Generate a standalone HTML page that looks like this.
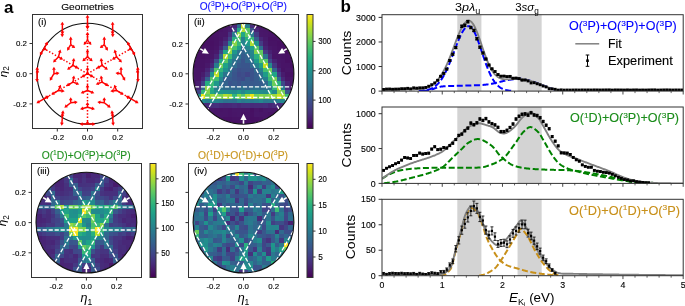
<!DOCTYPE html>
<html><head><meta charset="utf-8"><title>figure</title>
<style>html,body{margin:0;padding:0;background:#fff;width:685px;height:306px;overflow:hidden}svg{display:block;will-change:transform}text{font-family:"Liberation Sans",sans-serif}</style>
</head><body>
<svg width="685" height="306" viewBox="0 0 685 306" font-family='"Liberation Sans", sans-serif'>
<rect x="0" y="0" width="685" height="306" fill="#fff"/>
<text x="4.00" y="12.80" font-size="17.00" text-anchor="start" fill="#000" font-weight="bold">a</text>
<text x="340.50" y="12.40" font-size="17.00" text-anchor="start" fill="#000" font-weight="bold">b</text>
<text x="87.50" y="9.60" font-size="9.60" text-anchor="middle" fill="#000" textLength="52.60" lengthAdjust="spacingAndGlyphs" stroke="#000" stroke-width="0.12">Geometries</text>
<text x="243.30" y="9.80" font-size="10.00" text-anchor="middle" fill="#1010ff" textLength="87.20" lengthAdjust="spacingAndGlyphs" stroke="#1010ff" stroke-width="0.12">O(<tspan dy="-3.60" font-size="6.60">3</tspan><tspan dy="3.60">P)</tspan><tspan dy="0">+</tspan>O(<tspan dy="-3.60" font-size="6.60">3</tspan><tspan dy="3.60">P)</tspan><tspan dy="0">+</tspan>O(<tspan dy="-3.60" font-size="6.60">3</tspan><tspan dy="3.60">P)</tspan></text>
<text x="86.10" y="158.80" font-size="10.00" text-anchor="middle" fill="#1f901f" textLength="88.90" lengthAdjust="spacingAndGlyphs" stroke="#1f901f" stroke-width="0.12">O(<tspan dy="-3.60" font-size="6.60">1</tspan><tspan dy="3.60">D)</tspan><tspan dy="0">+</tspan>O(<tspan dy="-3.60" font-size="6.60">3</tspan><tspan dy="3.60">P)</tspan><tspan dy="0">+</tspan>O(<tspan dy="-3.60" font-size="6.60">3</tspan><tspan dy="3.60">P)</tspan></text>
<text x="243.00" y="158.80" font-size="10.00" text-anchor="middle" fill="#c8961e" textLength="90.00" lengthAdjust="spacingAndGlyphs" stroke="#c8961e" stroke-width="0.12">O(<tspan dy="-3.60" font-size="6.60">1</tspan><tspan dy="3.60">D)</tspan><tspan dy="0">+</tspan>O(<tspan dy="-3.60" font-size="6.60">1</tspan><tspan dy="3.60">D)</tspan><tspan dy="0">+</tspan>O(<tspan dy="-3.60" font-size="6.60">3</tspan><tspan dy="3.60">P)</tspan></text>
<g>
<line x1="87.50" y1="73.70" x2="131.15" y2="48.50" stroke="#ff0000" stroke-width="1.5" stroke-dasharray="1.4 1.9"/>
<line x1="87.50" y1="73.70" x2="87.50" y2="23.30" stroke="#ff0000" stroke-width="1.5" stroke-dasharray="1.4 1.9"/>
<line x1="87.50" y1="73.70" x2="43.85" y2="48.50" stroke="#ff0000" stroke-width="1.5" stroke-dasharray="1.4 1.9"/>
<line x1="87.50" y1="73.70" x2="43.85" y2="98.90" stroke="#ff0000" stroke-width="1.5" stroke-dasharray="1.4 1.9"/>
<line x1="87.50" y1="73.70" x2="87.50" y2="124.10" stroke="#ff0000" stroke-width="1.5" stroke-dasharray="1.4 1.9"/>
<line x1="87.50" y1="73.70" x2="131.15" y2="98.90" stroke="#ff0000" stroke-width="1.5" stroke-dasharray="1.4 1.9"/>
<circle cx="87.50" cy="73.70" r="50.40" fill="none" stroke="#111" stroke-width="1.1"/>
<line x1="87.50" y1="73.70" x2="87.50" y2="69.26" stroke="#ff0000" stroke-width="1.45"/>
<path d="M87.50 66.66L89.35 69.76L85.65 69.76Z" fill="#ff0000"/>
<line x1="87.50" y1="73.70" x2="83.65" y2="75.92" stroke="#ff0000" stroke-width="1.45"/>
<path d="M81.40 77.22L83.16 74.07L85.01 77.27Z" fill="#ff0000"/>
<line x1="87.50" y1="73.70" x2="91.35" y2="75.92" stroke="#ff0000" stroke-width="1.45"/>
<path d="M93.60 77.22L89.99 77.27L91.84 74.07Z" fill="#ff0000"/>
<line x1="102.03" y1="65.31" x2="101.38" y2="60.59" stroke="#ff0000" stroke-width="1.45"/>
<path d="M101.03 58.01L103.28 60.83L99.62 61.34Z" fill="#ff0000"/>
<line x1="102.03" y1="65.31" x2="98.83" y2="67.16" stroke="#ff0000" stroke-width="1.45"/>
<path d="M96.57 68.46L98.33 65.31L100.18 68.51Z" fill="#ff0000"/>
<line x1="102.03" y1="65.31" x2="105.80" y2="68.23" stroke="#ff0000" stroke-width="1.45"/>
<path d="M107.85 69.82L104.27 69.39L106.53 66.46Z" fill="#ff0000"/>
<line x1="87.50" y1="56.92" x2="87.50" y2="51.86" stroke="#ff0000" stroke-width="1.45"/>
<path d="M87.50 49.26L89.35 52.36L85.65 52.36Z" fill="#ff0000"/>
<line x1="87.50" y1="56.92" x2="84.33" y2="59.51" stroke="#ff0000" stroke-width="1.45"/>
<path d="M82.32 61.15L83.55 57.76L85.89 60.63Z" fill="#ff0000"/>
<line x1="87.50" y1="56.92" x2="90.67" y2="59.51" stroke="#ff0000" stroke-width="1.45"/>
<path d="M92.68 61.15L89.11 60.63L91.45 57.76Z" fill="#ff0000"/>
<line x1="72.97" y1="65.31" x2="73.62" y2="60.59" stroke="#ff0000" stroke-width="1.45"/>
<path d="M73.97 58.01L75.38 61.34L71.72 60.83Z" fill="#ff0000"/>
<line x1="72.97" y1="65.31" x2="69.20" y2="68.23" stroke="#ff0000" stroke-width="1.45"/>
<path d="M67.15 69.82L68.47 66.46L70.73 69.39Z" fill="#ff0000"/>
<line x1="72.97" y1="65.31" x2="76.17" y2="67.16" stroke="#ff0000" stroke-width="1.45"/>
<path d="M78.43 68.46L74.82 68.51L76.67 65.31Z" fill="#ff0000"/>
<line x1="72.97" y1="82.09" x2="73.63" y2="78.05" stroke="#ff0000" stroke-width="1.45"/>
<path d="M74.04 75.49L75.37 78.84L71.72 78.25Z" fill="#ff0000"/>
<line x1="72.97" y1="82.09" x2="68.58" y2="84.62" stroke="#ff0000" stroke-width="1.45"/>
<path d="M66.33 85.92L68.09 82.77L69.94 85.97Z" fill="#ff0000"/>
<line x1="72.97" y1="82.09" x2="76.79" y2="83.54" stroke="#ff0000" stroke-width="1.45"/>
<path d="M79.22 84.46L75.67 85.09L76.98 81.63Z" fill="#ff0000"/>
<line x1="87.50" y1="90.48" x2="87.50" y2="86.78" stroke="#ff0000" stroke-width="1.45"/>
<path d="M87.50 84.18L89.35 87.28L85.65 87.28Z" fill="#ff0000"/>
<line x1="87.50" y1="90.48" x2="83.09" y2="92.28" stroke="#ff0000" stroke-width="1.45"/>
<path d="M80.68 93.26L82.85 90.38L84.25 93.80Z" fill="#ff0000"/>
<line x1="87.50" y1="90.48" x2="91.91" y2="92.28" stroke="#ff0000" stroke-width="1.45"/>
<path d="M94.32 93.26L90.75 93.80L92.15 90.38Z" fill="#ff0000"/>
<line x1="102.03" y1="82.09" x2="101.37" y2="78.05" stroke="#ff0000" stroke-width="1.45"/>
<path d="M100.96 75.49L103.28 78.25L99.63 78.84Z" fill="#ff0000"/>
<line x1="102.03" y1="82.09" x2="98.21" y2="83.54" stroke="#ff0000" stroke-width="1.45"/>
<path d="M95.78 84.46L98.02 81.63L99.33 85.09Z" fill="#ff0000"/>
<line x1="102.03" y1="82.09" x2="106.42" y2="84.62" stroke="#ff0000" stroke-width="1.45"/>
<path d="M108.67 85.92L105.06 85.97L106.91 82.77Z" fill="#ff0000"/>
<line x1="121.06" y1="73.70" x2="121.06" y2="69.26" stroke="#ff0000" stroke-width="1.45"/>
<path d="M121.06 66.66L122.91 69.76L119.21 69.76Z" fill="#ff0000"/>
<line x1="121.06" y1="73.70" x2="118.05" y2="73.34" stroke="#ff0000" stroke-width="1.45"/>
<path d="M115.47 73.03L118.77 71.56L118.33 75.24Z" fill="#ff0000"/>
<line x1="121.06" y1="73.70" x2="123.87" y2="78.40" stroke="#ff0000" stroke-width="1.45"/>
<path d="M125.21 80.63L122.03 78.92L125.20 77.02Z" fill="#ff0000"/>
<line x1="116.56" y1="56.92" x2="115.20" y2="52.04" stroke="#ff0000" stroke-width="1.45"/>
<path d="M114.51 49.54L117.12 52.03L113.56 53.02Z" fill="#ff0000"/>
<line x1="116.56" y1="56.92" x2="114.19" y2="58.29" stroke="#ff0000" stroke-width="1.45"/>
<path d="M111.94 59.59L113.70 56.44L115.55 59.64Z" fill="#ff0000"/>
<line x1="116.56" y1="56.92" x2="120.11" y2="60.54" stroke="#ff0000" stroke-width="1.45"/>
<path d="M121.93 62.39L118.44 61.48L121.08 58.88Z" fill="#ff0000"/>
<line x1="104.28" y1="44.64" x2="104.28" y2="39.16" stroke="#ff0000" stroke-width="1.45"/>
<path d="M104.28 36.56L106.13 39.66L102.43 39.66Z" fill="#ff0000"/>
<line x1="104.28" y1="44.64" x2="101.88" y2="46.49" stroke="#ff0000" stroke-width="1.45"/>
<path d="M99.83 48.09L101.15 44.73L103.41 47.65Z" fill="#ff0000"/>
<line x1="104.28" y1="44.64" x2="106.56" y2="48.45" stroke="#ff0000" stroke-width="1.45"/>
<path d="M107.90 50.68L104.72 48.97L107.89 47.07Z" fill="#ff0000"/>
<line x1="87.50" y1="40.14" x2="87.50" y2="34.53" stroke="#ff0000" stroke-width="1.45"/>
<path d="M87.50 31.93L89.35 35.03L85.65 35.03Z" fill="#ff0000"/>
<line x1="87.50" y1="40.14" x2="85.23" y2="43.07" stroke="#ff0000" stroke-width="1.45"/>
<path d="M83.64 45.12L84.08 41.54L87.00 43.81Z" fill="#ff0000"/>
<line x1="87.50" y1="40.14" x2="89.77" y2="43.07" stroke="#ff0000" stroke-width="1.45"/>
<path d="M91.36 45.12L88.00 43.81L90.92 41.54Z" fill="#ff0000"/>
<line x1="70.72" y1="44.64" x2="70.72" y2="39.16" stroke="#ff0000" stroke-width="1.45"/>
<path d="M70.72 36.56L72.57 39.66L68.87 39.66Z" fill="#ff0000"/>
<line x1="70.72" y1="44.64" x2="68.44" y2="48.45" stroke="#ff0000" stroke-width="1.45"/>
<path d="M67.10 50.68L67.11 47.07L70.28 48.97Z" fill="#ff0000"/>
<line x1="70.72" y1="44.64" x2="73.12" y2="46.49" stroke="#ff0000" stroke-width="1.45"/>
<path d="M75.17 48.09L71.59 47.65L73.85 44.73Z" fill="#ff0000"/>
<line x1="58.44" y1="56.92" x2="59.80" y2="52.04" stroke="#ff0000" stroke-width="1.45"/>
<path d="M60.49 49.54L61.44 53.02L57.88 52.03Z" fill="#ff0000"/>
<line x1="58.44" y1="56.92" x2="54.89" y2="60.54" stroke="#ff0000" stroke-width="1.45"/>
<path d="M53.07 62.39L53.92 58.88L56.56 61.48Z" fill="#ff0000"/>
<line x1="58.44" y1="56.92" x2="60.81" y2="58.29" stroke="#ff0000" stroke-width="1.45"/>
<path d="M63.06 59.59L59.45 59.64L61.30 56.44Z" fill="#ff0000"/>
<line x1="53.94" y1="73.70" x2="53.94" y2="69.26" stroke="#ff0000" stroke-width="1.45"/>
<path d="M53.94 66.66L55.79 69.76L52.09 69.76Z" fill="#ff0000"/>
<line x1="53.94" y1="73.70" x2="51.13" y2="78.40" stroke="#ff0000" stroke-width="1.45"/>
<path d="M49.79 80.63L49.80 77.02L52.97 78.92Z" fill="#ff0000"/>
<line x1="53.94" y1="73.70" x2="56.95" y2="73.34" stroke="#ff0000" stroke-width="1.45"/>
<path d="M59.53 73.03L56.67 75.24L56.23 71.56Z" fill="#ff0000"/>
<line x1="58.44" y1="90.48" x2="59.84" y2="87.05" stroke="#ff0000" stroke-width="1.45"/>
<path d="M60.82 84.65L61.36 88.22L57.94 86.82Z" fill="#ff0000"/>
<line x1="58.44" y1="90.48" x2="53.58" y2="93.29" stroke="#ff0000" stroke-width="1.45"/>
<path d="M51.32 94.59L53.08 91.43L54.93 94.64Z" fill="#ff0000"/>
<line x1="58.44" y1="90.48" x2="62.11" y2="90.98" stroke="#ff0000" stroke-width="1.45"/>
<path d="M64.68 91.33L61.36 92.74L61.86 89.08Z" fill="#ff0000"/>
<line x1="70.72" y1="102.76" x2="70.72" y2="99.73" stroke="#ff0000" stroke-width="1.45"/>
<path d="M70.72 97.13L72.57 100.23L68.87 100.23Z" fill="#ff0000"/>
<line x1="70.72" y1="102.76" x2="66.39" y2="106.11" stroke="#ff0000" stroke-width="1.45"/>
<path d="M64.34 107.71L65.66 104.34L67.92 107.27Z" fill="#ff0000"/>
<line x1="70.72" y1="102.76" x2="75.13" y2="102.23" stroke="#ff0000" stroke-width="1.45"/>
<path d="M77.71 101.92L74.86 104.13L74.42 100.45Z" fill="#ff0000"/>
<line x1="87.50" y1="107.26" x2="87.50" y2="104.52" stroke="#ff0000" stroke-width="1.45"/>
<path d="M87.50 101.92L89.35 105.02L85.65 105.02Z" fill="#ff0000"/>
<line x1="87.50" y1="107.26" x2="82.59" y2="108.52" stroke="#ff0000" stroke-width="1.45"/>
<path d="M80.08 109.17L82.62 106.61L83.54 110.19Z" fill="#ff0000"/>
<line x1="87.50" y1="107.26" x2="92.41" y2="108.52" stroke="#ff0000" stroke-width="1.45"/>
<path d="M94.92 109.17L91.46 110.19L92.38 106.61Z" fill="#ff0000"/>
<line x1="104.28" y1="102.76" x2="104.28" y2="99.73" stroke="#ff0000" stroke-width="1.45"/>
<path d="M104.28 97.13L106.13 100.23L102.43 100.23Z" fill="#ff0000"/>
<line x1="104.28" y1="102.76" x2="99.87" y2="102.23" stroke="#ff0000" stroke-width="1.45"/>
<path d="M97.29 101.92L100.58 100.45L100.14 104.13Z" fill="#ff0000"/>
<line x1="104.28" y1="102.76" x2="108.61" y2="106.11" stroke="#ff0000" stroke-width="1.45"/>
<path d="M110.66 107.71L107.08 107.27L109.34 104.34Z" fill="#ff0000"/>
<line x1="116.56" y1="90.48" x2="115.16" y2="87.05" stroke="#ff0000" stroke-width="1.45"/>
<path d="M114.18 84.65L117.06 86.82L113.64 88.22Z" fill="#ff0000"/>
<line x1="116.56" y1="90.48" x2="112.89" y2="90.98" stroke="#ff0000" stroke-width="1.45"/>
<path d="M110.32 91.33L113.14 89.08L113.64 92.74Z" fill="#ff0000"/>
<line x1="116.56" y1="90.48" x2="121.42" y2="93.29" stroke="#ff0000" stroke-width="1.45"/>
<path d="M123.68 94.59L120.07 94.64L121.92 91.43Z" fill="#ff0000"/>
<line x1="137.78" y1="73.70" x2="137.78" y2="69.26" stroke="#ff0000" stroke-width="1.45"/>
<path d="M137.78 66.66L139.63 69.76L135.93 69.76Z" fill="#ff0000"/>
<line x1="137.78" y1="73.70" x2="137.58" y2="71.83" stroke="#ff0000" stroke-width="1.45"/>
<path d="M137.31 69.24L139.48 72.13L135.80 72.52Z" fill="#ff0000"/>
<line x1="137.78" y1="73.70" x2="137.95" y2="79.62" stroke="#ff0000" stroke-width="1.45"/>
<path d="M138.02 82.22L136.09 79.17L139.79 79.06Z" fill="#ff0000"/>
<line x1="131.05" y1="48.56" x2="128.43" y2="43.89" stroke="#ff0000" stroke-width="1.45"/>
<path d="M127.16 41.62L130.29 43.42L127.06 45.23Z" fill="#ff0000"/>
<line x1="131.05" y1="48.56" x2="130.27" y2="49.01" stroke="#ff0000" stroke-width="1.45"/>
<path d="M128.02 50.31L129.77 47.16L131.62 50.36Z" fill="#ff0000"/>
<line x1="131.05" y1="48.56" x2="133.78" y2="53.16" stroke="#ff0000" stroke-width="1.45"/>
<path d="M135.11 55.39L131.93 53.67L135.11 51.78Z" fill="#ff0000"/>
<line x1="112.64" y1="30.15" x2="112.64" y2="24.23" stroke="#ff0000" stroke-width="1.45"/>
<path d="M112.64 21.63L114.49 24.73L110.79 24.73Z" fill="#ff0000"/>
<line x1="112.64" y1="30.15" x2="112.50" y2="32.03" stroke="#ff0000" stroke-width="1.45"/>
<path d="M112.30 34.62L110.69 31.39L114.38 31.68Z" fill="#ff0000"/>
<line x1="112.64" y1="30.15" x2="112.77" y2="34.59" stroke="#ff0000" stroke-width="1.45"/>
<path d="M112.84 37.19L110.90 34.15L114.60 34.04Z" fill="#ff0000"/>
<line x1="87.50" y1="23.42" x2="87.50" y2="17.30" stroke="#ff0000" stroke-width="1.45"/>
<path d="M87.50 14.70L89.35 17.80L85.65 17.80Z" fill="#ff0000"/>
<line x1="87.50" y1="23.42" x2="87.37" y2="26.67" stroke="#ff0000" stroke-width="1.45"/>
<path d="M87.27 29.27L85.54 26.10L89.24 26.25Z" fill="#ff0000"/>
<line x1="87.50" y1="23.42" x2="87.63" y2="26.67" stroke="#ff0000" stroke-width="1.45"/>
<path d="M87.73 29.27L85.76 26.25L89.46 26.10Z" fill="#ff0000"/>
<line x1="62.36" y1="30.15" x2="62.36" y2="24.23" stroke="#ff0000" stroke-width="1.45"/>
<path d="M62.36 21.63L64.21 24.73L60.51 24.73Z" fill="#ff0000"/>
<line x1="62.36" y1="30.15" x2="62.23" y2="34.59" stroke="#ff0000" stroke-width="1.45"/>
<path d="M62.16 37.19L60.40 34.04L64.10 34.15Z" fill="#ff0000"/>
<line x1="62.36" y1="30.15" x2="62.50" y2="32.03" stroke="#ff0000" stroke-width="1.45"/>
<path d="M62.70 34.62L60.62 31.68L64.31 31.39Z" fill="#ff0000"/>
<line x1="43.95" y1="48.56" x2="46.57" y2="43.89" stroke="#ff0000" stroke-width="1.45"/>
<path d="M47.84 41.62L47.94 45.23L44.71 43.42Z" fill="#ff0000"/>
<line x1="43.95" y1="48.56" x2="41.22" y2="53.16" stroke="#ff0000" stroke-width="1.45"/>
<path d="M39.89 55.39L39.89 51.78L43.07 53.67Z" fill="#ff0000"/>
<line x1="43.95" y1="48.56" x2="44.73" y2="49.01" stroke="#ff0000" stroke-width="1.45"/>
<path d="M46.98 50.31L43.38 50.36L45.23 47.16Z" fill="#ff0000"/>
<line x1="37.22" y1="73.70" x2="37.22" y2="69.26" stroke="#ff0000" stroke-width="1.45"/>
<path d="M37.22 66.66L39.07 69.76L35.37 69.76Z" fill="#ff0000"/>
<line x1="37.22" y1="73.70" x2="37.05" y2="79.62" stroke="#ff0000" stroke-width="1.45"/>
<path d="M36.98 82.22L35.21 79.06L38.91 79.17Z" fill="#ff0000"/>
<line x1="37.22" y1="73.70" x2="37.42" y2="71.83" stroke="#ff0000" stroke-width="1.45"/>
<path d="M37.69 69.24L39.20 72.52L35.52 72.13Z" fill="#ff0000"/>
<line x1="43.95" y1="98.84" x2="46.71" y2="97.10" stroke="#ff0000" stroke-width="1.45"/>
<path d="M48.91 95.72L47.27 98.94L45.30 95.81Z" fill="#ff0000"/>
<line x1="43.95" y1="98.84" x2="38.66" y2="101.90" stroke="#ff0000" stroke-width="1.45"/>
<path d="M36.41 103.20L38.17 100.05L40.02 103.25Z" fill="#ff0000"/>
<line x1="43.95" y1="98.84" x2="46.84" y2="97.32" stroke="#ff0000" stroke-width="1.45"/>
<path d="M49.14 96.11L47.26 99.19L45.53 95.92Z" fill="#ff0000"/>
<line x1="62.36" y1="117.25" x2="62.36" y2="115.36" stroke="#ff0000" stroke-width="1.45"/>
<path d="M62.36 112.76L64.21 115.86L60.51 115.86Z" fill="#ff0000"/>
<line x1="62.36" y1="117.25" x2="61.90" y2="123.15" stroke="#ff0000" stroke-width="1.45"/>
<path d="M61.70 125.74L60.10 122.51L63.78 122.79Z" fill="#ff0000"/>
<line x1="62.36" y1="117.25" x2="62.83" y2="112.83" stroke="#ff0000" stroke-width="1.45"/>
<path d="M63.10 110.24L64.61 113.52L60.93 113.13Z" fill="#ff0000"/>
<line x1="87.50" y1="123.98" x2="87.50" y2="123.08" stroke="#ff0000" stroke-width="1.45"/>
<path d="M87.50 120.48L89.35 123.58L85.65 123.58Z" fill="#ff0000"/>
<line x1="87.50" y1="123.98" x2="82.15" y2="124.05" stroke="#ff0000" stroke-width="1.45"/>
<path d="M79.55 124.09L82.63 122.20L82.68 125.90Z" fill="#ff0000"/>
<line x1="87.50" y1="123.98" x2="92.85" y2="124.05" stroke="#ff0000" stroke-width="1.45"/>
<path d="M95.45 124.09L92.32 125.90L92.37 122.20Z" fill="#ff0000"/>
<line x1="112.64" y1="117.25" x2="112.64" y2="115.36" stroke="#ff0000" stroke-width="1.45"/>
<path d="M112.64 112.76L114.49 115.86L110.79 115.86Z" fill="#ff0000"/>
<line x1="112.64" y1="117.25" x2="112.17" y2="112.83" stroke="#ff0000" stroke-width="1.45"/>
<path d="M111.90 110.24L114.07 113.13L110.39 113.52Z" fill="#ff0000"/>
<line x1="112.64" y1="117.25" x2="113.10" y2="123.15" stroke="#ff0000" stroke-width="1.45"/>
<path d="M113.30 125.74L111.22 122.79L114.90 122.51Z" fill="#ff0000"/>
<line x1="131.05" y1="98.84" x2="128.29" y2="97.10" stroke="#ff0000" stroke-width="1.45"/>
<path d="M126.09 95.72L129.70 95.81L127.73 98.94Z" fill="#ff0000"/>
<line x1="131.05" y1="98.84" x2="128.16" y2="97.32" stroke="#ff0000" stroke-width="1.45"/>
<path d="M125.86 96.11L129.47 95.92L127.74 99.19Z" fill="#ff0000"/>
<line x1="131.05" y1="98.84" x2="136.34" y2="101.90" stroke="#ff0000" stroke-width="1.45"/>
<path d="M138.59 103.20L134.98 103.25L136.83 100.05Z" fill="#ff0000"/>
</g>
<defs><clipPath id="clip_ii"><circle cx="243.50" cy="73.80" r="50.40"/></clipPath></defs>
<g clip-path="url(#clip_ii)" shape-rendering="crispEdges">
<rect x="218.70" y="23.25" width="4.50" height="4.50" fill="#471063"/>
<rect x="223.15" y="23.25" width="4.50" height="4.50" fill="#471365"/>
<rect x="227.60" y="23.25" width="4.50" height="4.50" fill="#481769"/>
<rect x="232.05" y="23.25" width="4.50" height="4.50" fill="#482677"/>
<rect x="236.50" y="23.25" width="4.50" height="4.50" fill="#2f6c8e"/>
<rect x="240.95" y="23.25" width="4.50" height="4.50" fill="#c2df23"/>
<rect x="245.40" y="23.25" width="4.50" height="4.50" fill="#26828e"/>
<rect x="249.85" y="23.25" width="4.50" height="4.50" fill="#472e7c"/>
<rect x="254.30" y="23.25" width="4.50" height="4.50" fill="#481668"/>
<rect x="258.75" y="23.25" width="4.50" height="4.50" fill="#481467"/>
<rect x="263.20" y="23.25" width="4.50" height="4.50" fill="#471063"/>
<rect x="214.25" y="27.70" width="4.50" height="4.50" fill="#471063"/>
<rect x="218.70" y="27.70" width="4.50" height="4.50" fill="#481467"/>
<rect x="223.15" y="27.70" width="4.50" height="4.50" fill="#481769"/>
<rect x="227.60" y="27.70" width="4.50" height="4.50" fill="#481d6f"/>
<rect x="232.05" y="27.70" width="4.50" height="4.50" fill="#423f85"/>
<rect x="236.50" y="27.70" width="4.50" height="4.50" fill="#22a884"/>
<rect x="240.95" y="27.70" width="4.50" height="4.50" fill="#b0dd2f"/>
<rect x="245.40" y="27.70" width="4.50" height="4.50" fill="#54c568"/>
<rect x="249.85" y="27.70" width="4.50" height="4.50" fill="#3b528b"/>
<rect x="254.30" y="27.70" width="4.50" height="4.50" fill="#482475"/>
<rect x="258.75" y="27.70" width="4.50" height="4.50" fill="#481769"/>
<rect x="263.20" y="27.70" width="4.50" height="4.50" fill="#481668"/>
<rect x="267.65" y="27.70" width="4.50" height="4.50" fill="#471365"/>
<rect x="205.35" y="32.15" width="4.50" height="4.50" fill="#471063"/>
<rect x="209.80" y="32.15" width="4.50" height="4.50" fill="#471365"/>
<rect x="214.25" y="32.15" width="4.50" height="4.50" fill="#481467"/>
<rect x="218.70" y="32.15" width="4.50" height="4.50" fill="#481769"/>
<rect x="223.15" y="32.15" width="4.50" height="4.50" fill="#481769"/>
<rect x="227.60" y="32.15" width="4.50" height="4.50" fill="#46307e"/>
<rect x="232.05" y="32.15" width="4.50" height="4.50" fill="#297b8e"/>
<rect x="236.50" y="32.15" width="4.50" height="4.50" fill="#8bd646"/>
<rect x="240.95" y="32.15" width="4.50" height="4.50" fill="#22a785"/>
<rect x="245.40" y="32.15" width="4.50" height="4.50" fill="#60ca60"/>
<rect x="249.85" y="32.15" width="4.50" height="4.50" fill="#29798e"/>
<rect x="254.30" y="32.15" width="4.50" height="4.50" fill="#443a83"/>
<rect x="258.75" y="32.15" width="4.50" height="4.50" fill="#48186a"/>
<rect x="263.20" y="32.15" width="4.50" height="4.50" fill="#481769"/>
<rect x="267.65" y="32.15" width="4.50" height="4.50" fill="#481467"/>
<rect x="272.10" y="32.15" width="4.50" height="4.50" fill="#481467"/>
<rect x="276.55" y="32.15" width="4.50" height="4.50" fill="#471164"/>
<rect x="200.90" y="36.60" width="4.50" height="4.50" fill="#471063"/>
<rect x="205.35" y="36.60" width="4.50" height="4.50" fill="#471164"/>
<rect x="209.80" y="36.60" width="4.50" height="4.50" fill="#471164"/>
<rect x="214.25" y="36.60" width="4.50" height="4.50" fill="#471365"/>
<rect x="218.70" y="36.60" width="4.50" height="4.50" fill="#481668"/>
<rect x="223.15" y="36.60" width="4.50" height="4.50" fill="#482071"/>
<rect x="227.60" y="36.60" width="4.50" height="4.50" fill="#3f4788"/>
<rect x="232.05" y="36.60" width="4.50" height="4.50" fill="#27ad81"/>
<rect x="236.50" y="36.60" width="4.50" height="4.50" fill="#4ac16d"/>
<rect x="240.95" y="36.60" width="4.50" height="4.50" fill="#27808e"/>
<rect x="245.40" y="36.60" width="4.50" height="4.50" fill="#29af7f"/>
<rect x="249.85" y="36.60" width="4.50" height="4.50" fill="#38b977"/>
<rect x="254.30" y="36.60" width="4.50" height="4.50" fill="#375b8d"/>
<rect x="258.75" y="36.60" width="4.50" height="4.50" fill="#482576"/>
<rect x="263.20" y="36.60" width="4.50" height="4.50" fill="#481a6c"/>
<rect x="267.65" y="36.60" width="4.50" height="4.50" fill="#471164"/>
<rect x="272.10" y="36.60" width="4.50" height="4.50" fill="#471164"/>
<rect x="276.55" y="36.60" width="4.50" height="4.50" fill="#471365"/>
<rect x="281.00" y="36.60" width="4.50" height="4.50" fill="#471063"/>
<rect x="200.90" y="41.05" width="4.50" height="4.50" fill="#470e61"/>
<rect x="205.35" y="41.05" width="4.50" height="4.50" fill="#471164"/>
<rect x="209.80" y="41.05" width="4.50" height="4.50" fill="#471063"/>
<rect x="214.25" y="41.05" width="4.50" height="4.50" fill="#471365"/>
<rect x="218.70" y="41.05" width="4.50" height="4.50" fill="#481a6c"/>
<rect x="223.15" y="41.05" width="4.50" height="4.50" fill="#46327e"/>
<rect x="227.60" y="41.05" width="4.50" height="4.50" fill="#25838e"/>
<rect x="232.05" y="41.05" width="4.50" height="4.50" fill="#86d549"/>
<rect x="236.50" y="41.05" width="4.50" height="4.50" fill="#34b679"/>
<rect x="240.95" y="41.05" width="4.50" height="4.50" fill="#25838e"/>
<rect x="245.40" y="41.05" width="4.50" height="4.50" fill="#1f9a8a"/>
<rect x="249.85" y="41.05" width="4.50" height="4.50" fill="#aadc32"/>
<rect x="254.30" y="41.05" width="4.50" height="4.50" fill="#20928c"/>
<rect x="258.75" y="41.05" width="4.50" height="4.50" fill="#443b84"/>
<rect x="263.20" y="41.05" width="4.50" height="4.50" fill="#481d6f"/>
<rect x="267.65" y="41.05" width="4.50" height="4.50" fill="#471365"/>
<rect x="272.10" y="41.05" width="4.50" height="4.50" fill="#471365"/>
<rect x="276.55" y="41.05" width="4.50" height="4.50" fill="#471063"/>
<rect x="281.00" y="41.05" width="4.50" height="4.50" fill="#471164"/>
<rect x="196.45" y="45.50" width="4.50" height="4.50" fill="#471063"/>
<rect x="200.90" y="45.50" width="4.50" height="4.50" fill="#471164"/>
<rect x="205.35" y="45.50" width="4.50" height="4.50" fill="#471365"/>
<rect x="209.80" y="45.50" width="4.50" height="4.50" fill="#471164"/>
<rect x="214.25" y="45.50" width="4.50" height="4.50" fill="#481467"/>
<rect x="218.70" y="45.50" width="4.50" height="4.50" fill="#482576"/>
<rect x="223.15" y="45.50" width="4.50" height="4.50" fill="#365c8d"/>
<rect x="227.60" y="45.50" width="4.50" height="4.50" fill="#8ed645"/>
<rect x="232.05" y="45.50" width="4.50" height="4.50" fill="#44bf70"/>
<rect x="236.50" y="45.50" width="4.50" height="4.50" fill="#1e9d89"/>
<rect x="240.95" y="45.50" width="4.50" height="4.50" fill="#31668e"/>
<rect x="245.40" y="45.50" width="4.50" height="4.50" fill="#25858e"/>
<rect x="249.85" y="45.50" width="4.50" height="4.50" fill="#1fa188"/>
<rect x="254.30" y="45.50" width="4.50" height="4.50" fill="#56c667"/>
<rect x="258.75" y="45.50" width="4.50" height="4.50" fill="#2d708e"/>
<rect x="263.20" y="45.50" width="4.50" height="4.50" fill="#482475"/>
<rect x="267.65" y="45.50" width="4.50" height="4.50" fill="#481769"/>
<rect x="272.10" y="45.50" width="4.50" height="4.50" fill="#481467"/>
<rect x="276.55" y="45.50" width="4.50" height="4.50" fill="#471164"/>
<rect x="281.00" y="45.50" width="4.50" height="4.50" fill="#471164"/>
<rect x="285.45" y="45.50" width="4.50" height="4.50" fill="#470e61"/>
<rect x="196.45" y="49.95" width="4.50" height="4.50" fill="#471063"/>
<rect x="200.90" y="49.95" width="4.50" height="4.50" fill="#471164"/>
<rect x="205.35" y="49.95" width="4.50" height="4.50" fill="#481467"/>
<rect x="209.80" y="49.95" width="4.50" height="4.50" fill="#481668"/>
<rect x="214.25" y="49.95" width="4.50" height="4.50" fill="#481a6c"/>
<rect x="218.70" y="49.95" width="4.50" height="4.50" fill="#404588"/>
<rect x="223.15" y="49.95" width="4.50" height="4.50" fill="#21a585"/>
<rect x="227.60" y="49.95" width="4.50" height="4.50" fill="#95d840"/>
<rect x="232.05" y="49.95" width="4.50" height="4.50" fill="#1f978b"/>
<rect x="236.50" y="49.95" width="4.50" height="4.50" fill="#2b758e"/>
<rect x="240.95" y="49.95" width="4.50" height="4.50" fill="#33638d"/>
<rect x="245.40" y="49.95" width="4.50" height="4.50" fill="#2b748e"/>
<rect x="249.85" y="49.95" width="4.50" height="4.50" fill="#25858e"/>
<rect x="254.30" y="49.95" width="4.50" height="4.50" fill="#7fd34e"/>
<rect x="258.75" y="49.95" width="4.50" height="4.50" fill="#5ec962"/>
<rect x="263.20" y="49.95" width="4.50" height="4.50" fill="#443b84"/>
<rect x="267.65" y="49.95" width="4.50" height="4.50" fill="#482173"/>
<rect x="272.10" y="49.95" width="4.50" height="4.50" fill="#481668"/>
<rect x="276.55" y="49.95" width="4.50" height="4.50" fill="#481467"/>
<rect x="281.00" y="49.95" width="4.50" height="4.50" fill="#481467"/>
<rect x="285.45" y="49.95" width="4.50" height="4.50" fill="#470e61"/>
<rect x="289.90" y="49.95" width="4.50" height="4.50" fill="#471063"/>
<rect x="192.00" y="54.40" width="4.50" height="4.50" fill="#470e61"/>
<rect x="196.45" y="54.40" width="4.50" height="4.50" fill="#471164"/>
<rect x="200.90" y="54.40" width="4.50" height="4.50" fill="#471063"/>
<rect x="205.35" y="54.40" width="4.50" height="4.50" fill="#471365"/>
<rect x="209.80" y="54.40" width="4.50" height="4.50" fill="#481769"/>
<rect x="214.25" y="54.40" width="4.50" height="4.50" fill="#482576"/>
<rect x="218.70" y="54.40" width="4.50" height="4.50" fill="#2f6b8e"/>
<rect x="223.15" y="54.40" width="4.50" height="4.50" fill="#b0dd2f"/>
<rect x="227.60" y="54.40" width="4.50" height="4.50" fill="#3dbc74"/>
<rect x="232.05" y="54.40" width="4.50" height="4.50" fill="#25838e"/>
<rect x="236.50" y="54.40" width="4.50" height="4.50" fill="#2c738e"/>
<rect x="240.95" y="54.40" width="4.50" height="4.50" fill="#375b8d"/>
<rect x="245.40" y="54.40" width="4.50" height="4.50" fill="#33628d"/>
<rect x="249.85" y="54.40" width="4.50" height="4.50" fill="#25838e"/>
<rect x="254.30" y="54.40" width="4.50" height="4.50" fill="#2ab07f"/>
<rect x="258.75" y="54.40" width="4.50" height="4.50" fill="#67cc5c"/>
<rect x="263.20" y="54.40" width="4.50" height="4.50" fill="#2b758e"/>
<rect x="267.65" y="54.40" width="4.50" height="4.50" fill="#472e7c"/>
<rect x="272.10" y="54.40" width="4.50" height="4.50" fill="#481467"/>
<rect x="276.55" y="54.40" width="4.50" height="4.50" fill="#481467"/>
<rect x="281.00" y="54.40" width="4.50" height="4.50" fill="#471365"/>
<rect x="285.45" y="54.40" width="4.50" height="4.50" fill="#471164"/>
<rect x="289.90" y="54.40" width="4.50" height="4.50" fill="#470e61"/>
<rect x="192.00" y="58.85" width="4.50" height="4.50" fill="#471063"/>
<rect x="196.45" y="58.85" width="4.50" height="4.50" fill="#471365"/>
<rect x="200.90" y="58.85" width="4.50" height="4.50" fill="#471365"/>
<rect x="205.35" y="58.85" width="4.50" height="4.50" fill="#481467"/>
<rect x="209.80" y="58.85" width="4.50" height="4.50" fill="#481d6f"/>
<rect x="214.25" y="58.85" width="4.50" height="4.50" fill="#3d4e8a"/>
<rect x="218.70" y="58.85" width="4.50" height="4.50" fill="#24aa83"/>
<rect x="223.15" y="58.85" width="4.50" height="4.50" fill="#56c667"/>
<rect x="227.60" y="58.85" width="4.50" height="4.50" fill="#218f8d"/>
<rect x="232.05" y="58.85" width="4.50" height="4.50" fill="#2d718e"/>
<rect x="236.50" y="58.85" width="4.50" height="4.50" fill="#34618d"/>
<rect x="240.95" y="58.85" width="4.50" height="4.50" fill="#3a548c"/>
<rect x="245.40" y="58.85" width="4.50" height="4.50" fill="#31668e"/>
<rect x="249.85" y="58.85" width="4.50" height="4.50" fill="#2d708e"/>
<rect x="254.30" y="58.85" width="4.50" height="4.50" fill="#1e9b8a"/>
<rect x="258.75" y="58.85" width="4.50" height="4.50" fill="#5ac864"/>
<rect x="263.20" y="58.85" width="4.50" height="4.50" fill="#54c568"/>
<rect x="267.65" y="58.85" width="4.50" height="4.50" fill="#3f4889"/>
<rect x="272.10" y="58.85" width="4.50" height="4.50" fill="#482173"/>
<rect x="276.55" y="58.85" width="4.50" height="4.50" fill="#481668"/>
<rect x="281.00" y="58.85" width="4.50" height="4.50" fill="#481467"/>
<rect x="285.45" y="58.85" width="4.50" height="4.50" fill="#471063"/>
<rect x="289.90" y="58.85" width="4.50" height="4.50" fill="#471365"/>
<rect x="192.00" y="63.30" width="4.50" height="4.50" fill="#471063"/>
<rect x="196.45" y="63.30" width="4.50" height="4.50" fill="#471365"/>
<rect x="200.90" y="63.30" width="4.50" height="4.50" fill="#471365"/>
<rect x="205.35" y="63.30" width="4.50" height="4.50" fill="#48186a"/>
<rect x="209.80" y="63.30" width="4.50" height="4.50" fill="#482979"/>
<rect x="214.25" y="63.30" width="4.50" height="4.50" fill="#277e8e"/>
<rect x="218.70" y="63.30" width="4.50" height="4.50" fill="#75d054"/>
<rect x="223.15" y="63.30" width="4.50" height="4.50" fill="#20a386"/>
<rect x="227.60" y="63.30" width="4.50" height="4.50" fill="#27808e"/>
<rect x="232.05" y="63.30" width="4.50" height="4.50" fill="#306a8e"/>
<rect x="236.50" y="63.30" width="4.50" height="4.50" fill="#38588c"/>
<rect x="240.95" y="63.30" width="4.50" height="4.50" fill="#39558c"/>
<rect x="245.40" y="63.30" width="4.50" height="4.50" fill="#39558c"/>
<rect x="249.85" y="63.30" width="4.50" height="4.50" fill="#30698e"/>
<rect x="254.30" y="63.30" width="4.50" height="4.50" fill="#26828e"/>
<rect x="258.75" y="63.30" width="4.50" height="4.50" fill="#1fa188"/>
<rect x="263.20" y="63.30" width="4.50" height="4.50" fill="#c5e021"/>
<rect x="267.65" y="63.30" width="4.50" height="4.50" fill="#228b8d"/>
<rect x="272.10" y="63.30" width="4.50" height="4.50" fill="#453781"/>
<rect x="276.55" y="63.30" width="4.50" height="4.50" fill="#48186a"/>
<rect x="281.00" y="63.30" width="4.50" height="4.50" fill="#481467"/>
<rect x="285.45" y="63.30" width="4.50" height="4.50" fill="#481467"/>
<rect x="289.90" y="63.30" width="4.50" height="4.50" fill="#471063"/>
<rect x="192.00" y="67.75" width="4.50" height="4.50" fill="#481668"/>
<rect x="196.45" y="67.75" width="4.50" height="4.50" fill="#481467"/>
<rect x="200.90" y="67.75" width="4.50" height="4.50" fill="#481467"/>
<rect x="205.35" y="67.75" width="4.50" height="4.50" fill="#482475"/>
<rect x="209.80" y="67.75" width="4.50" height="4.50" fill="#375a8c"/>
<rect x="214.25" y="67.75" width="4.50" height="4.50" fill="#54c568"/>
<rect x="218.70" y="67.75" width="4.50" height="4.50" fill="#34b679"/>
<rect x="223.15" y="67.75" width="4.50" height="4.50" fill="#20928c"/>
<rect x="227.60" y="67.75" width="4.50" height="4.50" fill="#2a768e"/>
<rect x="232.05" y="67.75" width="4.50" height="4.50" fill="#38598c"/>
<rect x="236.50" y="67.75" width="4.50" height="4.50" fill="#3c4f8a"/>
<rect x="240.95" y="67.75" width="4.50" height="4.50" fill="#3b528b"/>
<rect x="245.40" y="67.75" width="4.50" height="4.50" fill="#3a538b"/>
<rect x="249.85" y="67.75" width="4.50" height="4.50" fill="#3b528b"/>
<rect x="254.30" y="67.75" width="4.50" height="4.50" fill="#31688e"/>
<rect x="258.75" y="67.75" width="4.50" height="4.50" fill="#26828e"/>
<rect x="263.20" y="67.75" width="4.50" height="4.50" fill="#44bf70"/>
<rect x="267.65" y="67.75" width="4.50" height="4.50" fill="#75d054"/>
<rect x="272.10" y="67.75" width="4.50" height="4.50" fill="#32648e"/>
<rect x="276.55" y="67.75" width="4.50" height="4.50" fill="#482677"/>
<rect x="281.00" y="67.75" width="4.50" height="4.50" fill="#471365"/>
<rect x="285.45" y="67.75" width="4.50" height="4.50" fill="#481668"/>
<rect x="289.90" y="67.75" width="4.50" height="4.50" fill="#481467"/>
<rect x="192.00" y="72.20" width="4.50" height="4.50" fill="#481467"/>
<rect x="196.45" y="72.20" width="4.50" height="4.50" fill="#481467"/>
<rect x="200.90" y="72.20" width="4.50" height="4.50" fill="#481c6e"/>
<rect x="205.35" y="72.20" width="4.50" height="4.50" fill="#46337f"/>
<rect x="209.80" y="72.20" width="4.50" height="4.50" fill="#1f948c"/>
<rect x="214.25" y="72.20" width="4.50" height="4.50" fill="#bade28"/>
<rect x="218.70" y="72.20" width="4.50" height="4.50" fill="#1e9c89"/>
<rect x="223.15" y="72.20" width="4.50" height="4.50" fill="#2b748e"/>
<rect x="227.60" y="72.20" width="4.50" height="4.50" fill="#33638d"/>
<rect x="232.05" y="72.20" width="4.50" height="4.50" fill="#39558c"/>
<rect x="236.50" y="72.20" width="4.50" height="4.50" fill="#3e4a89"/>
<rect x="240.95" y="72.20" width="4.50" height="4.50" fill="#3d4e8a"/>
<rect x="245.40" y="72.20" width="4.50" height="4.50" fill="#404588"/>
<rect x="249.85" y="72.20" width="4.50" height="4.50" fill="#3b528b"/>
<rect x="254.30" y="72.20" width="4.50" height="4.50" fill="#365d8d"/>
<rect x="258.75" y="72.20" width="4.50" height="4.50" fill="#2c738e"/>
<rect x="263.20" y="72.20" width="4.50" height="4.50" fill="#1e9c89"/>
<rect x="267.65" y="72.20" width="4.50" height="4.50" fill="#50c46a"/>
<rect x="272.10" y="72.20" width="4.50" height="4.50" fill="#20a486"/>
<rect x="276.55" y="72.20" width="4.50" height="4.50" fill="#433e85"/>
<rect x="281.00" y="72.20" width="4.50" height="4.50" fill="#481c6e"/>
<rect x="285.45" y="72.20" width="4.50" height="4.50" fill="#471365"/>
<rect x="289.90" y="72.20" width="4.50" height="4.50" fill="#471164"/>
<rect x="192.00" y="76.65" width="4.50" height="4.50" fill="#481769"/>
<rect x="196.45" y="76.65" width="4.50" height="4.50" fill="#481467"/>
<rect x="200.90" y="76.65" width="4.50" height="4.50" fill="#482677"/>
<rect x="205.35" y="76.65" width="4.50" height="4.50" fill="#34608d"/>
<rect x="209.80" y="76.65" width="4.50" height="4.50" fill="#54c568"/>
<rect x="214.25" y="76.65" width="4.50" height="4.50" fill="#3dbc74"/>
<rect x="218.70" y="76.65" width="4.50" height="4.50" fill="#24868e"/>
<rect x="223.15" y="76.65" width="4.50" height="4.50" fill="#375b8d"/>
<rect x="227.60" y="76.65" width="4.50" height="4.50" fill="#365c8d"/>
<rect x="232.05" y="76.65" width="4.50" height="4.50" fill="#3a548c"/>
<rect x="236.50" y="76.65" width="4.50" height="4.50" fill="#3c4f8a"/>
<rect x="240.95" y="76.65" width="4.50" height="4.50" fill="#3e4a89"/>
<rect x="245.40" y="76.65" width="4.50" height="4.50" fill="#38598c"/>
<rect x="249.85" y="76.65" width="4.50" height="4.50" fill="#3a538b"/>
<rect x="254.30" y="76.65" width="4.50" height="4.50" fill="#365c8d"/>
<rect x="258.75" y="76.65" width="4.50" height="4.50" fill="#2e6f8e"/>
<rect x="263.20" y="76.65" width="4.50" height="4.50" fill="#277e8e"/>
<rect x="267.65" y="76.65" width="4.50" height="4.50" fill="#3bbb75"/>
<rect x="272.10" y="76.65" width="4.50" height="4.50" fill="#77d153"/>
<rect x="276.55" y="76.65" width="4.50" height="4.50" fill="#2f6b8e"/>
<rect x="281.00" y="76.65" width="4.50" height="4.50" fill="#482878"/>
<rect x="285.45" y="76.65" width="4.50" height="4.50" fill="#481668"/>
<rect x="289.90" y="76.65" width="4.50" height="4.50" fill="#481769"/>
<rect x="192.00" y="81.10" width="4.50" height="4.50" fill="#481467"/>
<rect x="196.45" y="81.10" width="4.50" height="4.50" fill="#481c6e"/>
<rect x="200.90" y="81.10" width="4.50" height="4.50" fill="#424186"/>
<rect x="205.35" y="81.10" width="4.50" height="4.50" fill="#27ad81"/>
<rect x="209.80" y="81.10" width="4.50" height="4.50" fill="#3bbb75"/>
<rect x="214.25" y="81.10" width="4.50" height="4.50" fill="#1f978b"/>
<rect x="218.70" y="81.10" width="4.50" height="4.50" fill="#2c718e"/>
<rect x="223.15" y="81.10" width="4.50" height="4.50" fill="#33628d"/>
<rect x="227.60" y="81.10" width="4.50" height="4.50" fill="#3a548c"/>
<rect x="232.05" y="81.10" width="4.50" height="4.50" fill="#38598c"/>
<rect x="236.50" y="81.10" width="4.50" height="4.50" fill="#3a538b"/>
<rect x="240.95" y="81.10" width="4.50" height="4.50" fill="#365d8d"/>
<rect x="245.40" y="81.10" width="4.50" height="4.50" fill="#375a8c"/>
<rect x="249.85" y="81.10" width="4.50" height="4.50" fill="#38598c"/>
<rect x="254.30" y="81.10" width="4.50" height="4.50" fill="#375b8d"/>
<rect x="258.75" y="81.10" width="4.50" height="4.50" fill="#365c8d"/>
<rect x="263.20" y="81.10" width="4.50" height="4.50" fill="#31678e"/>
<rect x="267.65" y="81.10" width="4.50" height="4.50" fill="#1f988b"/>
<rect x="272.10" y="81.10" width="4.50" height="4.50" fill="#69cd5b"/>
<rect x="276.55" y="81.10" width="4.50" height="4.50" fill="#2ab07f"/>
<rect x="281.00" y="81.10" width="4.50" height="4.50" fill="#3e4a89"/>
<rect x="285.45" y="81.10" width="4.50" height="4.50" fill="#482374"/>
<rect x="289.90" y="81.10" width="4.50" height="4.50" fill="#481467"/>
<rect x="192.00" y="85.55" width="4.50" height="4.50" fill="#481467"/>
<rect x="196.45" y="85.55" width="4.50" height="4.50" fill="#482677"/>
<rect x="200.90" y="85.55" width="4.50" height="4.50" fill="#30698e"/>
<rect x="205.35" y="85.55" width="4.50" height="4.50" fill="#8ed645"/>
<rect x="209.80" y="85.55" width="4.50" height="4.50" fill="#2ab07f"/>
<rect x="214.25" y="85.55" width="4.50" height="4.50" fill="#297b8e"/>
<rect x="218.70" y="85.55" width="4.50" height="4.50" fill="#2b748e"/>
<rect x="223.15" y="85.55" width="4.50" height="4.50" fill="#2f6c8e"/>
<rect x="227.60" y="85.55" width="4.50" height="4.50" fill="#2f6c8e"/>
<rect x="232.05" y="85.55" width="4.50" height="4.50" fill="#31668e"/>
<rect x="236.50" y="85.55" width="4.50" height="4.50" fill="#306a8e"/>
<rect x="240.95" y="85.55" width="4.50" height="4.50" fill="#2c738e"/>
<rect x="245.40" y="85.55" width="4.50" height="4.50" fill="#32658e"/>
<rect x="249.85" y="85.55" width="4.50" height="4.50" fill="#2e6f8e"/>
<rect x="254.30" y="85.55" width="4.50" height="4.50" fill="#2c738e"/>
<rect x="258.75" y="85.55" width="4.50" height="4.50" fill="#2e6d8e"/>
<rect x="263.20" y="85.55" width="4.50" height="4.50" fill="#2d718e"/>
<rect x="267.65" y="85.55" width="4.50" height="4.50" fill="#2b748e"/>
<rect x="272.10" y="85.55" width="4.50" height="4.50" fill="#32b67a"/>
<rect x="276.55" y="85.55" width="4.50" height="4.50" fill="#b2dd2d"/>
<rect x="281.00" y="85.55" width="4.50" height="4.50" fill="#287c8e"/>
<rect x="285.45" y="85.55" width="4.50" height="4.50" fill="#472c7a"/>
<rect x="289.90" y="85.55" width="4.50" height="4.50" fill="#481668"/>
<rect x="192.00" y="90.00" width="4.50" height="4.50" fill="#482677"/>
<rect x="196.45" y="90.00" width="4.50" height="4.50" fill="#404688"/>
<rect x="200.90" y="90.00" width="4.50" height="4.50" fill="#31b57b"/>
<rect x="205.35" y="90.00" width="4.50" height="4.50" fill="#7fd34e"/>
<rect x="209.80" y="90.00" width="4.50" height="4.50" fill="#22a785"/>
<rect x="214.25" y="90.00" width="4.50" height="4.50" fill="#21918c"/>
<rect x="218.70" y="90.00" width="4.50" height="4.50" fill="#1f968b"/>
<rect x="223.15" y="90.00" width="4.50" height="4.50" fill="#20938c"/>
<rect x="227.60" y="90.00" width="4.50" height="4.50" fill="#21908d"/>
<rect x="232.05" y="90.00" width="4.50" height="4.50" fill="#228c8d"/>
<rect x="236.50" y="90.00" width="4.50" height="4.50" fill="#1f978b"/>
<rect x="240.95" y="90.00" width="4.50" height="4.50" fill="#24878e"/>
<rect x="245.40" y="90.00" width="4.50" height="4.50" fill="#1f978b"/>
<rect x="249.85" y="90.00" width="4.50" height="4.50" fill="#1f968b"/>
<rect x="254.30" y="90.00" width="4.50" height="4.50" fill="#21918c"/>
<rect x="258.75" y="90.00" width="4.50" height="4.50" fill="#228d8d"/>
<rect x="263.20" y="90.00" width="4.50" height="4.50" fill="#238a8d"/>
<rect x="267.65" y="90.00" width="4.50" height="4.50" fill="#22a785"/>
<rect x="272.10" y="90.00" width="4.50" height="4.50" fill="#228b8d"/>
<rect x="276.55" y="90.00" width="4.50" height="4.50" fill="#89d548"/>
<rect x="281.00" y="90.00" width="4.50" height="4.50" fill="#6ece58"/>
<rect x="285.45" y="90.00" width="4.50" height="4.50" fill="#38588c"/>
<rect x="289.90" y="90.00" width="4.50" height="4.50" fill="#482677"/>
<rect x="196.45" y="94.45" width="4.50" height="4.50" fill="#20928c"/>
<rect x="200.90" y="94.45" width="4.50" height="4.50" fill="#e2e418"/>
<rect x="205.35" y="94.45" width="4.50" height="4.50" fill="#67cc5c"/>
<rect x="209.80" y="94.45" width="4.50" height="4.50" fill="#a0da39"/>
<rect x="214.25" y="94.45" width="4.50" height="4.50" fill="#89d548"/>
<rect x="218.70" y="94.45" width="4.50" height="4.50" fill="#75d054"/>
<rect x="223.15" y="94.45" width="4.50" height="4.50" fill="#b0dd2f"/>
<rect x="227.60" y="94.45" width="4.50" height="4.50" fill="#9dd93b"/>
<rect x="232.05" y="94.45" width="4.50" height="4.50" fill="#2fb47c"/>
<rect x="236.50" y="94.45" width="4.50" height="4.50" fill="#86d549"/>
<rect x="240.95" y="94.45" width="4.50" height="4.50" fill="#52c569"/>
<rect x="245.40" y="94.45" width="4.50" height="4.50" fill="#addc30"/>
<rect x="249.85" y="94.45" width="4.50" height="4.50" fill="#e5e419"/>
<rect x="254.30" y="94.45" width="4.50" height="4.50" fill="#70cf57"/>
<rect x="258.75" y="94.45" width="4.50" height="4.50" fill="#86d549"/>
<rect x="263.20" y="94.45" width="4.50" height="4.50" fill="#7ad151"/>
<rect x="267.65" y="94.45" width="4.50" height="4.50" fill="#90d743"/>
<rect x="272.10" y="94.45" width="4.50" height="4.50" fill="#9bd93c"/>
<rect x="276.55" y="94.45" width="4.50" height="4.50" fill="#d0e11c"/>
<rect x="281.00" y="94.45" width="4.50" height="4.50" fill="#aadc32"/>
<rect x="285.45" y="94.45" width="4.50" height="4.50" fill="#3bbb75"/>
<rect x="196.45" y="98.90" width="4.50" height="4.50" fill="#1f9a8a"/>
<rect x="200.90" y="98.90" width="4.50" height="4.50" fill="#238a8d"/>
<rect x="205.35" y="98.90" width="4.50" height="4.50" fill="#277f8e"/>
<rect x="209.80" y="98.90" width="4.50" height="4.50" fill="#228b8d"/>
<rect x="214.25" y="98.90" width="4.50" height="4.50" fill="#26828e"/>
<rect x="218.70" y="98.90" width="4.50" height="4.50" fill="#297b8e"/>
<rect x="223.15" y="98.90" width="4.50" height="4.50" fill="#2c718e"/>
<rect x="227.60" y="98.90" width="4.50" height="4.50" fill="#2c738e"/>
<rect x="232.05" y="98.90" width="4.50" height="4.50" fill="#2c718e"/>
<rect x="236.50" y="98.90" width="4.50" height="4.50" fill="#26828e"/>
<rect x="240.95" y="98.90" width="4.50" height="4.50" fill="#2a788e"/>
<rect x="245.40" y="98.90" width="4.50" height="4.50" fill="#277e8e"/>
<rect x="249.85" y="98.90" width="4.50" height="4.50" fill="#29798e"/>
<rect x="254.30" y="98.90" width="4.50" height="4.50" fill="#277e8e"/>
<rect x="258.75" y="98.90" width="4.50" height="4.50" fill="#24878e"/>
<rect x="263.20" y="98.90" width="4.50" height="4.50" fill="#2a788e"/>
<rect x="267.65" y="98.90" width="4.50" height="4.50" fill="#297b8e"/>
<rect x="272.10" y="98.90" width="4.50" height="4.50" fill="#2a778e"/>
<rect x="276.55" y="98.90" width="4.50" height="4.50" fill="#25838e"/>
<rect x="281.00" y="98.90" width="4.50" height="4.50" fill="#24868e"/>
<rect x="285.45" y="98.90" width="4.50" height="4.50" fill="#20928c"/>
<rect x="200.90" y="103.35" width="4.50" height="4.50" fill="#46327e"/>
<rect x="205.35" y="103.35" width="4.50" height="4.50" fill="#482878"/>
<rect x="209.80" y="103.35" width="4.50" height="4.50" fill="#472d7b"/>
<rect x="214.25" y="103.35" width="4.50" height="4.50" fill="#472f7d"/>
<rect x="218.70" y="103.35" width="4.50" height="4.50" fill="#472a7a"/>
<rect x="223.15" y="103.35" width="4.50" height="4.50" fill="#482878"/>
<rect x="227.60" y="103.35" width="4.50" height="4.50" fill="#482979"/>
<rect x="232.05" y="103.35" width="4.50" height="4.50" fill="#472d7b"/>
<rect x="236.50" y="103.35" width="4.50" height="4.50" fill="#482878"/>
<rect x="240.95" y="103.35" width="4.50" height="4.50" fill="#472e7c"/>
<rect x="245.40" y="103.35" width="4.50" height="4.50" fill="#472e7c"/>
<rect x="249.85" y="103.35" width="4.50" height="4.50" fill="#472a7a"/>
<rect x="254.30" y="103.35" width="4.50" height="4.50" fill="#472c7a"/>
<rect x="258.75" y="103.35" width="4.50" height="4.50" fill="#472c7a"/>
<rect x="263.20" y="103.35" width="4.50" height="4.50" fill="#472e7c"/>
<rect x="267.65" y="103.35" width="4.50" height="4.50" fill="#482677"/>
<rect x="272.10" y="103.35" width="4.50" height="4.50" fill="#472d7b"/>
<rect x="276.55" y="103.35" width="4.50" height="4.50" fill="#482979"/>
<rect x="281.00" y="103.35" width="4.50" height="4.50" fill="#472f7d"/>
<rect x="205.35" y="107.80" width="4.50" height="4.50" fill="#481467"/>
<rect x="209.80" y="107.80" width="4.50" height="4.50" fill="#48186a"/>
<rect x="214.25" y="107.80" width="4.50" height="4.50" fill="#481668"/>
<rect x="218.70" y="107.80" width="4.50" height="4.50" fill="#481467"/>
<rect x="223.15" y="107.80" width="4.50" height="4.50" fill="#481668"/>
<rect x="227.60" y="107.80" width="4.50" height="4.50" fill="#481467"/>
<rect x="232.05" y="107.80" width="4.50" height="4.50" fill="#481769"/>
<rect x="236.50" y="107.80" width="4.50" height="4.50" fill="#481769"/>
<rect x="240.95" y="107.80" width="4.50" height="4.50" fill="#481668"/>
<rect x="245.40" y="107.80" width="4.50" height="4.50" fill="#481668"/>
<rect x="249.85" y="107.80" width="4.50" height="4.50" fill="#471063"/>
<rect x="254.30" y="107.80" width="4.50" height="4.50" fill="#481668"/>
<rect x="258.75" y="107.80" width="4.50" height="4.50" fill="#471365"/>
<rect x="263.20" y="107.80" width="4.50" height="4.50" fill="#481769"/>
<rect x="267.65" y="107.80" width="4.50" height="4.50" fill="#48186a"/>
<rect x="272.10" y="107.80" width="4.50" height="4.50" fill="#481769"/>
<rect x="276.55" y="107.80" width="4.50" height="4.50" fill="#481668"/>
<rect x="209.80" y="112.25" width="4.50" height="4.50" fill="#481467"/>
<rect x="214.25" y="112.25" width="4.50" height="4.50" fill="#481668"/>
<rect x="218.70" y="112.25" width="4.50" height="4.50" fill="#481668"/>
<rect x="223.15" y="112.25" width="4.50" height="4.50" fill="#481668"/>
<rect x="227.60" y="112.25" width="4.50" height="4.50" fill="#481467"/>
<rect x="232.05" y="112.25" width="4.50" height="4.50" fill="#481668"/>
<rect x="236.50" y="112.25" width="4.50" height="4.50" fill="#481769"/>
<rect x="240.95" y="112.25" width="4.50" height="4.50" fill="#471365"/>
<rect x="245.40" y="112.25" width="4.50" height="4.50" fill="#481467"/>
<rect x="249.85" y="112.25" width="4.50" height="4.50" fill="#471164"/>
<rect x="254.30" y="112.25" width="4.50" height="4.50" fill="#481769"/>
<rect x="258.75" y="112.25" width="4.50" height="4.50" fill="#481668"/>
<rect x="263.20" y="112.25" width="4.50" height="4.50" fill="#481668"/>
<rect x="267.65" y="112.25" width="4.50" height="4.50" fill="#471365"/>
<rect x="272.10" y="112.25" width="4.50" height="4.50" fill="#481467"/>
<rect x="214.25" y="116.70" width="4.50" height="4.50" fill="#471164"/>
<rect x="218.70" y="116.70" width="4.50" height="4.50" fill="#481467"/>
<rect x="223.15" y="116.70" width="4.50" height="4.50" fill="#471164"/>
<rect x="227.60" y="116.70" width="4.50" height="4.50" fill="#471164"/>
<rect x="232.05" y="116.70" width="4.50" height="4.50" fill="#471365"/>
<rect x="236.50" y="116.70" width="4.50" height="4.50" fill="#471365"/>
<rect x="240.95" y="116.70" width="4.50" height="4.50" fill="#471164"/>
<rect x="245.40" y="116.70" width="4.50" height="4.50" fill="#471365"/>
<rect x="249.85" y="116.70" width="4.50" height="4.50" fill="#471063"/>
<rect x="254.30" y="116.70" width="4.50" height="4.50" fill="#471164"/>
<rect x="258.75" y="116.70" width="4.50" height="4.50" fill="#471365"/>
<rect x="263.20" y="116.70" width="4.50" height="4.50" fill="#481668"/>
<rect x="267.65" y="116.70" width="4.50" height="4.50" fill="#471365"/>
<rect x="223.15" y="121.15" width="4.50" height="4.50" fill="#471164"/>
<rect x="227.60" y="121.15" width="4.50" height="4.50" fill="#471164"/>
<rect x="232.05" y="121.15" width="4.50" height="4.50" fill="#471063"/>
<rect x="236.50" y="121.15" width="4.50" height="4.50" fill="#471164"/>
<rect x="240.95" y="121.15" width="4.50" height="4.50" fill="#471164"/>
<rect x="245.40" y="121.15" width="4.50" height="4.50" fill="#471164"/>
<rect x="249.85" y="121.15" width="4.50" height="4.50" fill="#471164"/>
<rect x="254.30" y="121.15" width="4.50" height="4.50" fill="#471164"/>
<rect x="258.75" y="121.15" width="4.50" height="4.50" fill="#471164"/>
</g>
<line x1="194.91" y1="86.94" x2="292.09" y2="86.94" stroke="#ffffff" stroke-width="1.30" stroke-dasharray="4.2 1.8"/>
<line x1="279.17" y1="109.31" x2="230.58" y2="25.15" stroke="#ffffff" stroke-width="1.30" stroke-dasharray="4.2 1.8"/>
<line x1="256.42" y1="25.15" x2="207.83" y2="109.31" stroke="#ffffff" stroke-width="1.30" stroke-dasharray="4.2 1.8"/>
<line x1="199.10" y1="97.51" x2="287.90" y2="97.51" stroke="#ffffff" stroke-width="1.30" stroke-dasharray="4.2 1.8"/>
<line x1="286.23" y1="100.40" x2="241.83" y2="23.49" stroke="#ffffff" stroke-width="1.30" stroke-dasharray="4.2 1.8"/>
<line x1="245.17" y1="23.49" x2="200.77" y2="100.40" stroke="#ffffff" stroke-width="1.30" stroke-dasharray="4.2 1.8"/>
<line x1="198.99" y1="48.10" x2="203.40" y2="50.65" stroke="#fff" stroke-width="1.6"/>
<path d="M208.86 53.80L204.95 47.97L201.85 53.33Z" fill="#fff"/>
<line x1="288.01" y1="48.10" x2="283.60" y2="50.65" stroke="#fff" stroke-width="1.6"/>
<path d="M278.14 53.80L285.15 53.33L282.05 47.97Z" fill="#fff"/>
<line x1="243.50" y1="125.20" x2="243.50" y2="120.10" stroke="#fff" stroke-width="1.6"/>
<path d="M243.50 113.80L240.40 120.10L246.60 120.10Z" fill="#fff"/>
<circle cx="243.50" cy="73.80" r="50.40" fill="none" stroke="#111" stroke-width="1.1"/>
<defs><clipPath id="clip_iii"><circle cx="86.40" cy="222.60" r="50.40"/></clipPath></defs>
<g clip-path="url(#clip_iii)" shape-rendering="crispEdges">
<rect x="73.05" y="169.20" width="4.50" height="4.50" fill="#482475"/>
<rect x="77.50" y="169.20" width="4.50" height="4.50" fill="#482576"/>
<rect x="81.95" y="169.20" width="4.50" height="4.50" fill="#482374"/>
<rect x="86.40" y="169.20" width="4.50" height="4.50" fill="#481f70"/>
<rect x="90.85" y="169.20" width="4.50" height="4.50" fill="#482576"/>
<rect x="95.30" y="169.20" width="4.50" height="4.50" fill="#481b6d"/>
<rect x="59.70" y="173.65" width="4.50" height="4.50" fill="#482374"/>
<rect x="64.15" y="173.65" width="4.50" height="4.50" fill="#38588c"/>
<rect x="68.60" y="173.65" width="4.50" height="4.50" fill="#404588"/>
<rect x="73.05" y="173.65" width="4.50" height="4.50" fill="#482677"/>
<rect x="77.50" y="173.65" width="4.50" height="4.50" fill="#482677"/>
<rect x="81.95" y="173.65" width="4.50" height="4.50" fill="#472f7d"/>
<rect x="86.40" y="173.65" width="4.50" height="4.50" fill="#481f70"/>
<rect x="90.85" y="173.65" width="4.50" height="4.50" fill="#482979"/>
<rect x="95.30" y="173.65" width="4.50" height="4.50" fill="#482878"/>
<rect x="99.75" y="173.65" width="4.50" height="4.50" fill="#404588"/>
<rect x="104.20" y="173.65" width="4.50" height="4.50" fill="#375a8c"/>
<rect x="108.65" y="173.65" width="4.50" height="4.50" fill="#482576"/>
<rect x="55.25" y="178.10" width="4.50" height="4.50" fill="#482071"/>
<rect x="59.70" y="178.10" width="4.50" height="4.50" fill="#482677"/>
<rect x="64.15" y="178.10" width="4.50" height="4.50" fill="#453882"/>
<rect x="68.60" y="178.10" width="4.50" height="4.50" fill="#2e6f8e"/>
<rect x="73.05" y="178.10" width="4.50" height="4.50" fill="#453581"/>
<rect x="77.50" y="178.10" width="4.50" height="4.50" fill="#482878"/>
<rect x="81.95" y="178.10" width="4.50" height="4.50" fill="#46337f"/>
<rect x="86.40" y="178.10" width="4.50" height="4.50" fill="#482979"/>
<rect x="90.85" y="178.10" width="4.50" height="4.50" fill="#482979"/>
<rect x="95.30" y="178.10" width="4.50" height="4.50" fill="#46307e"/>
<rect x="99.75" y="178.10" width="4.50" height="4.50" fill="#34618d"/>
<rect x="104.20" y="178.10" width="4.50" height="4.50" fill="#433e85"/>
<rect x="108.65" y="178.10" width="4.50" height="4.50" fill="#482677"/>
<rect x="113.10" y="178.10" width="4.50" height="4.50" fill="#482374"/>
<rect x="46.35" y="182.55" width="4.50" height="4.50" fill="#3b518b"/>
<rect x="50.80" y="182.55" width="4.50" height="4.50" fill="#46327e"/>
<rect x="55.25" y="182.55" width="4.50" height="4.50" fill="#482576"/>
<rect x="59.70" y="182.55" width="4.50" height="4.50" fill="#482576"/>
<rect x="64.15" y="182.55" width="4.50" height="4.50" fill="#46327e"/>
<rect x="68.60" y="182.55" width="4.50" height="4.50" fill="#355f8d"/>
<rect x="73.05" y="182.55" width="4.50" height="4.50" fill="#365c8d"/>
<rect x="77.50" y="182.55" width="4.50" height="4.50" fill="#46307e"/>
<rect x="81.95" y="182.55" width="4.50" height="4.50" fill="#46327e"/>
<rect x="86.40" y="182.55" width="4.50" height="4.50" fill="#46337f"/>
<rect x="90.85" y="182.55" width="4.50" height="4.50" fill="#453581"/>
<rect x="95.30" y="182.55" width="4.50" height="4.50" fill="#375a8c"/>
<rect x="99.75" y="182.55" width="4.50" height="4.50" fill="#365d8d"/>
<rect x="104.20" y="182.55" width="4.50" height="4.50" fill="#46307e"/>
<rect x="108.65" y="182.55" width="4.50" height="4.50" fill="#472a7a"/>
<rect x="113.10" y="182.55" width="4.50" height="4.50" fill="#481a6c"/>
<rect x="117.55" y="182.55" width="4.50" height="4.50" fill="#482475"/>
<rect x="122.00" y="182.55" width="4.50" height="4.50" fill="#3c4f8a"/>
<rect x="46.35" y="187.00" width="4.50" height="4.50" fill="#33638d"/>
<rect x="50.80" y="187.00" width="4.50" height="4.50" fill="#443983"/>
<rect x="55.25" y="187.00" width="4.50" height="4.50" fill="#472a7a"/>
<rect x="59.70" y="187.00" width="4.50" height="4.50" fill="#482677"/>
<rect x="64.15" y="187.00" width="4.50" height="4.50" fill="#472f7d"/>
<rect x="68.60" y="187.00" width="4.50" height="4.50" fill="#472f7d"/>
<rect x="73.05" y="187.00" width="4.50" height="4.50" fill="#2e6d8e"/>
<rect x="77.50" y="187.00" width="4.50" height="4.50" fill="#404588"/>
<rect x="81.95" y="187.00" width="4.50" height="4.50" fill="#443983"/>
<rect x="86.40" y="187.00" width="4.50" height="4.50" fill="#443a83"/>
<rect x="90.85" y="187.00" width="4.50" height="4.50" fill="#414287"/>
<rect x="95.30" y="187.00" width="4.50" height="4.50" fill="#26818e"/>
<rect x="99.75" y="187.00" width="4.50" height="4.50" fill="#443983"/>
<rect x="104.20" y="187.00" width="4.50" height="4.50" fill="#482576"/>
<rect x="108.65" y="187.00" width="4.50" height="4.50" fill="#482173"/>
<rect x="113.10" y="187.00" width="4.50" height="4.50" fill="#472f7d"/>
<rect x="117.55" y="187.00" width="4.50" height="4.50" fill="#433d84"/>
<rect x="122.00" y="187.00" width="4.50" height="4.50" fill="#355e8d"/>
<rect x="41.90" y="191.45" width="4.50" height="4.50" fill="#482878"/>
<rect x="46.35" y="191.45" width="4.50" height="4.50" fill="#3e4a89"/>
<rect x="50.80" y="191.45" width="4.50" height="4.50" fill="#31678e"/>
<rect x="55.25" y="191.45" width="4.50" height="4.50" fill="#46307e"/>
<rect x="59.70" y="191.45" width="4.50" height="4.50" fill="#472d7b"/>
<rect x="64.15" y="191.45" width="4.50" height="4.50" fill="#46327e"/>
<rect x="68.60" y="191.45" width="4.50" height="4.50" fill="#453882"/>
<rect x="73.05" y="191.45" width="4.50" height="4.50" fill="#34608d"/>
<rect x="77.50" y="191.45" width="4.50" height="4.50" fill="#2b748e"/>
<rect x="81.95" y="191.45" width="4.50" height="4.50" fill="#424086"/>
<rect x="86.40" y="191.45" width="4.50" height="4.50" fill="#414287"/>
<rect x="90.85" y="191.45" width="4.50" height="4.50" fill="#2c738e"/>
<rect x="95.30" y="191.45" width="4.50" height="4.50" fill="#3d4d8a"/>
<rect x="99.75" y="191.45" width="4.50" height="4.50" fill="#463480"/>
<rect x="104.20" y="191.45" width="4.50" height="4.50" fill="#472f7d"/>
<rect x="108.65" y="191.45" width="4.50" height="4.50" fill="#472f7d"/>
<rect x="113.10" y="191.45" width="4.50" height="4.50" fill="#46307e"/>
<rect x="117.55" y="191.45" width="4.50" height="4.50" fill="#34618d"/>
<rect x="122.00" y="191.45" width="4.50" height="4.50" fill="#424186"/>
<rect x="126.45" y="191.45" width="4.50" height="4.50" fill="#482677"/>
<rect x="37.45" y="195.90" width="4.50" height="4.50" fill="#482677"/>
<rect x="41.90" y="195.90" width="4.50" height="4.50" fill="#482475"/>
<rect x="46.35" y="195.90" width="4.50" height="4.50" fill="#472f7d"/>
<rect x="50.80" y="195.90" width="4.50" height="4.50" fill="#30698e"/>
<rect x="55.25" y="195.90" width="4.50" height="4.50" fill="#414287"/>
<rect x="59.70" y="195.90" width="4.50" height="4.50" fill="#443a83"/>
<rect x="64.15" y="195.90" width="4.50" height="4.50" fill="#433d84"/>
<rect x="68.60" y="195.90" width="4.50" height="4.50" fill="#424186"/>
<rect x="73.05" y="195.90" width="4.50" height="4.50" fill="#424186"/>
<rect x="77.50" y="195.90" width="4.50" height="4.50" fill="#2c728e"/>
<rect x="81.95" y="195.90" width="4.50" height="4.50" fill="#365c8d"/>
<rect x="86.40" y="195.90" width="4.50" height="4.50" fill="#33638d"/>
<rect x="90.85" y="195.90" width="4.50" height="4.50" fill="#297b8e"/>
<rect x="95.30" y="195.90" width="4.50" height="4.50" fill="#3e4989"/>
<rect x="99.75" y="195.90" width="4.50" height="4.50" fill="#3e4989"/>
<rect x="104.20" y="195.90" width="4.50" height="4.50" fill="#424186"/>
<rect x="108.65" y="195.90" width="4.50" height="4.50" fill="#46337f"/>
<rect x="113.10" y="195.90" width="4.50" height="4.50" fill="#3e4c8a"/>
<rect x="117.55" y="195.90" width="4.50" height="4.50" fill="#2b758e"/>
<rect x="122.00" y="195.90" width="4.50" height="4.50" fill="#472e7c"/>
<rect x="126.45" y="195.90" width="4.50" height="4.50" fill="#472c7a"/>
<rect x="130.90" y="195.90" width="4.50" height="4.50" fill="#482878"/>
<rect x="37.45" y="200.35" width="4.50" height="4.50" fill="#472c7a"/>
<rect x="41.90" y="200.35" width="4.50" height="4.50" fill="#46307e"/>
<rect x="46.35" y="200.35" width="4.50" height="4.50" fill="#472c7a"/>
<rect x="50.80" y="200.35" width="4.50" height="4.50" fill="#31678e"/>
<rect x="55.25" y="200.35" width="4.50" height="4.50" fill="#2a778e"/>
<rect x="59.70" y="200.35" width="4.50" height="4.50" fill="#404688"/>
<rect x="64.15" y="200.35" width="4.50" height="4.50" fill="#3d4d8a"/>
<rect x="68.60" y="200.35" width="4.50" height="4.50" fill="#3b518b"/>
<rect x="73.05" y="200.35" width="4.50" height="4.50" fill="#34618d"/>
<rect x="77.50" y="200.35" width="4.50" height="4.50" fill="#2f6b8e"/>
<rect x="81.95" y="200.35" width="4.50" height="4.50" fill="#1fa287"/>
<rect x="86.40" y="200.35" width="4.50" height="4.50" fill="#21918c"/>
<rect x="90.85" y="200.35" width="4.50" height="4.50" fill="#228b8d"/>
<rect x="95.30" y="200.35" width="4.50" height="4.50" fill="#34618d"/>
<rect x="99.75" y="200.35" width="4.50" height="4.50" fill="#31688e"/>
<rect x="104.20" y="200.35" width="4.50" height="4.50" fill="#3e4c8a"/>
<rect x="108.65" y="200.35" width="4.50" height="4.50" fill="#355f8d"/>
<rect x="113.10" y="200.35" width="4.50" height="4.50" fill="#297a8e"/>
<rect x="117.55" y="200.35" width="4.50" height="4.50" fill="#34618d"/>
<rect x="122.00" y="200.35" width="4.50" height="4.50" fill="#443b84"/>
<rect x="126.45" y="200.35" width="4.50" height="4.50" fill="#482979"/>
<rect x="130.90" y="200.35" width="4.50" height="4.50" fill="#482878"/>
<rect x="37.45" y="204.80" width="4.50" height="4.50" fill="#306a8e"/>
<rect x="41.90" y="204.80" width="4.50" height="4.50" fill="#32648e"/>
<rect x="46.35" y="204.80" width="4.50" height="4.50" fill="#34618d"/>
<rect x="50.80" y="204.80" width="4.50" height="4.50" fill="#2e6e8e"/>
<rect x="55.25" y="204.80" width="4.50" height="4.50" fill="#60ca60"/>
<rect x="59.70" y="204.80" width="4.50" height="4.50" fill="#aadc32"/>
<rect x="64.15" y="204.80" width="4.50" height="4.50" fill="#1e9b8a"/>
<rect x="68.60" y="204.80" width="4.50" height="4.50" fill="#6ece58"/>
<rect x="73.05" y="204.80" width="4.50" height="4.50" fill="#6ece58"/>
<rect x="77.50" y="204.80" width="4.50" height="4.50" fill="#38b977"/>
<rect x="81.95" y="204.80" width="4.50" height="4.50" fill="#8ed645"/>
<rect x="86.40" y="204.80" width="4.50" height="4.50" fill="#a8db34"/>
<rect x="90.85" y="204.80" width="4.50" height="4.50" fill="#6ece58"/>
<rect x="95.30" y="204.80" width="4.50" height="4.50" fill="#2db27d"/>
<rect x="99.75" y="204.80" width="4.50" height="4.50" fill="#1fa187"/>
<rect x="104.20" y="204.80" width="4.50" height="4.50" fill="#35b779"/>
<rect x="108.65" y="204.80" width="4.50" height="4.50" fill="#23a983"/>
<rect x="113.10" y="204.80" width="4.50" height="4.50" fill="#54c568"/>
<rect x="117.55" y="204.80" width="4.50" height="4.50" fill="#24878e"/>
<rect x="122.00" y="204.80" width="4.50" height="4.50" fill="#2d708e"/>
<rect x="126.45" y="204.80" width="4.50" height="4.50" fill="#2d708e"/>
<rect x="130.90" y="204.80" width="4.50" height="4.50" fill="#2f6b8e"/>
<rect x="33.00" y="209.25" width="4.50" height="4.50" fill="#482979"/>
<rect x="37.45" y="209.25" width="4.50" height="4.50" fill="#46307e"/>
<rect x="41.90" y="209.25" width="4.50" height="4.50" fill="#443a83"/>
<rect x="46.35" y="209.25" width="4.50" height="4.50" fill="#472e7c"/>
<rect x="50.80" y="209.25" width="4.50" height="4.50" fill="#424186"/>
<rect x="55.25" y="209.25" width="4.50" height="4.50" fill="#34618d"/>
<rect x="59.70" y="209.25" width="4.50" height="4.50" fill="#1f968b"/>
<rect x="64.15" y="209.25" width="4.50" height="4.50" fill="#20a486"/>
<rect x="68.60" y="209.25" width="4.50" height="4.50" fill="#20928c"/>
<rect x="73.05" y="209.25" width="4.50" height="4.50" fill="#218e8d"/>
<rect x="77.50" y="209.25" width="4.50" height="4.50" fill="#1e9b8a"/>
<rect x="81.95" y="209.25" width="4.50" height="4.50" fill="#fde725"/>
<rect x="86.40" y="209.25" width="4.50" height="4.50" fill="#75d054"/>
<rect x="90.85" y="209.25" width="4.50" height="4.50" fill="#238a8d"/>
<rect x="95.30" y="209.25" width="4.50" height="4.50" fill="#23888e"/>
<rect x="99.75" y="209.25" width="4.50" height="4.50" fill="#228c8d"/>
<rect x="104.20" y="209.25" width="4.50" height="4.50" fill="#1f958b"/>
<rect x="108.65" y="209.25" width="4.50" height="4.50" fill="#31b57b"/>
<rect x="113.10" y="209.25" width="4.50" height="4.50" fill="#38588c"/>
<rect x="117.55" y="209.25" width="4.50" height="4.50" fill="#414487"/>
<rect x="122.00" y="209.25" width="4.50" height="4.50" fill="#453581"/>
<rect x="126.45" y="209.25" width="4.50" height="4.50" fill="#472d7b"/>
<rect x="130.90" y="209.25" width="4.50" height="4.50" fill="#472c7a"/>
<rect x="135.35" y="209.25" width="4.50" height="4.50" fill="#472c7a"/>
<rect x="33.00" y="213.70" width="4.50" height="4.50" fill="#482878"/>
<rect x="37.45" y="213.70" width="4.50" height="4.50" fill="#482374"/>
<rect x="41.90" y="213.70" width="4.50" height="4.50" fill="#46307e"/>
<rect x="46.35" y="213.70" width="4.50" height="4.50" fill="#472c7a"/>
<rect x="50.80" y="213.70" width="4.50" height="4.50" fill="#453581"/>
<rect x="55.25" y="213.70" width="4.50" height="4.50" fill="#3c4f8a"/>
<rect x="59.70" y="213.70" width="4.50" height="4.50" fill="#2a768e"/>
<rect x="64.15" y="213.70" width="4.50" height="4.50" fill="#44bf70"/>
<rect x="68.60" y="213.70" width="4.50" height="4.50" fill="#20928c"/>
<rect x="73.05" y="213.70" width="4.50" height="4.50" fill="#20928c"/>
<rect x="77.50" y="213.70" width="4.50" height="4.50" fill="#2fb47c"/>
<rect x="81.95" y="213.70" width="4.50" height="4.50" fill="#58c765"/>
<rect x="86.40" y="213.70" width="4.50" height="4.50" fill="#37b878"/>
<rect x="90.85" y="213.70" width="4.50" height="4.50" fill="#7cd250"/>
<rect x="95.30" y="213.70" width="4.50" height="4.50" fill="#20a486"/>
<rect x="99.75" y="213.70" width="4.50" height="4.50" fill="#287d8e"/>
<rect x="104.20" y="213.70" width="4.50" height="4.50" fill="#23a983"/>
<rect x="108.65" y="213.70" width="4.50" height="4.50" fill="#27808e"/>
<rect x="113.10" y="213.70" width="4.50" height="4.50" fill="#443b84"/>
<rect x="117.55" y="213.70" width="4.50" height="4.50" fill="#472f7d"/>
<rect x="122.00" y="213.70" width="4.50" height="4.50" fill="#472f7d"/>
<rect x="126.45" y="213.70" width="4.50" height="4.50" fill="#482979"/>
<rect x="130.90" y="213.70" width="4.50" height="4.50" fill="#482071"/>
<rect x="135.35" y="213.70" width="4.50" height="4.50" fill="#482173"/>
<rect x="33.00" y="218.15" width="4.50" height="4.50" fill="#482576"/>
<rect x="37.45" y="218.15" width="4.50" height="4.50" fill="#482475"/>
<rect x="41.90" y="218.15" width="4.50" height="4.50" fill="#482677"/>
<rect x="46.35" y="218.15" width="4.50" height="4.50" fill="#472c7a"/>
<rect x="50.80" y="218.15" width="4.50" height="4.50" fill="#433d84"/>
<rect x="55.25" y="218.15" width="4.50" height="4.50" fill="#414487"/>
<rect x="59.70" y="218.15" width="4.50" height="4.50" fill="#3a538b"/>
<rect x="64.15" y="218.15" width="4.50" height="4.50" fill="#1e9d89"/>
<rect x="68.60" y="218.15" width="4.50" height="4.50" fill="#1fa287"/>
<rect x="73.05" y="218.15" width="4.50" height="4.50" fill="#1fa188"/>
<rect x="77.50" y="218.15" width="4.50" height="4.50" fill="#d5e21a"/>
<rect x="81.95" y="218.15" width="4.50" height="4.50" fill="#228b8d"/>
<rect x="86.40" y="218.15" width="4.50" height="4.50" fill="#25858e"/>
<rect x="90.85" y="218.15" width="4.50" height="4.50" fill="#69cd5b"/>
<rect x="95.30" y="218.15" width="4.50" height="4.50" fill="#22a884"/>
<rect x="99.75" y="218.15" width="4.50" height="4.50" fill="#20a486"/>
<rect x="104.20" y="218.15" width="4.50" height="4.50" fill="#3bbb75"/>
<rect x="108.65" y="218.15" width="4.50" height="4.50" fill="#30698e"/>
<rect x="113.10" y="218.15" width="4.50" height="4.50" fill="#433d84"/>
<rect x="117.55" y="218.15" width="4.50" height="4.50" fill="#46337f"/>
<rect x="122.00" y="218.15" width="4.50" height="4.50" fill="#482677"/>
<rect x="126.45" y="218.15" width="4.50" height="4.50" fill="#472c7a"/>
<rect x="130.90" y="218.15" width="4.50" height="4.50" fill="#482979"/>
<rect x="135.35" y="218.15" width="4.50" height="4.50" fill="#482374"/>
<rect x="33.00" y="222.60" width="4.50" height="4.50" fill="#482979"/>
<rect x="37.45" y="222.60" width="4.50" height="4.50" fill="#482979"/>
<rect x="41.90" y="222.60" width="4.50" height="4.50" fill="#472e7c"/>
<rect x="46.35" y="222.60" width="4.50" height="4.50" fill="#453882"/>
<rect x="50.80" y="222.60" width="4.50" height="4.50" fill="#453781"/>
<rect x="55.25" y="222.60" width="4.50" height="4.50" fill="#3e4989"/>
<rect x="59.70" y="222.60" width="4.50" height="4.50" fill="#3e4989"/>
<rect x="64.15" y="222.60" width="4.50" height="4.50" fill="#2a768e"/>
<rect x="68.60" y="222.60" width="4.50" height="4.50" fill="#93d741"/>
<rect x="73.05" y="222.60" width="4.50" height="4.50" fill="#6ece58"/>
<rect x="77.50" y="222.60" width="4.50" height="4.50" fill="#4ac16d"/>
<rect x="81.95" y="222.60" width="4.50" height="4.50" fill="#1f978b"/>
<rect x="86.40" y="222.60" width="4.50" height="4.50" fill="#287c8e"/>
<rect x="90.85" y="222.60" width="4.50" height="4.50" fill="#4ac16d"/>
<rect x="95.30" y="222.60" width="4.50" height="4.50" fill="#38b977"/>
<rect x="99.75" y="222.60" width="4.50" height="4.50" fill="#86d549"/>
<rect x="104.20" y="222.60" width="4.50" height="4.50" fill="#2e6f8e"/>
<rect x="108.65" y="222.60" width="4.50" height="4.50" fill="#423f85"/>
<rect x="113.10" y="222.60" width="4.50" height="4.50" fill="#414487"/>
<rect x="117.55" y="222.60" width="4.50" height="4.50" fill="#433d84"/>
<rect x="122.00" y="222.60" width="4.50" height="4.50" fill="#453581"/>
<rect x="126.45" y="222.60" width="4.50" height="4.50" fill="#482979"/>
<rect x="130.90" y="222.60" width="4.50" height="4.50" fill="#472f7d"/>
<rect x="135.35" y="222.60" width="4.50" height="4.50" fill="#482374"/>
<rect x="33.00" y="227.05" width="4.50" height="4.50" fill="#2b748e"/>
<rect x="37.45" y="227.05" width="4.50" height="4.50" fill="#32648e"/>
<rect x="41.90" y="227.05" width="4.50" height="4.50" fill="#355e8d"/>
<rect x="46.35" y="227.05" width="4.50" height="4.50" fill="#2b748e"/>
<rect x="50.80" y="227.05" width="4.50" height="4.50" fill="#2a788e"/>
<rect x="55.25" y="227.05" width="4.50" height="4.50" fill="#26828e"/>
<rect x="59.70" y="227.05" width="4.50" height="4.50" fill="#21908d"/>
<rect x="64.15" y="227.05" width="4.50" height="4.50" fill="#26828e"/>
<rect x="68.60" y="227.05" width="4.50" height="4.50" fill="#dde318"/>
<rect x="73.05" y="227.05" width="4.50" height="4.50" fill="#fde725"/>
<rect x="77.50" y="227.05" width="4.50" height="4.50" fill="#7cd250"/>
<rect x="81.95" y="227.05" width="4.50" height="4.50" fill="#7fd34e"/>
<rect x="86.40" y="227.05" width="4.50" height="4.50" fill="#1f968b"/>
<rect x="90.85" y="227.05" width="4.50" height="4.50" fill="#5ec962"/>
<rect x="95.30" y="227.05" width="4.50" height="4.50" fill="#fde725"/>
<rect x="99.75" y="227.05" width="4.50" height="4.50" fill="#3bbb75"/>
<rect x="104.20" y="227.05" width="4.50" height="4.50" fill="#23888e"/>
<rect x="108.65" y="227.05" width="4.50" height="4.50" fill="#27808e"/>
<rect x="113.10" y="227.05" width="4.50" height="4.50" fill="#297b8e"/>
<rect x="117.55" y="227.05" width="4.50" height="4.50" fill="#27808e"/>
<rect x="122.00" y="227.05" width="4.50" height="4.50" fill="#375a8c"/>
<rect x="126.45" y="227.05" width="4.50" height="4.50" fill="#31688e"/>
<rect x="130.90" y="227.05" width="4.50" height="4.50" fill="#2f6c8e"/>
<rect x="135.35" y="227.05" width="4.50" height="4.50" fill="#39558c"/>
<rect x="33.00" y="231.50" width="4.50" height="4.50" fill="#453781"/>
<rect x="37.45" y="231.50" width="4.50" height="4.50" fill="#463480"/>
<rect x="41.90" y="231.50" width="4.50" height="4.50" fill="#433e85"/>
<rect x="46.35" y="231.50" width="4.50" height="4.50" fill="#404588"/>
<rect x="50.80" y="231.50" width="4.50" height="4.50" fill="#414487"/>
<rect x="55.25" y="231.50" width="4.50" height="4.50" fill="#3c508b"/>
<rect x="59.70" y="231.50" width="4.50" height="4.50" fill="#414287"/>
<rect x="64.15" y="231.50" width="4.50" height="4.50" fill="#365c8d"/>
<rect x="68.60" y="231.50" width="4.50" height="4.50" fill="#69cd5b"/>
<rect x="73.05" y="231.50" width="4.50" height="4.50" fill="#efe51c"/>
<rect x="77.50" y="231.50" width="4.50" height="4.50" fill="#28ae80"/>
<rect x="81.95" y="231.50" width="4.50" height="4.50" fill="#1fa187"/>
<rect x="86.40" y="231.50" width="4.50" height="4.50" fill="#21908d"/>
<rect x="90.85" y="231.50" width="4.50" height="4.50" fill="#2ab07f"/>
<rect x="95.30" y="231.50" width="4.50" height="4.50" fill="#b2dd2d"/>
<rect x="99.75" y="231.50" width="4.50" height="4.50" fill="#1f9e89"/>
<rect x="104.20" y="231.50" width="4.50" height="4.50" fill="#31688e"/>
<rect x="108.65" y="231.50" width="4.50" height="4.50" fill="#3a548c"/>
<rect x="113.10" y="231.50" width="4.50" height="4.50" fill="#3d4e8a"/>
<rect x="117.55" y="231.50" width="4.50" height="4.50" fill="#433d84"/>
<rect x="122.00" y="231.50" width="4.50" height="4.50" fill="#414287"/>
<rect x="126.45" y="231.50" width="4.50" height="4.50" fill="#46327e"/>
<rect x="130.90" y="231.50" width="4.50" height="4.50" fill="#423f85"/>
<rect x="135.35" y="231.50" width="4.50" height="4.50" fill="#453581"/>
<rect x="37.45" y="235.95" width="4.50" height="4.50" fill="#482071"/>
<rect x="41.90" y="235.95" width="4.50" height="4.50" fill="#482677"/>
<rect x="46.35" y="235.95" width="4.50" height="4.50" fill="#472c7a"/>
<rect x="50.80" y="235.95" width="4.50" height="4.50" fill="#472e7c"/>
<rect x="55.25" y="235.95" width="4.50" height="4.50" fill="#472f7d"/>
<rect x="59.70" y="235.95" width="4.50" height="4.50" fill="#433d84"/>
<rect x="64.15" y="235.95" width="4.50" height="4.50" fill="#2d708e"/>
<rect x="68.60" y="235.95" width="4.50" height="4.50" fill="#2a788e"/>
<rect x="73.05" y="235.95" width="4.50" height="4.50" fill="#1f9a8a"/>
<rect x="77.50" y="235.95" width="4.50" height="4.50" fill="#218f8d"/>
<rect x="81.95" y="235.95" width="4.50" height="4.50" fill="#228c8d"/>
<rect x="86.40" y="235.95" width="4.50" height="4.50" fill="#228d8d"/>
<rect x="90.85" y="235.95" width="4.50" height="4.50" fill="#1e9d89"/>
<rect x="95.30" y="235.95" width="4.50" height="4.50" fill="#26818e"/>
<rect x="99.75" y="235.95" width="4.50" height="4.50" fill="#26828e"/>
<rect x="104.20" y="235.95" width="4.50" height="4.50" fill="#33638d"/>
<rect x="108.65" y="235.95" width="4.50" height="4.50" fill="#424186"/>
<rect x="113.10" y="235.95" width="4.50" height="4.50" fill="#463480"/>
<rect x="117.55" y="235.95" width="4.50" height="4.50" fill="#463480"/>
<rect x="122.00" y="235.95" width="4.50" height="4.50" fill="#472a7a"/>
<rect x="126.45" y="235.95" width="4.50" height="4.50" fill="#482173"/>
<rect x="130.90" y="235.95" width="4.50" height="4.50" fill="#482475"/>
<rect x="37.45" y="240.40" width="4.50" height="4.50" fill="#482475"/>
<rect x="41.90" y="240.40" width="4.50" height="4.50" fill="#482475"/>
<rect x="46.35" y="240.40" width="4.50" height="4.50" fill="#482878"/>
<rect x="50.80" y="240.40" width="4.50" height="4.50" fill="#482677"/>
<rect x="55.25" y="240.40" width="4.50" height="4.50" fill="#463480"/>
<rect x="59.70" y="240.40" width="4.50" height="4.50" fill="#3a538b"/>
<rect x="64.15" y="240.40" width="4.50" height="4.50" fill="#287c8e"/>
<rect x="68.60" y="240.40" width="4.50" height="4.50" fill="#39558c"/>
<rect x="73.05" y="240.40" width="4.50" height="4.50" fill="#38598c"/>
<rect x="77.50" y="240.40" width="4.50" height="4.50" fill="#5ec962"/>
<rect x="81.95" y="240.40" width="4.50" height="4.50" fill="#228d8d"/>
<rect x="86.40" y="240.40" width="4.50" height="4.50" fill="#1fa287"/>
<rect x="90.85" y="240.40" width="4.50" height="4.50" fill="#32b67a"/>
<rect x="95.30" y="240.40" width="4.50" height="4.50" fill="#38598c"/>
<rect x="99.75" y="240.40" width="4.50" height="4.50" fill="#375b8d"/>
<rect x="104.20" y="240.40" width="4.50" height="4.50" fill="#297a8e"/>
<rect x="108.65" y="240.40" width="4.50" height="4.50" fill="#3e4a89"/>
<rect x="113.10" y="240.40" width="4.50" height="4.50" fill="#453581"/>
<rect x="117.55" y="240.40" width="4.50" height="4.50" fill="#472e7c"/>
<rect x="122.00" y="240.40" width="4.50" height="4.50" fill="#482878"/>
<rect x="126.45" y="240.40" width="4.50" height="4.50" fill="#482878"/>
<rect x="130.90" y="240.40" width="4.50" height="4.50" fill="#482173"/>
<rect x="37.45" y="244.85" width="4.50" height="4.50" fill="#481c6e"/>
<rect x="41.90" y="244.85" width="4.50" height="4.50" fill="#482677"/>
<rect x="46.35" y="244.85" width="4.50" height="4.50" fill="#472c7a"/>
<rect x="50.80" y="244.85" width="4.50" height="4.50" fill="#472f7d"/>
<rect x="55.25" y="244.85" width="4.50" height="4.50" fill="#443b84"/>
<rect x="59.70" y="244.85" width="4.50" height="4.50" fill="#306a8e"/>
<rect x="64.15" y="244.85" width="4.50" height="4.50" fill="#32658e"/>
<rect x="68.60" y="244.85" width="4.50" height="4.50" fill="#3f4889"/>
<rect x="73.05" y="244.85" width="4.50" height="4.50" fill="#404588"/>
<rect x="77.50" y="244.85" width="4.50" height="4.50" fill="#20938c"/>
<rect x="81.95" y="244.85" width="4.50" height="4.50" fill="#67cc5c"/>
<rect x="86.40" y="244.85" width="4.50" height="4.50" fill="#44bf70"/>
<rect x="90.85" y="244.85" width="4.50" height="4.50" fill="#1f948c"/>
<rect x="95.30" y="244.85" width="4.50" height="4.50" fill="#3d4d8a"/>
<rect x="99.75" y="244.85" width="4.50" height="4.50" fill="#443983"/>
<rect x="104.20" y="244.85" width="4.50" height="4.50" fill="#31688e"/>
<rect x="108.65" y="244.85" width="4.50" height="4.50" fill="#30698e"/>
<rect x="113.10" y="244.85" width="4.50" height="4.50" fill="#453581"/>
<rect x="117.55" y="244.85" width="4.50" height="4.50" fill="#472c7a"/>
<rect x="122.00" y="244.85" width="4.50" height="4.50" fill="#472d7b"/>
<rect x="126.45" y="244.85" width="4.50" height="4.50" fill="#482677"/>
<rect x="130.90" y="244.85" width="4.50" height="4.50" fill="#482071"/>
<rect x="41.90" y="249.30" width="4.50" height="4.50" fill="#472c7a"/>
<rect x="46.35" y="249.30" width="4.50" height="4.50" fill="#482878"/>
<rect x="50.80" y="249.30" width="4.50" height="4.50" fill="#482677"/>
<rect x="55.25" y="249.30" width="4.50" height="4.50" fill="#3f4889"/>
<rect x="59.70" y="249.30" width="4.50" height="4.50" fill="#31688e"/>
<rect x="64.15" y="249.30" width="4.50" height="4.50" fill="#463480"/>
<rect x="68.60" y="249.30" width="4.50" height="4.50" fill="#472f7d"/>
<rect x="73.05" y="249.30" width="4.50" height="4.50" fill="#3f4889"/>
<rect x="77.50" y="249.30" width="4.50" height="4.50" fill="#3e4c8a"/>
<rect x="81.95" y="249.30" width="4.50" height="4.50" fill="#38b977"/>
<rect x="86.40" y="249.30" width="4.50" height="4.50" fill="#27ad81"/>
<rect x="90.85" y="249.30" width="4.50" height="4.50" fill="#3b518b"/>
<rect x="95.30" y="249.30" width="4.50" height="4.50" fill="#443a83"/>
<rect x="99.75" y="249.30" width="4.50" height="4.50" fill="#463480"/>
<rect x="104.20" y="249.30" width="4.50" height="4.50" fill="#453581"/>
<rect x="108.65" y="249.30" width="4.50" height="4.50" fill="#355f8d"/>
<rect x="113.10" y="249.30" width="4.50" height="4.50" fill="#424086"/>
<rect x="117.55" y="249.30" width="4.50" height="4.50" fill="#472a7a"/>
<rect x="122.00" y="249.30" width="4.50" height="4.50" fill="#472d7b"/>
<rect x="126.45" y="249.30" width="4.50" height="4.50" fill="#482677"/>
<rect x="46.35" y="253.75" width="4.50" height="4.50" fill="#482878"/>
<rect x="50.80" y="253.75" width="4.50" height="4.50" fill="#472f7d"/>
<rect x="55.25" y="253.75" width="4.50" height="4.50" fill="#31678e"/>
<rect x="59.70" y="253.75" width="4.50" height="4.50" fill="#3f4889"/>
<rect x="64.15" y="253.75" width="4.50" height="4.50" fill="#46307e"/>
<rect x="68.60" y="253.75" width="4.50" height="4.50" fill="#453781"/>
<rect x="73.05" y="253.75" width="4.50" height="4.50" fill="#482979"/>
<rect x="77.50" y="253.75" width="4.50" height="4.50" fill="#424186"/>
<rect x="81.95" y="253.75" width="4.50" height="4.50" fill="#1f988b"/>
<rect x="86.40" y="253.75" width="4.50" height="4.50" fill="#1f9a8a"/>
<rect x="90.85" y="253.75" width="4.50" height="4.50" fill="#453581"/>
<rect x="95.30" y="253.75" width="4.50" height="4.50" fill="#453882"/>
<rect x="99.75" y="253.75" width="4.50" height="4.50" fill="#472d7b"/>
<rect x="104.20" y="253.75" width="4.50" height="4.50" fill="#472e7c"/>
<rect x="108.65" y="253.75" width="4.50" height="4.50" fill="#404688"/>
<rect x="113.10" y="253.75" width="4.50" height="4.50" fill="#3a548c"/>
<rect x="117.55" y="253.75" width="4.50" height="4.50" fill="#472c7a"/>
<rect x="122.00" y="253.75" width="4.50" height="4.50" fill="#481d6f"/>
<rect x="46.35" y="258.20" width="4.50" height="4.50" fill="#482475"/>
<rect x="50.80" y="258.20" width="4.50" height="4.50" fill="#3f4788"/>
<rect x="55.25" y="258.20" width="4.50" height="4.50" fill="#34608d"/>
<rect x="59.70" y="258.20" width="4.50" height="4.50" fill="#482576"/>
<rect x="64.15" y="258.20" width="4.50" height="4.50" fill="#472e7c"/>
<rect x="68.60" y="258.20" width="4.50" height="4.50" fill="#46307e"/>
<rect x="73.05" y="258.20" width="4.50" height="4.50" fill="#472e7c"/>
<rect x="77.50" y="258.20" width="4.50" height="4.50" fill="#39558c"/>
<rect x="81.95" y="258.20" width="4.50" height="4.50" fill="#2b748e"/>
<rect x="86.40" y="258.20" width="4.50" height="4.50" fill="#26818e"/>
<rect x="90.85" y="258.20" width="4.50" height="4.50" fill="#375a8c"/>
<rect x="95.30" y="258.20" width="4.50" height="4.50" fill="#472f7d"/>
<rect x="99.75" y="258.20" width="4.50" height="4.50" fill="#472a7a"/>
<rect x="104.20" y="258.20" width="4.50" height="4.50" fill="#482475"/>
<rect x="108.65" y="258.20" width="4.50" height="4.50" fill="#472a7a"/>
<rect x="113.10" y="258.20" width="4.50" height="4.50" fill="#355f8d"/>
<rect x="117.55" y="258.20" width="4.50" height="4.50" fill="#404688"/>
<rect x="122.00" y="258.20" width="4.50" height="4.50" fill="#482475"/>
<rect x="55.25" y="262.65" width="4.50" height="4.50" fill="#453781"/>
<rect x="59.70" y="262.65" width="4.50" height="4.50" fill="#482374"/>
<rect x="64.15" y="262.65" width="4.50" height="4.50" fill="#482576"/>
<rect x="68.60" y="262.65" width="4.50" height="4.50" fill="#482677"/>
<rect x="73.05" y="262.65" width="4.50" height="4.50" fill="#443983"/>
<rect x="77.50" y="262.65" width="4.50" height="4.50" fill="#30698e"/>
<rect x="81.95" y="262.65" width="4.50" height="4.50" fill="#433d84"/>
<rect x="86.40" y="262.65" width="4.50" height="4.50" fill="#433e85"/>
<rect x="90.85" y="262.65" width="4.50" height="4.50" fill="#2d718e"/>
<rect x="95.30" y="262.65" width="4.50" height="4.50" fill="#433d84"/>
<rect x="99.75" y="262.65" width="4.50" height="4.50" fill="#472c7a"/>
<rect x="104.20" y="262.65" width="4.50" height="4.50" fill="#482979"/>
<rect x="108.65" y="262.65" width="4.50" height="4.50" fill="#48186a"/>
<rect x="113.10" y="262.65" width="4.50" height="4.50" fill="#46337f"/>
<rect x="59.70" y="267.10" width="4.50" height="4.50" fill="#482677"/>
<rect x="64.15" y="267.10" width="4.50" height="4.50" fill="#482576"/>
<rect x="68.60" y="267.10" width="4.50" height="4.50" fill="#482878"/>
<rect x="73.05" y="267.10" width="4.50" height="4.50" fill="#3b528b"/>
<rect x="77.50" y="267.10" width="4.50" height="4.50" fill="#38588c"/>
<rect x="81.95" y="267.10" width="4.50" height="4.50" fill="#482475"/>
<rect x="86.40" y="267.10" width="4.50" height="4.50" fill="#482475"/>
<rect x="90.85" y="267.10" width="4.50" height="4.50" fill="#375a8c"/>
<rect x="95.30" y="267.10" width="4.50" height="4.50" fill="#3e4989"/>
<rect x="99.75" y="267.10" width="4.50" height="4.50" fill="#472d7b"/>
<rect x="104.20" y="267.10" width="4.50" height="4.50" fill="#482374"/>
<rect x="108.65" y="267.10" width="4.50" height="4.50" fill="#482374"/>
<rect x="73.05" y="271.55" width="4.50" height="4.50" fill="#34608d"/>
<rect x="77.50" y="271.55" width="4.50" height="4.50" fill="#472a7a"/>
<rect x="81.95" y="271.55" width="4.50" height="4.50" fill="#482576"/>
<rect x="86.40" y="271.55" width="4.50" height="4.50" fill="#482979"/>
<rect x="90.85" y="271.55" width="4.50" height="4.50" fill="#472e7c"/>
<rect x="95.30" y="271.55" width="4.50" height="4.50" fill="#2e6d8e"/>
</g>
<line x1="36.61" y1="230.00" x2="136.19" y2="230.00" stroke="#ffffff" stroke-width="1.30" stroke-dasharray="4.2 1.8"/>
<line x1="117.70" y1="262.02" x2="67.91" y2="175.78" stroke="#ffffff" stroke-width="1.30" stroke-dasharray="4.2 1.8"/>
<line x1="104.89" y1="175.78" x2="55.10" y2="262.02" stroke="#ffffff" stroke-width="1.30" stroke-dasharray="4.2 1.8"/>
<line x1="38.53" y1="207.05" x2="134.27" y2="207.05" stroke="#ffffff" stroke-width="1.30" stroke-dasharray="4.2 1.8"/>
<line x1="96.87" y1="271.83" x2="49.00" y2="188.92" stroke="#ffffff" stroke-width="1.30" stroke-dasharray="4.2 1.8"/>
<line x1="123.80" y1="188.92" x2="75.93" y2="271.83" stroke="#ffffff" stroke-width="1.30" stroke-dasharray="4.2 1.8"/>
<line x1="41.89" y1="196.90" x2="46.30" y2="199.45" stroke="#fff" stroke-width="1.6"/>
<path d="M51.76 202.60L47.85 196.77L44.75 202.13Z" fill="#fff"/>
<line x1="130.91" y1="196.90" x2="126.50" y2="199.45" stroke="#fff" stroke-width="1.6"/>
<path d="M121.04 202.60L128.05 202.13L124.95 196.77Z" fill="#fff"/>
<line x1="86.40" y1="274.00" x2="86.40" y2="268.90" stroke="#fff" stroke-width="1.6"/>
<path d="M86.40 262.60L83.30 268.90L89.50 268.90Z" fill="#fff"/>
<circle cx="86.40" cy="222.60" r="50.40" fill="none" stroke="#111" stroke-width="1.1"/>
<defs><clipPath id="clip_iv"><circle cx="243.50" cy="222.60" r="50.40"/></clipPath></defs>
<g clip-path="url(#clip_iv)" shape-rendering="crispEdges">
<rect x="221.55" y="171.65" width="4.50" height="4.50" fill="#2b758e"/>
<rect x="226.00" y="171.65" width="4.50" height="4.50" fill="#31678e"/>
<rect x="230.45" y="171.65" width="4.50" height="4.50" fill="#2a768e"/>
<rect x="234.90" y="171.65" width="4.50" height="4.50" fill="#fde725"/>
<rect x="239.35" y="171.65" width="4.50" height="4.50" fill="#3bbb75"/>
<rect x="243.80" y="171.65" width="4.50" height="4.50" fill="#29798e"/>
<rect x="248.25" y="171.65" width="4.50" height="4.50" fill="#22a785"/>
<rect x="252.70" y="171.65" width="4.50" height="4.50" fill="#3c4f8a"/>
<rect x="257.15" y="171.65" width="4.50" height="4.50" fill="#21908d"/>
<rect x="261.60" y="171.65" width="4.50" height="4.50" fill="#24aa83"/>
<rect x="212.65" y="176.10" width="4.50" height="4.50" fill="#38588c"/>
<rect x="217.10" y="176.10" width="4.50" height="4.50" fill="#443a83"/>
<rect x="221.55" y="176.10" width="4.50" height="4.50" fill="#3c4f8a"/>
<rect x="226.00" y="176.10" width="4.50" height="4.50" fill="#1f968b"/>
<rect x="230.45" y="176.10" width="4.50" height="4.50" fill="#453781"/>
<rect x="234.90" y="176.10" width="4.50" height="4.50" fill="#404588"/>
<rect x="239.35" y="176.10" width="4.50" height="4.50" fill="#218e8d"/>
<rect x="243.80" y="176.10" width="4.50" height="4.50" fill="#30698e"/>
<rect x="248.25" y="176.10" width="4.50" height="4.50" fill="#1f968b"/>
<rect x="252.70" y="176.10" width="4.50" height="4.50" fill="#1f958b"/>
<rect x="257.15" y="176.10" width="4.50" height="4.50" fill="#26828e"/>
<rect x="261.60" y="176.10" width="4.50" height="4.50" fill="#21918c"/>
<rect x="266.05" y="176.10" width="4.50" height="4.50" fill="#31668e"/>
<rect x="270.50" y="176.10" width="4.50" height="4.50" fill="#443b84"/>
<rect x="208.20" y="180.55" width="4.50" height="4.50" fill="#375b8d"/>
<rect x="212.65" y="180.55" width="4.50" height="4.50" fill="#39558c"/>
<rect x="217.10" y="180.55" width="4.50" height="4.50" fill="#32648e"/>
<rect x="221.55" y="180.55" width="4.50" height="4.50" fill="#355f8d"/>
<rect x="226.00" y="180.55" width="4.50" height="4.50" fill="#2e6d8e"/>
<rect x="230.45" y="180.55" width="4.50" height="4.50" fill="#33628d"/>
<rect x="234.90" y="180.55" width="4.50" height="4.50" fill="#375a8c"/>
<rect x="239.35" y="180.55" width="4.50" height="4.50" fill="#3f4889"/>
<rect x="243.80" y="180.55" width="4.50" height="4.50" fill="#297b8e"/>
<rect x="248.25" y="180.55" width="4.50" height="4.50" fill="#414487"/>
<rect x="252.70" y="180.55" width="4.50" height="4.50" fill="#39558c"/>
<rect x="257.15" y="180.55" width="4.50" height="4.50" fill="#39558c"/>
<rect x="261.60" y="180.55" width="4.50" height="4.50" fill="#33628d"/>
<rect x="266.05" y="180.55" width="4.50" height="4.50" fill="#355f8d"/>
<rect x="270.50" y="180.55" width="4.50" height="4.50" fill="#2d718e"/>
<rect x="274.95" y="180.55" width="4.50" height="4.50" fill="#443b84"/>
<rect x="203.75" y="185.00" width="4.50" height="4.50" fill="#228b8d"/>
<rect x="208.20" y="185.00" width="4.50" height="4.50" fill="#33628d"/>
<rect x="212.65" y="185.00" width="4.50" height="4.50" fill="#34618d"/>
<rect x="217.10" y="185.00" width="4.50" height="4.50" fill="#2c728e"/>
<rect x="221.55" y="185.00" width="4.50" height="4.50" fill="#3a538b"/>
<rect x="226.00" y="185.00" width="4.50" height="4.50" fill="#34608d"/>
<rect x="230.45" y="185.00" width="4.50" height="4.50" fill="#3e4a89"/>
<rect x="234.90" y="185.00" width="4.50" height="4.50" fill="#2a778e"/>
<rect x="239.35" y="185.00" width="4.50" height="4.50" fill="#31668e"/>
<rect x="243.80" y="185.00" width="4.50" height="4.50" fill="#2e6d8e"/>
<rect x="248.25" y="185.00" width="4.50" height="4.50" fill="#472c7a"/>
<rect x="252.70" y="185.00" width="4.50" height="4.50" fill="#33638d"/>
<rect x="257.15" y="185.00" width="4.50" height="4.50" fill="#277f8e"/>
<rect x="261.60" y="185.00" width="4.50" height="4.50" fill="#433e85"/>
<rect x="266.05" y="185.00" width="4.50" height="4.50" fill="#2a768e"/>
<rect x="270.50" y="185.00" width="4.50" height="4.50" fill="#228c8d"/>
<rect x="274.95" y="185.00" width="4.50" height="4.50" fill="#3f4889"/>
<rect x="279.40" y="185.00" width="4.50" height="4.50" fill="#31678e"/>
<rect x="199.30" y="189.45" width="4.50" height="4.50" fill="#433e85"/>
<rect x="203.75" y="189.45" width="4.50" height="4.50" fill="#297a8e"/>
<rect x="208.20" y="189.45" width="4.50" height="4.50" fill="#2d718e"/>
<rect x="212.65" y="189.45" width="4.50" height="4.50" fill="#32658e"/>
<rect x="217.10" y="189.45" width="4.50" height="4.50" fill="#443b84"/>
<rect x="221.55" y="189.45" width="4.50" height="4.50" fill="#3a538b"/>
<rect x="226.00" y="189.45" width="4.50" height="4.50" fill="#424086"/>
<rect x="230.45" y="189.45" width="4.50" height="4.50" fill="#33638d"/>
<rect x="234.90" y="189.45" width="4.50" height="4.50" fill="#453781"/>
<rect x="239.35" y="189.45" width="4.50" height="4.50" fill="#355e8d"/>
<rect x="243.80" y="189.45" width="4.50" height="4.50" fill="#2d708e"/>
<rect x="248.25" y="189.45" width="4.50" height="4.50" fill="#414287"/>
<rect x="252.70" y="189.45" width="4.50" height="4.50" fill="#1f958b"/>
<rect x="257.15" y="189.45" width="4.50" height="4.50" fill="#433d84"/>
<rect x="261.60" y="189.45" width="4.50" height="4.50" fill="#26828e"/>
<rect x="266.05" y="189.45" width="4.50" height="4.50" fill="#26828e"/>
<rect x="270.50" y="189.45" width="4.50" height="4.50" fill="#2b748e"/>
<rect x="274.95" y="189.45" width="4.50" height="4.50" fill="#297b8e"/>
<rect x="279.40" y="189.45" width="4.50" height="4.50" fill="#1f9f88"/>
<rect x="283.85" y="189.45" width="4.50" height="4.50" fill="#29798e"/>
<rect x="199.30" y="193.90" width="4.50" height="4.50" fill="#31688e"/>
<rect x="203.75" y="193.90" width="4.50" height="4.50" fill="#26828e"/>
<rect x="208.20" y="193.90" width="4.50" height="4.50" fill="#2e6f8e"/>
<rect x="212.65" y="193.90" width="4.50" height="4.50" fill="#218e8d"/>
<rect x="217.10" y="193.90" width="4.50" height="4.50" fill="#31688e"/>
<rect x="221.55" y="193.90" width="4.50" height="4.50" fill="#33638d"/>
<rect x="226.00" y="193.90" width="4.50" height="4.50" fill="#287d8e"/>
<rect x="230.45" y="193.90" width="4.50" height="4.50" fill="#3a538b"/>
<rect x="234.90" y="193.90" width="4.50" height="4.50" fill="#3c4f8a"/>
<rect x="239.35" y="193.90" width="4.50" height="4.50" fill="#3a548c"/>
<rect x="243.80" y="193.90" width="4.50" height="4.50" fill="#39558c"/>
<rect x="248.25" y="193.90" width="4.50" height="4.50" fill="#2a788e"/>
<rect x="252.70" y="193.90" width="4.50" height="4.50" fill="#2f6b8e"/>
<rect x="257.15" y="193.90" width="4.50" height="4.50" fill="#2c718e"/>
<rect x="261.60" y="193.90" width="4.50" height="4.50" fill="#2b748e"/>
<rect x="266.05" y="193.90" width="4.50" height="4.50" fill="#443b84"/>
<rect x="270.50" y="193.90" width="4.50" height="4.50" fill="#26818e"/>
<rect x="274.95" y="193.90" width="4.50" height="4.50" fill="#31678e"/>
<rect x="279.40" y="193.90" width="4.50" height="4.50" fill="#3a538b"/>
<rect x="283.85" y="193.90" width="4.50" height="4.50" fill="#2b748e"/>
<rect x="194.85" y="198.35" width="4.50" height="4.50" fill="#277e8e"/>
<rect x="199.30" y="198.35" width="4.50" height="4.50" fill="#26828e"/>
<rect x="203.75" y="198.35" width="4.50" height="4.50" fill="#3b518b"/>
<rect x="208.20" y="198.35" width="4.50" height="4.50" fill="#26818e"/>
<rect x="212.65" y="198.35" width="4.50" height="4.50" fill="#21918c"/>
<rect x="217.10" y="198.35" width="4.50" height="4.50" fill="#355e8d"/>
<rect x="221.55" y="198.35" width="4.50" height="4.50" fill="#33638d"/>
<rect x="226.00" y="198.35" width="4.50" height="4.50" fill="#2c728e"/>
<rect x="230.45" y="198.35" width="4.50" height="4.50" fill="#29798e"/>
<rect x="234.90" y="198.35" width="4.50" height="4.50" fill="#453882"/>
<rect x="239.35" y="198.35" width="4.50" height="4.50" fill="#31678e"/>
<rect x="243.80" y="198.35" width="4.50" height="4.50" fill="#3e4a89"/>
<rect x="248.25" y="198.35" width="4.50" height="4.50" fill="#31678e"/>
<rect x="252.70" y="198.35" width="4.50" height="4.50" fill="#2c718e"/>
<rect x="257.15" y="198.35" width="4.50" height="4.50" fill="#2e6e8e"/>
<rect x="261.60" y="198.35" width="4.50" height="4.50" fill="#32648e"/>
<rect x="266.05" y="198.35" width="4.50" height="4.50" fill="#1f9f88"/>
<rect x="270.50" y="198.35" width="4.50" height="4.50" fill="#34618d"/>
<rect x="274.95" y="198.35" width="4.50" height="4.50" fill="#287c8e"/>
<rect x="279.40" y="198.35" width="4.50" height="4.50" fill="#31678e"/>
<rect x="283.85" y="198.35" width="4.50" height="4.50" fill="#3d4d8a"/>
<rect x="288.30" y="198.35" width="4.50" height="4.50" fill="#32658e"/>
<rect x="194.85" y="202.80" width="4.50" height="4.50" fill="#20928c"/>
<rect x="199.30" y="202.80" width="4.50" height="4.50" fill="#375a8c"/>
<rect x="203.75" y="202.80" width="4.50" height="4.50" fill="#2d718e"/>
<rect x="208.20" y="202.80" width="4.50" height="4.50" fill="#1fa187"/>
<rect x="212.65" y="202.80" width="4.50" height="4.50" fill="#20928c"/>
<rect x="217.10" y="202.80" width="4.50" height="4.50" fill="#443a83"/>
<rect x="221.55" y="202.80" width="4.50" height="4.50" fill="#306a8e"/>
<rect x="226.00" y="202.80" width="4.50" height="4.50" fill="#39568c"/>
<rect x="230.45" y="202.80" width="4.50" height="4.50" fill="#32648e"/>
<rect x="234.90" y="202.80" width="4.50" height="4.50" fill="#355f8d"/>
<rect x="239.35" y="202.80" width="4.50" height="4.50" fill="#30698e"/>
<rect x="243.80" y="202.80" width="4.50" height="4.50" fill="#424186"/>
<rect x="248.25" y="202.80" width="4.50" height="4.50" fill="#26818e"/>
<rect x="252.70" y="202.80" width="4.50" height="4.50" fill="#355f8d"/>
<rect x="257.15" y="202.80" width="4.50" height="4.50" fill="#306a8e"/>
<rect x="261.60" y="202.80" width="4.50" height="4.50" fill="#3c508b"/>
<rect x="266.05" y="202.80" width="4.50" height="4.50" fill="#3b518b"/>
<rect x="270.50" y="202.80" width="4.50" height="4.50" fill="#28ae80"/>
<rect x="274.95" y="202.80" width="4.50" height="4.50" fill="#2f6c8e"/>
<rect x="279.40" y="202.80" width="4.50" height="4.50" fill="#3c4f8a"/>
<rect x="283.85" y="202.80" width="4.50" height="4.50" fill="#3f4788"/>
<rect x="288.30" y="202.80" width="4.50" height="4.50" fill="#33638d"/>
<rect x="190.40" y="207.25" width="4.50" height="4.50" fill="#2c718e"/>
<rect x="194.85" y="207.25" width="4.50" height="4.50" fill="#375a8c"/>
<rect x="199.30" y="207.25" width="4.50" height="4.50" fill="#32658e"/>
<rect x="203.75" y="207.25" width="4.50" height="4.50" fill="#3d4e8a"/>
<rect x="208.20" y="207.25" width="4.50" height="4.50" fill="#297b8e"/>
<rect x="212.65" y="207.25" width="4.50" height="4.50" fill="#414287"/>
<rect x="217.10" y="207.25" width="4.50" height="4.50" fill="#1fa287"/>
<rect x="221.55" y="207.25" width="4.50" height="4.50" fill="#50c46a"/>
<rect x="226.00" y="207.25" width="4.50" height="4.50" fill="#26818e"/>
<rect x="230.45" y="207.25" width="4.50" height="4.50" fill="#39558c"/>
<rect x="234.90" y="207.25" width="4.50" height="4.50" fill="#3c508b"/>
<rect x="239.35" y="207.25" width="4.50" height="4.50" fill="#1e9c89"/>
<rect x="243.80" y="207.25" width="4.50" height="4.50" fill="#38598c"/>
<rect x="248.25" y="207.25" width="4.50" height="4.50" fill="#355e8d"/>
<rect x="252.70" y="207.25" width="4.50" height="4.50" fill="#277e8e"/>
<rect x="257.15" y="207.25" width="4.50" height="4.50" fill="#2c718e"/>
<rect x="261.60" y="207.25" width="4.50" height="4.50" fill="#404588"/>
<rect x="266.05" y="207.25" width="4.50" height="4.50" fill="#3f4788"/>
<rect x="270.50" y="207.25" width="4.50" height="4.50" fill="#2f6b8e"/>
<rect x="274.95" y="207.25" width="4.50" height="4.50" fill="#3bbb75"/>
<rect x="279.40" y="207.25" width="4.50" height="4.50" fill="#2d708e"/>
<rect x="283.85" y="207.25" width="4.50" height="4.50" fill="#423f85"/>
<rect x="288.30" y="207.25" width="4.50" height="4.50" fill="#3d4e8a"/>
<rect x="190.40" y="211.70" width="4.50" height="4.50" fill="#25858e"/>
<rect x="194.85" y="211.70" width="4.50" height="4.50" fill="#2f6b8e"/>
<rect x="199.30" y="211.70" width="4.50" height="4.50" fill="#277e8e"/>
<rect x="203.75" y="211.70" width="4.50" height="4.50" fill="#404588"/>
<rect x="208.20" y="211.70" width="4.50" height="4.50" fill="#1f9e89"/>
<rect x="212.65" y="211.70" width="4.50" height="4.50" fill="#38588c"/>
<rect x="217.10" y="211.70" width="4.50" height="4.50" fill="#297b8e"/>
<rect x="221.55" y="211.70" width="4.50" height="4.50" fill="#1e9d89"/>
<rect x="226.00" y="211.70" width="4.50" height="4.50" fill="#3f4788"/>
<rect x="230.45" y="211.70" width="4.50" height="4.50" fill="#39558c"/>
<rect x="234.90" y="211.70" width="4.50" height="4.50" fill="#433d84"/>
<rect x="239.35" y="211.70" width="4.50" height="4.50" fill="#34608d"/>
<rect x="243.80" y="211.70" width="4.50" height="4.50" fill="#453581"/>
<rect x="248.25" y="211.70" width="4.50" height="4.50" fill="#3b518b"/>
<rect x="252.70" y="211.70" width="4.50" height="4.50" fill="#31688e"/>
<rect x="257.15" y="211.70" width="4.50" height="4.50" fill="#2a778e"/>
<rect x="261.60" y="211.70" width="4.50" height="4.50" fill="#375a8c"/>
<rect x="266.05" y="211.70" width="4.50" height="4.50" fill="#2a788e"/>
<rect x="270.50" y="211.70" width="4.50" height="4.50" fill="#443a83"/>
<rect x="274.95" y="211.70" width="4.50" height="4.50" fill="#2c718e"/>
<rect x="279.40" y="211.70" width="4.50" height="4.50" fill="#277f8e"/>
<rect x="283.85" y="211.70" width="4.50" height="4.50" fill="#3e4989"/>
<rect x="288.30" y="211.70" width="4.50" height="4.50" fill="#2f6b8e"/>
<rect x="292.75" y="211.70" width="4.50" height="4.50" fill="#33628d"/>
<rect x="190.40" y="216.15" width="4.50" height="4.50" fill="#365d8d"/>
<rect x="194.85" y="216.15" width="4.50" height="4.50" fill="#2d718e"/>
<rect x="199.30" y="216.15" width="4.50" height="4.50" fill="#2c738e"/>
<rect x="203.75" y="216.15" width="4.50" height="4.50" fill="#3d4d8a"/>
<rect x="208.20" y="216.15" width="4.50" height="4.50" fill="#29798e"/>
<rect x="212.65" y="216.15" width="4.50" height="4.50" fill="#3f4889"/>
<rect x="217.10" y="216.15" width="4.50" height="4.50" fill="#2a768e"/>
<rect x="221.55" y="216.15" width="4.50" height="4.50" fill="#2e6e8e"/>
<rect x="226.00" y="216.15" width="4.50" height="4.50" fill="#24868e"/>
<rect x="230.45" y="216.15" width="4.50" height="4.50" fill="#482878"/>
<rect x="234.90" y="216.15" width="4.50" height="4.50" fill="#365d8d"/>
<rect x="239.35" y="216.15" width="4.50" height="4.50" fill="#46327e"/>
<rect x="243.80" y="216.15" width="4.50" height="4.50" fill="#2c718e"/>
<rect x="248.25" y="216.15" width="4.50" height="4.50" fill="#2a788e"/>
<rect x="252.70" y="216.15" width="4.50" height="4.50" fill="#2b758e"/>
<rect x="257.15" y="216.15" width="4.50" height="4.50" fill="#472c7a"/>
<rect x="261.60" y="216.15" width="4.50" height="4.50" fill="#365d8d"/>
<rect x="266.05" y="216.15" width="4.50" height="4.50" fill="#2c738e"/>
<rect x="270.50" y="216.15" width="4.50" height="4.50" fill="#3a548c"/>
<rect x="274.95" y="216.15" width="4.50" height="4.50" fill="#277f8e"/>
<rect x="279.40" y="216.15" width="4.50" height="4.50" fill="#297a8e"/>
<rect x="283.85" y="216.15" width="4.50" height="4.50" fill="#404688"/>
<rect x="288.30" y="216.15" width="4.50" height="4.50" fill="#2e6f8e"/>
<rect x="292.75" y="216.15" width="4.50" height="4.50" fill="#3f4889"/>
<rect x="190.40" y="220.60" width="4.50" height="4.50" fill="#2a788e"/>
<rect x="194.85" y="220.60" width="4.50" height="4.50" fill="#404588"/>
<rect x="199.30" y="220.60" width="4.50" height="4.50" fill="#31668e"/>
<rect x="203.75" y="220.60" width="4.50" height="4.50" fill="#20928c"/>
<rect x="208.20" y="220.60" width="4.50" height="4.50" fill="#30698e"/>
<rect x="212.65" y="220.60" width="4.50" height="4.50" fill="#29798e"/>
<rect x="217.10" y="220.60" width="4.50" height="4.50" fill="#287c8e"/>
<rect x="221.55" y="220.60" width="4.50" height="4.50" fill="#25838e"/>
<rect x="226.00" y="220.60" width="4.50" height="4.50" fill="#46307e"/>
<rect x="230.45" y="220.60" width="4.50" height="4.50" fill="#3a538b"/>
<rect x="234.90" y="220.60" width="4.50" height="4.50" fill="#433d84"/>
<rect x="239.35" y="220.60" width="4.50" height="4.50" fill="#3a538b"/>
<rect x="243.80" y="220.60" width="4.50" height="4.50" fill="#2c738e"/>
<rect x="248.25" y="220.60" width="4.50" height="4.50" fill="#297b8e"/>
<rect x="252.70" y="220.60" width="4.50" height="4.50" fill="#306a8e"/>
<rect x="257.15" y="220.60" width="4.50" height="4.50" fill="#375a8c"/>
<rect x="261.60" y="220.60" width="4.50" height="4.50" fill="#38598c"/>
<rect x="266.05" y="220.60" width="4.50" height="4.50" fill="#228c8d"/>
<rect x="270.50" y="220.60" width="4.50" height="4.50" fill="#423f85"/>
<rect x="274.95" y="220.60" width="4.50" height="4.50" fill="#3c4f8a"/>
<rect x="279.40" y="220.60" width="4.50" height="4.50" fill="#3d4e8a"/>
<rect x="283.85" y="220.60" width="4.50" height="4.50" fill="#443a83"/>
<rect x="288.30" y="220.60" width="4.50" height="4.50" fill="#481f70"/>
<rect x="292.75" y="220.60" width="4.50" height="4.50" fill="#238a8d"/>
<rect x="190.40" y="225.05" width="4.50" height="4.50" fill="#3d4e8a"/>
<rect x="194.85" y="225.05" width="4.50" height="4.50" fill="#25848e"/>
<rect x="199.30" y="225.05" width="4.50" height="4.50" fill="#375b8d"/>
<rect x="203.75" y="225.05" width="4.50" height="4.50" fill="#3b528b"/>
<rect x="208.20" y="225.05" width="4.50" height="4.50" fill="#24878e"/>
<rect x="212.65" y="225.05" width="4.50" height="4.50" fill="#2c738e"/>
<rect x="217.10" y="225.05" width="4.50" height="4.50" fill="#33638d"/>
<rect x="221.55" y="225.05" width="4.50" height="4.50" fill="#3f4889"/>
<rect x="226.00" y="225.05" width="4.50" height="4.50" fill="#24868e"/>
<rect x="230.45" y="225.05" width="4.50" height="4.50" fill="#365d8d"/>
<rect x="234.90" y="225.05" width="4.50" height="4.50" fill="#26818e"/>
<rect x="239.35" y="225.05" width="4.50" height="4.50" fill="#3d4e8a"/>
<rect x="243.80" y="225.05" width="4.50" height="4.50" fill="#3e4989"/>
<rect x="248.25" y="225.05" width="4.50" height="4.50" fill="#2b748e"/>
<rect x="252.70" y="225.05" width="4.50" height="4.50" fill="#31668e"/>
<rect x="257.15" y="225.05" width="4.50" height="4.50" fill="#2d718e"/>
<rect x="261.60" y="225.05" width="4.50" height="4.50" fill="#3e4c8a"/>
<rect x="266.05" y="225.05" width="4.50" height="4.50" fill="#25838e"/>
<rect x="270.50" y="225.05" width="4.50" height="4.50" fill="#26828e"/>
<rect x="274.95" y="225.05" width="4.50" height="4.50" fill="#25838e"/>
<rect x="279.40" y="225.05" width="4.50" height="4.50" fill="#453581"/>
<rect x="283.85" y="225.05" width="4.50" height="4.50" fill="#3f4788"/>
<rect x="288.30" y="225.05" width="4.50" height="4.50" fill="#30698e"/>
<rect x="292.75" y="225.05" width="4.50" height="4.50" fill="#297b8e"/>
<rect x="190.40" y="229.50" width="4.50" height="4.50" fill="#2c718e"/>
<rect x="194.85" y="229.50" width="4.50" height="4.50" fill="#69cd5b"/>
<rect x="199.30" y="229.50" width="4.50" height="4.50" fill="#33628d"/>
<rect x="203.75" y="229.50" width="4.50" height="4.50" fill="#24878e"/>
<rect x="208.20" y="229.50" width="4.50" height="4.50" fill="#2c728e"/>
<rect x="212.65" y="229.50" width="4.50" height="4.50" fill="#277f8e"/>
<rect x="217.10" y="229.50" width="4.50" height="4.50" fill="#26828e"/>
<rect x="221.55" y="229.50" width="4.50" height="4.50" fill="#228b8d"/>
<rect x="226.00" y="229.50" width="4.50" height="4.50" fill="#2c738e"/>
<rect x="230.45" y="229.50" width="4.50" height="4.50" fill="#2a778e"/>
<rect x="234.90" y="229.50" width="4.50" height="4.50" fill="#375a8c"/>
<rect x="239.35" y="229.50" width="4.50" height="4.50" fill="#3a548c"/>
<rect x="243.80" y="229.50" width="4.50" height="4.50" fill="#39558c"/>
<rect x="248.25" y="229.50" width="4.50" height="4.50" fill="#2a778e"/>
<rect x="252.70" y="229.50" width="4.50" height="4.50" fill="#2e6f8e"/>
<rect x="257.15" y="229.50" width="4.50" height="4.50" fill="#433d84"/>
<rect x="261.60" y="229.50" width="4.50" height="4.50" fill="#38588c"/>
<rect x="266.05" y="229.50" width="4.50" height="4.50" fill="#2c718e"/>
<rect x="270.50" y="229.50" width="4.50" height="4.50" fill="#2b748e"/>
<rect x="274.95" y="229.50" width="4.50" height="4.50" fill="#472d7b"/>
<rect x="279.40" y="229.50" width="4.50" height="4.50" fill="#30698e"/>
<rect x="283.85" y="229.50" width="4.50" height="4.50" fill="#3c4f8a"/>
<rect x="288.30" y="229.50" width="4.50" height="4.50" fill="#3d4e8a"/>
<rect x="292.75" y="229.50" width="4.50" height="4.50" fill="#443983"/>
<rect x="190.40" y="233.95" width="4.50" height="4.50" fill="#375a8c"/>
<rect x="194.85" y="233.95" width="4.50" height="4.50" fill="#2ab07f"/>
<rect x="199.30" y="233.95" width="4.50" height="4.50" fill="#34618d"/>
<rect x="203.75" y="233.95" width="4.50" height="4.50" fill="#355f8d"/>
<rect x="208.20" y="233.95" width="4.50" height="4.50" fill="#2e6d8e"/>
<rect x="212.65" y="233.95" width="4.50" height="4.50" fill="#2b758e"/>
<rect x="217.10" y="233.95" width="4.50" height="4.50" fill="#32648e"/>
<rect x="221.55" y="233.95" width="4.50" height="4.50" fill="#26828e"/>
<rect x="226.00" y="233.95" width="4.50" height="4.50" fill="#3f4788"/>
<rect x="230.45" y="233.95" width="4.50" height="4.50" fill="#306a8e"/>
<rect x="234.90" y="233.95" width="4.50" height="4.50" fill="#23898e"/>
<rect x="239.35" y="233.95" width="4.50" height="4.50" fill="#38588c"/>
<rect x="243.80" y="233.95" width="4.50" height="4.50" fill="#32648e"/>
<rect x="248.25" y="233.95" width="4.50" height="4.50" fill="#238a8d"/>
<rect x="252.70" y="233.95" width="4.50" height="4.50" fill="#2b758e"/>
<rect x="257.15" y="233.95" width="4.50" height="4.50" fill="#375a8c"/>
<rect x="261.60" y="233.95" width="4.50" height="4.50" fill="#39568c"/>
<rect x="266.05" y="233.95" width="4.50" height="4.50" fill="#3d4e8a"/>
<rect x="270.50" y="233.95" width="4.50" height="4.50" fill="#375a8c"/>
<rect x="274.95" y="233.95" width="4.50" height="4.50" fill="#26828e"/>
<rect x="279.40" y="233.95" width="4.50" height="4.50" fill="#38588c"/>
<rect x="283.85" y="233.95" width="4.50" height="4.50" fill="#31668e"/>
<rect x="288.30" y="233.95" width="4.50" height="4.50" fill="#38598c"/>
<rect x="194.85" y="238.40" width="4.50" height="4.50" fill="#33638d"/>
<rect x="199.30" y="238.40" width="4.50" height="4.50" fill="#26828e"/>
<rect x="203.75" y="238.40" width="4.50" height="4.50" fill="#218f8d"/>
<rect x="208.20" y="238.40" width="4.50" height="4.50" fill="#287d8e"/>
<rect x="212.65" y="238.40" width="4.50" height="4.50" fill="#39568c"/>
<rect x="217.10" y="238.40" width="4.50" height="4.50" fill="#365c8d"/>
<rect x="221.55" y="238.40" width="4.50" height="4.50" fill="#25858e"/>
<rect x="226.00" y="238.40" width="4.50" height="4.50" fill="#31688e"/>
<rect x="230.45" y="238.40" width="4.50" height="4.50" fill="#34608d"/>
<rect x="234.90" y="238.40" width="4.50" height="4.50" fill="#2c728e"/>
<rect x="239.35" y="238.40" width="4.50" height="4.50" fill="#218f8d"/>
<rect x="243.80" y="238.40" width="4.50" height="4.50" fill="#3e4a89"/>
<rect x="248.25" y="238.40" width="4.50" height="4.50" fill="#355f8d"/>
<rect x="252.70" y="238.40" width="4.50" height="4.50" fill="#277e8e"/>
<rect x="257.15" y="238.40" width="4.50" height="4.50" fill="#218f8d"/>
<rect x="261.60" y="238.40" width="4.50" height="4.50" fill="#414487"/>
<rect x="266.05" y="238.40" width="4.50" height="4.50" fill="#46337f"/>
<rect x="270.50" y="238.40" width="4.50" height="4.50" fill="#38598c"/>
<rect x="274.95" y="238.40" width="4.50" height="4.50" fill="#2c738e"/>
<rect x="279.40" y="238.40" width="4.50" height="4.50" fill="#443983"/>
<rect x="283.85" y="238.40" width="4.50" height="4.50" fill="#25838e"/>
<rect x="288.30" y="238.40" width="4.50" height="4.50" fill="#20928c"/>
<rect x="194.85" y="242.85" width="4.50" height="4.50" fill="#31668e"/>
<rect x="199.30" y="242.85" width="4.50" height="4.50" fill="#1f948c"/>
<rect x="203.75" y="242.85" width="4.50" height="4.50" fill="#228d8d"/>
<rect x="208.20" y="242.85" width="4.50" height="4.50" fill="#2e6e8e"/>
<rect x="212.65" y="242.85" width="4.50" height="4.50" fill="#26828e"/>
<rect x="217.10" y="242.85" width="4.50" height="4.50" fill="#287c8e"/>
<rect x="221.55" y="242.85" width="4.50" height="4.50" fill="#3a548c"/>
<rect x="226.00" y="242.85" width="4.50" height="4.50" fill="#3f4889"/>
<rect x="230.45" y="242.85" width="4.50" height="4.50" fill="#3c508b"/>
<rect x="234.90" y="242.85" width="4.50" height="4.50" fill="#20928c"/>
<rect x="239.35" y="242.85" width="4.50" height="4.50" fill="#3e4989"/>
<rect x="243.80" y="242.85" width="4.50" height="4.50" fill="#2ab07f"/>
<rect x="248.25" y="242.85" width="4.50" height="4.50" fill="#365d8d"/>
<rect x="252.70" y="242.85" width="4.50" height="4.50" fill="#365d8d"/>
<rect x="257.15" y="242.85" width="4.50" height="4.50" fill="#2d718e"/>
<rect x="261.60" y="242.85" width="4.50" height="4.50" fill="#404588"/>
<rect x="266.05" y="242.85" width="4.50" height="4.50" fill="#38598c"/>
<rect x="270.50" y="242.85" width="4.50" height="4.50" fill="#1f968b"/>
<rect x="274.95" y="242.85" width="4.50" height="4.50" fill="#365d8d"/>
<rect x="279.40" y="242.85" width="4.50" height="4.50" fill="#2a788e"/>
<rect x="283.85" y="242.85" width="4.50" height="4.50" fill="#fde725"/>
<rect x="288.30" y="242.85" width="4.50" height="4.50" fill="#3a548c"/>
<rect x="199.30" y="247.30" width="4.50" height="4.50" fill="#39558c"/>
<rect x="203.75" y="247.30" width="4.50" height="4.50" fill="#1f9a8a"/>
<rect x="208.20" y="247.30" width="4.50" height="4.50" fill="#29798e"/>
<rect x="212.65" y="247.30" width="4.50" height="4.50" fill="#31668e"/>
<rect x="217.10" y="247.30" width="4.50" height="4.50" fill="#433d84"/>
<rect x="221.55" y="247.30" width="4.50" height="4.50" fill="#2e6d8e"/>
<rect x="226.00" y="247.30" width="4.50" height="4.50" fill="#472e7c"/>
<rect x="230.45" y="247.30" width="4.50" height="4.50" fill="#2e6d8e"/>
<rect x="234.90" y="247.30" width="4.50" height="4.50" fill="#3e4a89"/>
<rect x="239.35" y="247.30" width="4.50" height="4.50" fill="#2b748e"/>
<rect x="243.80" y="247.30" width="4.50" height="4.50" fill="#1fa188"/>
<rect x="248.25" y="247.30" width="4.50" height="4.50" fill="#39568c"/>
<rect x="252.70" y="247.30" width="4.50" height="4.50" fill="#443983"/>
<rect x="257.15" y="247.30" width="4.50" height="4.50" fill="#26828e"/>
<rect x="261.60" y="247.30" width="4.50" height="4.50" fill="#3f4889"/>
<rect x="266.05" y="247.30" width="4.50" height="4.50" fill="#443a83"/>
<rect x="270.50" y="247.30" width="4.50" height="4.50" fill="#21918c"/>
<rect x="274.95" y="247.30" width="4.50" height="4.50" fill="#297b8e"/>
<rect x="279.40" y="247.30" width="4.50" height="4.50" fill="#1fa088"/>
<rect x="283.85" y="247.30" width="4.50" height="4.50" fill="#69cd5b"/>
<rect x="199.30" y="251.75" width="4.50" height="4.50" fill="#355f8d"/>
<rect x="203.75" y="251.75" width="4.50" height="4.50" fill="#297a8e"/>
<rect x="208.20" y="251.75" width="4.50" height="4.50" fill="#34618d"/>
<rect x="212.65" y="251.75" width="4.50" height="4.50" fill="#365d8d"/>
<rect x="217.10" y="251.75" width="4.50" height="4.50" fill="#3a538b"/>
<rect x="221.55" y="251.75" width="4.50" height="4.50" fill="#2f6c8e"/>
<rect x="226.00" y="251.75" width="4.50" height="4.50" fill="#3f4889"/>
<rect x="230.45" y="251.75" width="4.50" height="4.50" fill="#404588"/>
<rect x="234.90" y="251.75" width="4.50" height="4.50" fill="#375a8c"/>
<rect x="239.35" y="251.75" width="4.50" height="4.50" fill="#2a768e"/>
<rect x="243.80" y="251.75" width="4.50" height="4.50" fill="#21918c"/>
<rect x="248.25" y="251.75" width="4.50" height="4.50" fill="#46327e"/>
<rect x="252.70" y="251.75" width="4.50" height="4.50" fill="#228b8d"/>
<rect x="257.15" y="251.75" width="4.50" height="4.50" fill="#34608d"/>
<rect x="261.60" y="251.75" width="4.50" height="4.50" fill="#218e8d"/>
<rect x="266.05" y="251.75" width="4.50" height="4.50" fill="#453781"/>
<rect x="270.50" y="251.75" width="4.50" height="4.50" fill="#2a788e"/>
<rect x="274.95" y="251.75" width="4.50" height="4.50" fill="#30698e"/>
<rect x="279.40" y="251.75" width="4.50" height="4.50" fill="#287d8e"/>
<rect x="283.85" y="251.75" width="4.50" height="4.50" fill="#3e4a89"/>
<rect x="203.75" y="256.20" width="4.50" height="4.50" fill="#2a778e"/>
<rect x="208.20" y="256.20" width="4.50" height="4.50" fill="#23898e"/>
<rect x="212.65" y="256.20" width="4.50" height="4.50" fill="#424186"/>
<rect x="217.10" y="256.20" width="4.50" height="4.50" fill="#453882"/>
<rect x="221.55" y="256.20" width="4.50" height="4.50" fill="#365c8d"/>
<rect x="226.00" y="256.20" width="4.50" height="4.50" fill="#375a8c"/>
<rect x="230.45" y="256.20" width="4.50" height="4.50" fill="#424186"/>
<rect x="234.90" y="256.20" width="4.50" height="4.50" fill="#29798e"/>
<rect x="239.35" y="256.20" width="4.50" height="4.50" fill="#21a585"/>
<rect x="243.80" y="256.20" width="4.50" height="4.50" fill="#21908d"/>
<rect x="248.25" y="256.20" width="4.50" height="4.50" fill="#34608d"/>
<rect x="252.70" y="256.20" width="4.50" height="4.50" fill="#2f6b8e"/>
<rect x="257.15" y="256.20" width="4.50" height="4.50" fill="#24868e"/>
<rect x="261.60" y="256.20" width="4.50" height="4.50" fill="#355f8d"/>
<rect x="266.05" y="256.20" width="4.50" height="4.50" fill="#1e9b8a"/>
<rect x="270.50" y="256.20" width="4.50" height="4.50" fill="#297a8e"/>
<rect x="274.95" y="256.20" width="4.50" height="4.50" fill="#2b758e"/>
<rect x="279.40" y="256.20" width="4.50" height="4.50" fill="#32648e"/>
<rect x="208.20" y="260.65" width="4.50" height="4.50" fill="#2b758e"/>
<rect x="212.65" y="260.65" width="4.50" height="4.50" fill="#2c738e"/>
<rect x="217.10" y="260.65" width="4.50" height="4.50" fill="#3c4f8a"/>
<rect x="221.55" y="260.65" width="4.50" height="4.50" fill="#1f948c"/>
<rect x="226.00" y="260.65" width="4.50" height="4.50" fill="#228b8d"/>
<rect x="230.45" y="260.65" width="4.50" height="4.50" fill="#34618d"/>
<rect x="234.90" y="260.65" width="4.50" height="4.50" fill="#375a8c"/>
<rect x="239.35" y="260.65" width="4.50" height="4.50" fill="#375b8d"/>
<rect x="243.80" y="260.65" width="4.50" height="4.50" fill="#25858e"/>
<rect x="248.25" y="260.65" width="4.50" height="4.50" fill="#25848e"/>
<rect x="252.70" y="260.65" width="4.50" height="4.50" fill="#31668e"/>
<rect x="257.15" y="260.65" width="4.50" height="4.50" fill="#2a778e"/>
<rect x="261.60" y="260.65" width="4.50" height="4.50" fill="#33628d"/>
<rect x="266.05" y="260.65" width="4.50" height="4.50" fill="#31668e"/>
<rect x="270.50" y="260.65" width="4.50" height="4.50" fill="#28ae80"/>
<rect x="274.95" y="260.65" width="4.50" height="4.50" fill="#306a8e"/>
<rect x="212.65" y="265.10" width="4.50" height="4.50" fill="#3e4989"/>
<rect x="217.10" y="265.10" width="4.50" height="4.50" fill="#414287"/>
<rect x="221.55" y="265.10" width="4.50" height="4.50" fill="#39568c"/>
<rect x="226.00" y="265.10" width="4.50" height="4.50" fill="#2b758e"/>
<rect x="230.45" y="265.10" width="4.50" height="4.50" fill="#287d8e"/>
<rect x="234.90" y="265.10" width="4.50" height="4.50" fill="#2d718e"/>
<rect x="239.35" y="265.10" width="4.50" height="4.50" fill="#297a8e"/>
<rect x="243.80" y="265.10" width="4.50" height="4.50" fill="#21918c"/>
<rect x="248.25" y="265.10" width="4.50" height="4.50" fill="#1f958b"/>
<rect x="252.70" y="265.10" width="4.50" height="4.50" fill="#3c508b"/>
<rect x="257.15" y="265.10" width="4.50" height="4.50" fill="#3a538b"/>
<rect x="261.60" y="265.10" width="4.50" height="4.50" fill="#297b8e"/>
<rect x="266.05" y="265.10" width="4.50" height="4.50" fill="#2d708e"/>
<rect x="270.50" y="265.10" width="4.50" height="4.50" fill="#30698e"/>
<rect x="221.55" y="269.55" width="4.50" height="4.50" fill="#38588c"/>
<rect x="226.00" y="269.55" width="4.50" height="4.50" fill="#3b528b"/>
<rect x="230.45" y="269.55" width="4.50" height="4.50" fill="#1f998a"/>
<rect x="234.90" y="269.55" width="4.50" height="4.50" fill="#2e6f8e"/>
<rect x="239.35" y="269.55" width="4.50" height="4.50" fill="#472c7a"/>
<rect x="243.80" y="269.55" width="4.50" height="4.50" fill="#404688"/>
<rect x="248.25" y="269.55" width="4.50" height="4.50" fill="#30698e"/>
<rect x="252.70" y="269.55" width="4.50" height="4.50" fill="#287c8e"/>
<rect x="257.15" y="269.55" width="4.50" height="4.50" fill="#30698e"/>
<rect x="261.60" y="269.55" width="4.50" height="4.50" fill="#355f8d"/>
</g>
<line x1="195.73" y1="206.75" x2="291.27" y2="206.75" stroke="#ffffff" stroke-width="1.30" stroke-dasharray="4.2 1.8"/>
<line x1="253.65" y1="271.90" x2="205.88" y2="189.16" stroke="#ffffff" stroke-width="1.30" stroke-dasharray="4.2 1.8"/>
<line x1="281.12" y1="189.16" x2="233.35" y2="271.90" stroke="#ffffff" stroke-width="1.30" stroke-dasharray="4.2 1.8"/>
<line x1="226.19" y1="175.34" x2="260.81" y2="175.34" stroke="#ffffff" stroke-width="1.30" stroke-dasharray="4.2 1.8"/>
<line x1="211.22" y1="261.22" x2="193.91" y2="231.24" stroke="#ffffff" stroke-width="1.30" stroke-dasharray="4.2 1.8"/>
<line x1="293.09" y1="231.24" x2="275.78" y2="261.22" stroke="#ffffff" stroke-width="1.30" stroke-dasharray="4.2 1.8"/>
<line x1="198.99" y1="196.90" x2="203.40" y2="199.45" stroke="#fff" stroke-width="1.6"/>
<path d="M208.86 202.60L204.95 196.77L201.85 202.13Z" fill="#fff"/>
<line x1="288.01" y1="196.90" x2="283.60" y2="199.45" stroke="#fff" stroke-width="1.6"/>
<path d="M278.14 202.60L285.15 202.13L282.05 196.77Z" fill="#fff"/>
<line x1="243.50" y1="274.00" x2="243.50" y2="268.90" stroke="#fff" stroke-width="1.6"/>
<path d="M243.50 262.60L240.40 268.90L246.60 268.90Z" fill="#fff"/>
<circle cx="243.50" cy="222.60" r="50.40" fill="none" stroke="#111" stroke-width="1.1"/>
<rect x="32.50" y="14.50" width="110.00" height="114.00" fill="none" stroke="#333333" stroke-width="1.00"/>
<line x1="57.30" y1="128.50" x2="57.30" y2="131.50" stroke="#333333" stroke-width="1.00"/>
<text x="57.30" y="140.10" font-size="7.90" text-anchor="middle" fill="#000" stroke="#000" stroke-width="0.12">-0.2</text>
<line x1="29.50" y1="103.90" x2="32.50" y2="103.90" stroke="#333333" stroke-width="1.00"/>
<text x="26.90" y="106.80" font-size="7.90" text-anchor="end" fill="#000" stroke="#000" stroke-width="0.12">-0.2</text>
<line x1="87.50" y1="128.50" x2="87.50" y2="131.50" stroke="#333333" stroke-width="1.00"/>
<text x="87.50" y="140.10" font-size="7.90" text-anchor="middle" fill="#000" stroke="#000" stroke-width="0.12">0.0</text>
<line x1="29.50" y1="73.70" x2="32.50" y2="73.70" stroke="#333333" stroke-width="1.00"/>
<text x="26.90" y="76.60" font-size="7.90" text-anchor="end" fill="#000" stroke="#000" stroke-width="0.12">0.0</text>
<line x1="117.70" y1="128.50" x2="117.70" y2="131.50" stroke="#333333" stroke-width="1.00"/>
<text x="117.70" y="140.10" font-size="7.90" text-anchor="middle" fill="#000" stroke="#000" stroke-width="0.12">0.2</text>
<line x1="29.50" y1="43.50" x2="32.50" y2="43.50" stroke="#333333" stroke-width="1.00"/>
<text x="26.90" y="46.40" font-size="7.90" text-anchor="end" fill="#000" stroke="#000" stroke-width="0.12">0.2</text>
<text x="38.00" y="24.80" font-size="9.60" text-anchor="start" fill="#000" stroke="#000" stroke-width="0.12">(i)</text>
<rect x="188.50" y="14.50" width="110.00" height="114.00" fill="none" stroke="#333333" stroke-width="1.00"/>
<line x1="213.30" y1="128.50" x2="213.30" y2="131.50" stroke="#333333" stroke-width="1.00"/>
<text x="213.30" y="140.10" font-size="7.90" text-anchor="middle" fill="#000" stroke="#000" stroke-width="0.12">-0.2</text>
<line x1="185.50" y1="104.00" x2="188.50" y2="104.00" stroke="#333333" stroke-width="1.00"/>
<text x="182.90" y="106.90" font-size="7.90" text-anchor="end" fill="#000" stroke="#000" stroke-width="0.12">-0.2</text>
<line x1="243.50" y1="128.50" x2="243.50" y2="131.50" stroke="#333333" stroke-width="1.00"/>
<text x="243.50" y="140.10" font-size="7.90" text-anchor="middle" fill="#000" stroke="#000" stroke-width="0.12">0.0</text>
<line x1="185.50" y1="73.80" x2="188.50" y2="73.80" stroke="#333333" stroke-width="1.00"/>
<text x="182.90" y="76.70" font-size="7.90" text-anchor="end" fill="#000" stroke="#000" stroke-width="0.12">0.0</text>
<line x1="273.70" y1="128.50" x2="273.70" y2="131.50" stroke="#333333" stroke-width="1.00"/>
<text x="273.70" y="140.10" font-size="7.90" text-anchor="middle" fill="#000" stroke="#000" stroke-width="0.12">0.2</text>
<line x1="185.50" y1="43.60" x2="188.50" y2="43.60" stroke="#333333" stroke-width="1.00"/>
<text x="182.90" y="46.50" font-size="7.90" text-anchor="end" fill="#000" stroke="#000" stroke-width="0.12">0.2</text>
<text x="194.00" y="24.80" font-size="9.60" text-anchor="start" fill="#000" stroke="#000" stroke-width="0.12">(ii)</text>
<rect x="31.50" y="163.50" width="110.00" height="114.00" fill="none" stroke="#333333" stroke-width="1.00"/>
<line x1="56.20" y1="277.50" x2="56.20" y2="280.50" stroke="#333333" stroke-width="1.00"/>
<text x="56.20" y="289.10" font-size="7.90" text-anchor="middle" fill="#000" stroke="#000" stroke-width="0.12">-0.2</text>
<line x1="28.50" y1="252.80" x2="31.50" y2="252.80" stroke="#333333" stroke-width="1.00"/>
<text x="25.90" y="255.70" font-size="7.90" text-anchor="end" fill="#000" stroke="#000" stroke-width="0.12">-0.2</text>
<line x1="86.40" y1="277.50" x2="86.40" y2="280.50" stroke="#333333" stroke-width="1.00"/>
<text x="86.40" y="289.10" font-size="7.90" text-anchor="middle" fill="#000" stroke="#000" stroke-width="0.12">0.0</text>
<line x1="28.50" y1="222.60" x2="31.50" y2="222.60" stroke="#333333" stroke-width="1.00"/>
<text x="25.90" y="225.50" font-size="7.90" text-anchor="end" fill="#000" stroke="#000" stroke-width="0.12">0.0</text>
<line x1="116.60" y1="277.50" x2="116.60" y2="280.50" stroke="#333333" stroke-width="1.00"/>
<text x="116.60" y="289.10" font-size="7.90" text-anchor="middle" fill="#000" stroke="#000" stroke-width="0.12">0.2</text>
<line x1="28.50" y1="192.40" x2="31.50" y2="192.40" stroke="#333333" stroke-width="1.00"/>
<text x="25.90" y="195.30" font-size="7.90" text-anchor="end" fill="#000" stroke="#000" stroke-width="0.12">0.2</text>
<text x="37.00" y="173.80" font-size="9.60" text-anchor="start" fill="#000" stroke="#000" stroke-width="0.12">(iii)</text>
<rect x="188.50" y="163.50" width="110.00" height="114.00" fill="none" stroke="#333333" stroke-width="1.00"/>
<line x1="213.30" y1="277.50" x2="213.30" y2="280.50" stroke="#333333" stroke-width="1.00"/>
<text x="213.30" y="289.10" font-size="7.90" text-anchor="middle" fill="#000" stroke="#000" stroke-width="0.12">-0.2</text>
<line x1="185.50" y1="252.80" x2="188.50" y2="252.80" stroke="#333333" stroke-width="1.00"/>
<line x1="243.50" y1="277.50" x2="243.50" y2="280.50" stroke="#333333" stroke-width="1.00"/>
<text x="243.50" y="289.10" font-size="7.90" text-anchor="middle" fill="#000" stroke="#000" stroke-width="0.12">0.0</text>
<line x1="185.50" y1="222.60" x2="188.50" y2="222.60" stroke="#333333" stroke-width="1.00"/>
<line x1="273.70" y1="277.50" x2="273.70" y2="280.50" stroke="#333333" stroke-width="1.00"/>
<text x="273.70" y="289.10" font-size="7.90" text-anchor="middle" fill="#000" stroke="#000" stroke-width="0.12">0.2</text>
<line x1="185.50" y1="192.40" x2="188.50" y2="192.40" stroke="#333333" stroke-width="1.00"/>
<text x="194.00" y="173.80" font-size="9.60" text-anchor="start" fill="#000" stroke="#000" stroke-width="0.12">(iv)</text>
<text transform="translate(7.00,71.80) rotate(-90)" font-size="11.8" text-anchor="middle" fill="#000"><tspan font-style="italic">η</tspan><tspan font-size="8.2" dy="2.4">2</tspan></text>
<text transform="translate(6.30,220.80) rotate(-90)" font-size="11.8" text-anchor="middle" fill="#000"><tspan font-style="italic">η</tspan><tspan font-size="8.2" dy="2.4">2</tspan></text>
<text x="86.40" y="302.00" font-size="12.5" text-anchor="middle" fill="#000"><tspan font-style="italic">η</tspan><tspan font-size="8.5" dy="2.5">1</tspan></text>
<text x="243.50" y="302.00" font-size="12.5" text-anchor="middle" fill="#000"><tspan font-style="italic">η</tspan><tspan font-size="8.5" dy="2.5">1</tspan></text>
<defs><linearGradient id="cb2" x1="0" y1="1" x2="0" y2="0">
<stop offset="0.0000" stop-color="#440154"/>
<stop offset="0.0625" stop-color="#48186a"/>
<stop offset="0.1250" stop-color="#472d7b"/>
<stop offset="0.1875" stop-color="#424086"/>
<stop offset="0.2500" stop-color="#3b528b"/>
<stop offset="0.3125" stop-color="#33638d"/>
<stop offset="0.3750" stop-color="#2c728e"/>
<stop offset="0.4375" stop-color="#26828e"/>
<stop offset="0.5000" stop-color="#21918c"/>
<stop offset="0.5625" stop-color="#1fa088"/>
<stop offset="0.6250" stop-color="#28ae80"/>
<stop offset="0.6875" stop-color="#3fbc73"/>
<stop offset="0.7500" stop-color="#5ec962"/>
<stop offset="0.8125" stop-color="#84d44b"/>
<stop offset="0.8750" stop-color="#addc30"/>
<stop offset="0.9375" stop-color="#d8e219"/>
<stop offset="1.0000" stop-color="#fde725"/>
</linearGradient></defs>
<rect x="307.00" y="14.50" width="6.00" height="114.00" fill="url(#cb2)" stroke="#333333" stroke-width="1.00"/>
<line x1="313.00" y1="100.10" x2="315.50" y2="100.10" stroke="#333333" stroke-width="1.00"/>
<text x="318.20" y="102.95" font-size="8.60" text-anchor="start" fill="#000" textLength="13.00" lengthAdjust="spacingAndGlyphs" stroke="#000" stroke-width="0.12">100</text>
<line x1="313.00" y1="70.75" x2="315.50" y2="70.75" stroke="#333333" stroke-width="1.00"/>
<text x="318.20" y="73.60" font-size="8.60" text-anchor="start" fill="#000" textLength="13.00" lengthAdjust="spacingAndGlyphs" stroke="#000" stroke-width="0.12">200</text>
<line x1="313.00" y1="41.41" x2="315.50" y2="41.41" stroke="#333333" stroke-width="1.00"/>
<text x="318.20" y="44.26" font-size="8.60" text-anchor="start" fill="#000" textLength="13.00" lengthAdjust="spacingAndGlyphs" stroke="#000" stroke-width="0.12">300</text>
<defs><linearGradient id="cb3" x1="0" y1="1" x2="0" y2="0">
<stop offset="0.0000" stop-color="#440154"/>
<stop offset="0.0625" stop-color="#48186a"/>
<stop offset="0.1250" stop-color="#472d7b"/>
<stop offset="0.1875" stop-color="#424086"/>
<stop offset="0.2500" stop-color="#3b528b"/>
<stop offset="0.3125" stop-color="#33638d"/>
<stop offset="0.3750" stop-color="#2c728e"/>
<stop offset="0.4375" stop-color="#26828e"/>
<stop offset="0.5000" stop-color="#21918c"/>
<stop offset="0.5625" stop-color="#1fa088"/>
<stop offset="0.6250" stop-color="#28ae80"/>
<stop offset="0.6875" stop-color="#3fbc73"/>
<stop offset="0.7500" stop-color="#5ec962"/>
<stop offset="0.8125" stop-color="#84d44b"/>
<stop offset="0.8750" stop-color="#addc30"/>
<stop offset="0.9375" stop-color="#d8e219"/>
<stop offset="1.0000" stop-color="#fde725"/>
</linearGradient></defs>
<rect x="150.00" y="163.50" width="6.00" height="114.00" fill="url(#cb3)" stroke="#333333" stroke-width="1.00"/>
<line x1="156.00" y1="252.94" x2="158.50" y2="252.94" stroke="#333333" stroke-width="1.00"/>
<text x="161.20" y="255.79" font-size="8.60" text-anchor="start" fill="#000" textLength="8.70" lengthAdjust="spacingAndGlyphs" stroke="#000" stroke-width="0.12">50</text>
<line x1="156.00" y1="228.23" x2="158.50" y2="228.23" stroke="#333333" stroke-width="1.00"/>
<text x="161.20" y="231.08" font-size="8.60" text-anchor="start" fill="#000" textLength="13.00" lengthAdjust="spacingAndGlyphs" stroke="#000" stroke-width="0.12">100</text>
<line x1="156.00" y1="203.53" x2="158.50" y2="203.53" stroke="#333333" stroke-width="1.00"/>
<text x="161.20" y="206.38" font-size="8.60" text-anchor="start" fill="#000" textLength="13.00" lengthAdjust="spacingAndGlyphs" stroke="#000" stroke-width="0.12">150</text>
<line x1="156.00" y1="178.82" x2="158.50" y2="178.82" stroke="#333333" stroke-width="1.00"/>
<text x="161.20" y="181.67" font-size="8.60" text-anchor="start" fill="#000" textLength="13.00" lengthAdjust="spacingAndGlyphs" stroke="#000" stroke-width="0.12">200</text>
<defs><linearGradient id="cb4" x1="0" y1="1" x2="0" y2="0">
<stop offset="0.0000" stop-color="#440154"/>
<stop offset="0.0625" stop-color="#48186a"/>
<stop offset="0.1250" stop-color="#472d7b"/>
<stop offset="0.1875" stop-color="#424086"/>
<stop offset="0.2500" stop-color="#3b528b"/>
<stop offset="0.3125" stop-color="#33638d"/>
<stop offset="0.3750" stop-color="#2c728e"/>
<stop offset="0.4375" stop-color="#26828e"/>
<stop offset="0.5000" stop-color="#21918c"/>
<stop offset="0.5625" stop-color="#1fa088"/>
<stop offset="0.6250" stop-color="#28ae80"/>
<stop offset="0.6875" stop-color="#3fbc73"/>
<stop offset="0.7500" stop-color="#5ec962"/>
<stop offset="0.8125" stop-color="#84d44b"/>
<stop offset="0.8750" stop-color="#addc30"/>
<stop offset="0.9375" stop-color="#d8e219"/>
<stop offset="1.0000" stop-color="#fde725"/>
</linearGradient></defs>
<rect x="307.00" y="163.50" width="6.00" height="114.00" fill="url(#cb4)" stroke="#333333" stroke-width="1.00"/>
<line x1="313.00" y1="256.99" x2="315.50" y2="256.99" stroke="#333333" stroke-width="1.00"/>
<text x="318.20" y="259.84" font-size="8.60" text-anchor="start" fill="#000" textLength="4.60" lengthAdjust="spacingAndGlyphs" stroke="#000" stroke-width="0.12">5</text>
<line x1="313.00" y1="231.09" x2="315.50" y2="231.09" stroke="#333333" stroke-width="1.00"/>
<text x="318.20" y="233.94" font-size="8.60" text-anchor="start" fill="#000" textLength="8.70" lengthAdjust="spacingAndGlyphs" stroke="#000" stroke-width="0.12">10</text>
<line x1="313.00" y1="205.19" x2="315.50" y2="205.19" stroke="#333333" stroke-width="1.00"/>
<text x="318.20" y="208.04" font-size="8.60" text-anchor="start" fill="#000" textLength="8.70" lengthAdjust="spacingAndGlyphs" stroke="#000" stroke-width="0.12">15</text>
<line x1="313.00" y1="179.30" x2="315.50" y2="179.30" stroke="#333333" stroke-width="1.00"/>
<text x="318.20" y="182.15" font-size="8.60" text-anchor="start" fill="#000" textLength="8.70" lengthAdjust="spacingAndGlyphs" stroke="#000" stroke-width="0.12">20</text>
<rect x="457.30" y="14.70" width="24.10" height="76.40" fill="#d3d3d3"/>
<rect x="517.54" y="14.70" width="24.10" height="76.40" fill="#d3d3d3"/>
<defs><clipPath id="bclip0"><rect x="382.00" y="14.70" width="301.20" height="76.40"/></clipPath></defs>
<g clip-path="url(#bclip0)">
<polyline points="422.96,90.88 423.57,90.84 424.17,90.81 424.77,90.76 425.37,90.70 425.98,90.63 426.58,90.54 427.18,90.45 427.78,90.34 428.38,90.23 428.99,90.12 429.59,90.00 430.19,89.87 430.79,89.73 431.40,89.56 432.00,89.37 432.60,89.16 433.20,88.94 433.81,88.72 434.41,88.50 435.01,88.29 435.61,88.09 436.22,87.91 436.82,87.73 437.42,87.56 438.02,87.38 438.63,87.20 439.23,87.03 439.83,86.87 440.43,86.73 441.04,86.61 441.64,86.51 442.24,86.43 442.84,86.38 443.44,86.33 444.05,86.28 444.65,86.24 445.25,86.21 445.85,86.17 446.46,86.14 447.06,86.12 447.66,86.09 448.26,86.06 448.87,86.04 449.47,86.02 450.07,86.00 450.67,85.98 451.28,85.96 451.88,85.94 452.48,85.92 453.08,85.90 453.69,85.89 454.29,85.87 454.89,85.86 455.49,85.84 456.10,85.83 456.70,85.81 457.30,85.79 457.90,85.78 458.50,85.76 459.11,85.75 459.71,85.73 460.31,85.72 460.91,85.71 461.52,85.69 462.12,85.68 462.72,85.66 463.32,85.65 463.93,85.64 464.53,85.62 465.13,85.61 465.73,85.59 466.34,85.57 466.94,85.56 467.54,85.54 468.14,85.52 468.75,85.51 469.35,85.49 469.95,85.47 470.55,85.46 471.16,85.44 471.76,85.42 472.36,85.41 472.96,85.39 473.56,85.37 474.17,85.35 474.77,85.33 475.37,85.31 475.97,85.29 476.58,85.27 477.18,85.24 477.78,85.22 478.38,85.19 478.99,85.17 479.59,85.14 480.19,85.11 480.79,85.07 481.40,85.03 482.00,84.99 482.60,84.95 483.20,84.90 483.81,84.84 484.41,84.79 485.01,84.73 485.61,84.66 486.22,84.60 486.82,84.53 487.42,84.45 488.02,84.38 488.62,84.30 489.23,84.22 489.83,84.13 490.43,84.04 491.03,83.93 491.64,83.81 492.24,83.69 492.84,83.56 493.44,83.43 494.05,83.29 494.65,83.16 495.25,83.02 495.85,82.88 496.46,82.75 497.06,82.61 497.66,82.47 498.26,82.32 498.87,82.17 499.47,82.02 500.07,81.87 500.67,81.72 501.28,81.56 501.88,81.42 502.48,81.27 503.08,81.13 503.68,81.00 504.29,80.88 504.89,80.75 505.49,80.62 506.09,80.49 506.70,80.37 507.30,80.24 507.90,80.12 508.50,80.00 509.11,79.89 509.71,79.78 510.31,79.67 510.91,79.57 511.52,79.48 512.12,79.39 512.72,79.31 513.32,79.23 513.93,79.14 514.53,79.06 515.13,78.98 515.73,78.90 516.34,78.84 516.94,78.78 517.54,78.73 518.14,78.70 518.74,78.69 519.35,78.71 519.95,78.74 520.55,78.79 521.15,78.86 521.76,78.95 522.36,79.05 522.96,79.15 523.56,79.27 524.17,79.39 524.77,79.52 525.37,79.65 525.97,79.77 526.58,79.90 527.18,80.03 527.78,80.16 528.38,80.31 528.99,80.47 529.59,80.64 530.19,80.81 530.79,80.99 531.40,81.18 532.00,81.37 532.60,81.57 533.20,81.77 533.80,81.97 534.41,82.18 535.01,82.39 535.61,82.59 536.21,82.80 536.82,83.01 537.42,83.22 538.02,83.45 538.62,83.68 539.23,83.92 539.83,84.16 540.43,84.40 541.03,84.65 541.64,84.89 542.24,85.14 542.84,85.38 543.44,85.62 544.05,85.86 544.65,86.09 545.25,86.31 545.85,86.53 546.46,86.75 547.06,86.98 547.66,87.20 548.26,87.42 548.86,87.64 549.47,87.85 550.07,88.07 550.67,88.27 551.27,88.48 551.88,88.67 552.48,88.86 553.08,89.04 553.68,89.21 554.29,89.37 554.89,89.54 555.49,89.71 556.09,89.87 556.70,90.02 557.30,90.17 557.90,90.30 558.50,90.42 559.11,90.53 559.71,90.61 560.31,90.68 560.91,90.75 561.52,90.82 562.12,90.89 562.72,90.95" fill="none" stroke="#0000ff" stroke-width="2.00" stroke-dasharray="6.0 2.6" stroke-linejoin="round"/>
<polyline points="418.75,90.89 419.35,90.86 419.95,90.83 420.55,90.79 421.16,90.74 421.76,90.69 422.36,90.64 422.96,90.57 423.57,90.50 424.17,90.42 424.77,90.33 425.37,90.24 425.98,90.13 426.58,90.01 427.18,89.87 427.78,89.72 428.38,89.56 428.99,89.38 429.59,89.18 430.19,88.96 430.79,88.72 431.40,88.46 432.00,88.18 432.60,87.87 433.20,87.53 433.81,87.16 434.41,86.77 435.01,86.34 435.61,85.88 436.22,85.38 436.82,84.85 437.42,84.28 438.02,83.67 438.63,83.02 439.23,82.32 439.83,81.58 440.43,80.80 441.04,79.97 441.64,79.09 442.24,78.17 442.84,77.20 443.44,76.18 444.05,75.11 444.65,74.00 445.25,72.83 445.85,71.62 446.46,70.37 447.06,69.07 447.66,67.72 448.26,66.34 448.87,64.92 449.47,63.46 450.07,61.97 450.67,60.46 451.28,58.91 451.88,57.35 452.48,55.76 453.08,54.17 453.69,52.57 454.29,50.96 454.89,49.36 455.49,47.76 456.10,46.18 456.70,44.62 457.30,43.09 457.90,41.59 458.50,40.12 459.11,38.70 459.71,37.33 460.31,36.02 460.91,34.76 461.52,33.58 462.12,32.46 462.72,31.43 463.32,30.48 463.93,29.61 464.53,28.84 465.13,28.16 465.73,27.58 466.34,27.10 466.94,26.73 467.54,26.46 468.14,26.30 468.75,26.25 469.35,26.31 469.95,26.52 470.55,26.86 471.16,27.34 471.76,27.94 472.36,28.68 472.96,29.53 473.56,30.51 474.17,31.59 474.77,32.78 475.37,34.07 475.97,35.44 476.58,36.90 477.18,38.43 477.78,40.03 478.38,41.68 478.99,43.38 479.59,45.12 480.19,46.90 480.79,48.69 481.40,50.50 482.00,52.31 482.60,54.12 483.20,55.92 483.81,57.70 484.41,59.46 485.01,61.19 485.61,62.89 486.22,64.55 486.82,66.16 487.42,67.72 488.02,69.24 488.62,70.69 489.23,72.10 489.83,73.44 490.43,74.72 491.03,75.94 491.64,77.10 492.24,78.20 492.84,79.24 493.44,80.22 494.05,81.13 494.65,81.99 495.25,82.80 495.85,83.55 496.46,84.24 497.06,84.89 497.66,85.48 498.26,86.03 498.87,86.54 499.47,87.00 500.07,87.43 500.67,87.81 501.28,88.17 501.88,88.49 502.48,88.78 503.08,89.04 503.68,89.28 504.29,89.49 504.89,89.68 505.49,89.85 506.09,90.01 506.70,90.14 507.30,90.26 507.90,90.37 508.50,90.46 509.11,90.55 509.71,90.62 510.31,90.69 510.91,90.74 511.52,90.79 512.12,90.84 512.72,90.87 513.32,90.91" fill="none" stroke="#0000ff" stroke-width="2.00" stroke-dasharray="6.0 2.6" stroke-linejoin="round"/>
<polyline points="382.00,89.99 382.60,89.98 383.20,89.97 383.81,89.96 384.41,89.95 385.01,89.94 385.61,89.93 386.22,89.92 386.82,89.90 387.42,89.89 388.02,89.88 388.63,89.87 389.23,89.86 389.83,89.84 390.43,89.83 391.04,89.82 391.64,89.81 392.24,89.79 392.84,89.78 393.45,89.77 394.05,89.76 394.65,89.74 395.25,89.73 395.86,89.72 396.46,89.71 397.06,89.69 397.66,89.68 398.26,89.67 398.87,89.65 399.47,89.64 400.07,89.62 400.67,89.61 401.28,89.59 401.88,89.58 402.48,89.56 403.08,89.54 403.69,89.52 404.29,89.50 404.89,89.48 405.49,89.46 406.10,89.44 406.70,89.42 407.30,89.40 407.90,89.38 408.51,89.36 409.11,89.34 409.71,89.32 410.31,89.30 410.92,89.28 411.52,89.26 412.12,89.24 412.72,89.23 413.32,89.21 413.93,89.20 414.53,89.18 415.13,89.17 415.73,89.16 416.34,89.14 416.94,89.13 417.54,89.11 418.14,89.09 418.75,89.06 419.35,89.02 419.95,88.98 420.55,88.93 421.16,88.88 421.76,88.81 422.36,88.74 422.96,88.66 423.57,88.58 424.17,88.48 424.77,88.37 425.37,88.23 425.98,88.08 426.58,87.90 427.18,87.69 427.78,87.48 428.38,87.25 428.99,87.01 429.59,86.75 430.19,86.48 430.79,86.18 431.40,85.82 432.00,85.43 432.60,84.99 433.20,84.52 433.81,84.01 434.41,83.46 435.01,82.89 435.61,82.28 436.22,81.65 436.82,80.98 437.42,80.28 438.02,79.52 438.63,78.74 439.23,77.91 439.83,77.05 440.43,76.16 441.04,75.24 441.64,74.30 442.24,73.33 442.84,72.33 443.44,71.29 444.05,70.20 444.65,69.07 445.25,67.89 445.85,66.66 446.46,65.39 447.06,64.07 447.66,62.71 448.26,61.30 448.87,59.86 449.47,58.38 450.07,56.87 450.67,55.33 451.28,53.77 451.88,52.19 452.48,50.59 453.08,48.97 453.69,47.35 454.29,45.73 454.89,44.12 455.49,42.51 456.10,40.91 456.70,39.33 457.30,37.78 457.90,36.26 458.50,34.78 459.11,33.35 459.71,31.96 460.31,30.63 460.91,29.37 461.52,28.17 462.12,27.04 462.72,25.99 463.32,25.03 463.93,24.15 464.53,23.36 465.13,22.67 465.73,22.07 466.34,21.58 466.94,21.19 467.54,20.90 468.14,20.72 468.75,20.65 469.35,20.71 469.95,20.90 470.55,21.22 471.16,21.68 471.76,22.27 472.36,22.99 472.96,23.82 473.56,24.78 474.17,25.84 474.77,27.01 475.37,28.28 475.97,29.63 476.58,31.07 477.18,32.58 477.78,34.15 478.38,35.77 478.99,37.45 479.59,39.16 480.19,40.90 480.79,42.66 481.40,44.43 482.00,46.20 482.60,47.96 483.20,49.71 483.81,51.45 484.41,53.15 485.01,54.82 485.61,56.45 486.22,58.04 486.82,59.59 487.42,61.08 488.02,62.51 488.62,63.90 489.23,65.22 489.83,66.47 490.43,67.66 491.03,68.77 491.64,69.82 492.24,70.79 492.84,71.70 493.44,72.55 494.05,73.33 494.65,74.05 495.25,74.72 495.85,75.33 496.46,75.89 497.06,76.40 497.66,76.85 498.26,77.26 498.87,77.61 499.47,77.92 500.07,78.19 500.67,78.43 501.28,78.63 501.88,78.80 502.48,78.95 503.08,79.08 503.68,79.18 504.29,79.27 504.89,79.33 505.49,79.37 506.09,79.40 506.70,79.41 507.30,79.41 507.90,79.39 508.50,79.37 509.11,79.34 509.71,79.30 510.31,79.26 510.91,79.22 511.52,79.17 512.12,79.13 512.72,79.08 513.32,79.03 513.93,78.98 514.53,78.92 515.13,78.86 515.73,78.80 516.34,78.75 516.94,78.71 517.54,78.67 518.14,78.65 518.74,78.65 519.35,78.67 519.95,78.71 520.55,78.77 521.15,78.84 521.76,78.93 522.36,79.03 522.96,79.14 523.56,79.26 524.17,79.39 524.77,79.51 525.37,79.64 525.97,79.77 526.58,79.89 527.18,80.02 527.78,80.16 528.38,80.31 528.99,80.47 529.59,80.64 530.19,80.81 530.79,80.99 531.40,81.18 532.00,81.37 532.60,81.57 533.20,81.77 533.80,81.97 534.41,82.18 535.01,82.39 535.61,82.59 536.21,82.80 536.82,83.01 537.42,83.22 538.02,83.45 538.62,83.68 539.23,83.92 539.83,84.16 540.43,84.40 541.03,84.65 541.64,84.89 542.24,85.14 542.84,85.38 543.44,85.62 544.05,85.86 544.65,86.09 545.25,86.31 545.85,86.53 546.46,86.75 547.06,86.98 547.66,87.20 548.26,87.42 548.86,87.64 549.47,87.85 550.07,88.07 550.67,88.27 551.27,88.48 551.88,88.67 552.48,88.86 553.08,89.04 553.68,89.21 554.29,89.37 554.89,89.54 555.49,89.71 556.09,89.87 556.70,90.02 557.30,90.17 557.90,90.30 558.50,90.42 559.11,90.53 559.71,90.61 560.31,90.68 560.91,90.75 561.52,90.82 562.12,90.89 562.72,90.95 563.32,91.00 563.92,91.04 564.53,91.07 565.13,91.09 565.73,91.10 566.33,91.10 566.94,91.10 567.54,91.10 568.14,91.10 568.74,91.10 569.35,91.10 569.95,91.10 570.55,91.10 571.15,91.10 571.76,91.10 572.36,91.10 572.96,91.10 573.56,91.10 574.17,91.10 574.77,91.10 575.37,91.10 575.97,91.10 576.58,91.10 577.18,91.10 577.78,91.10 578.38,91.10 578.98,91.10 579.59,91.10 580.19,91.10 580.79,91.10 581.39,91.10 582.00,91.10 582.60,91.10 583.20,91.10 583.80,91.10 584.41,91.10 585.01,91.10 585.61,91.10 586.21,91.10 586.82,91.10 587.42,91.10 588.02,91.10 588.62,91.10 589.23,91.10 589.83,91.10 590.43,91.10 591.03,91.10 591.64,91.10 592.24,91.10 592.84,91.10 593.44,91.10 594.04,91.10 594.65,91.10 595.25,91.10 595.85,91.10 596.45,91.10 597.06,91.10 597.66,91.10 598.26,91.10 598.86,91.10 599.47,91.10 600.07,91.10 600.67,91.10 601.27,91.10 601.88,91.10 602.48,91.10 603.08,91.10 603.68,91.10 604.29,91.10 604.89,91.10 605.49,91.10 606.09,91.10 606.70,91.10 607.30,91.10 607.90,91.10 608.50,91.10 609.10,91.10 609.71,91.10 610.31,91.10 610.91,91.10 611.51,91.10 612.12,91.10 612.72,91.10 613.32,91.10 613.92,91.10 614.53,91.10 615.13,91.10 615.73,91.10 616.33,91.10 616.94,91.10 617.54,91.10 618.14,91.10 618.74,91.10 619.35,91.10 619.95,91.10 620.55,91.10 621.15,91.10 621.76,91.10 622.36,91.10 622.96,91.10 623.56,91.10 624.16,91.10 624.77,91.10 625.37,91.10 625.97,91.10 626.57,91.10 627.18,91.10 627.78,91.10 628.38,91.10 628.98,91.10 629.59,91.10 630.19,91.10 630.79,91.10 631.39,91.10 632.00,91.10 632.60,91.10 633.20,91.10 633.80,91.10 634.41,91.10 635.01,91.10 635.61,91.10 636.21,91.10 636.82,91.10 637.42,91.10 638.02,91.10 638.62,91.10 639.22,91.10 639.83,91.10 640.43,91.10 641.03,91.10 641.63,91.10 642.24,91.10 642.84,91.10 643.44,91.10 644.04,91.10 644.65,91.10 645.25,91.10 645.85,91.10 646.45,91.10 647.06,91.10 647.66,91.10 648.26,91.10 648.86,91.10 649.47,91.10 650.07,91.10 650.67,91.10 651.27,91.10 651.88,91.10 652.48,91.10 653.08,91.10 653.68,91.10 654.28,91.10 654.89,91.10 655.49,91.10 656.09,91.10 656.69,91.10 657.30,91.10 657.90,91.10 658.50,91.10 659.10,91.10 659.71,91.10 660.31,91.10 660.91,91.10 661.51,91.10 662.12,91.10 662.72,91.10 663.32,91.10 663.92,91.10 664.53,91.10 665.13,91.10 665.73,91.10 666.33,91.10 666.94,91.10 667.54,91.10 668.14,91.10 668.74,91.10 669.34,91.10 669.95,91.10 670.55,91.10 671.15,91.10 671.75,91.10 672.36,91.10 672.96,91.10 673.56,91.10 674.16,91.10 674.77,91.10 675.37,91.10 675.97,91.10 676.57,91.10 677.18,91.10 677.78,91.10 678.38,91.10 678.98,91.10 679.59,91.10 680.19,91.10 680.79,91.10 681.39,91.10 682.00,91.10 682.60,91.10 683.20,91.10" fill="none" stroke="#808080" stroke-width="1.90" stroke-linejoin="round"/>
<rect x="382.06" y="88.00" width="2.90" height="2.90" fill="#000"/>
<rect x="385.07" y="87.63" width="2.90" height="2.90" fill="#000"/>
<rect x="388.08" y="87.55" width="2.90" height="2.90" fill="#000"/>
<rect x="391.09" y="87.81" width="2.90" height="2.90" fill="#000"/>
<rect x="394.10" y="87.66" width="2.90" height="2.90" fill="#000"/>
<rect x="397.12" y="87.61" width="2.90" height="2.90" fill="#000"/>
<rect x="400.13" y="87.25" width="2.90" height="2.90" fill="#000"/>
<rect x="403.14" y="87.25" width="2.90" height="2.90" fill="#000"/>
<rect x="406.15" y="86.89" width="2.90" height="2.90" fill="#000"/>
<rect x="409.16" y="87.39" width="2.90" height="2.90" fill="#000"/>
<rect x="412.18" y="86.39" width="2.90" height="2.90" fill="#000"/>
<rect x="415.19" y="86.73" width="2.90" height="2.90" fill="#000"/>
<rect x="418.20" y="86.39" width="2.90" height="2.90" fill="#000"/>
<rect x="421.21" y="86.36" width="2.90" height="2.90" fill="#000"/>
<rect x="424.22" y="85.98" width="2.90" height="2.90" fill="#000"/>
<rect x="427.24" y="84.77" width="2.90" height="2.90" fill="#000"/>
<rect x="430.25" y="83.24" width="2.90" height="2.90" fill="#000"/>
<rect x="433.26" y="81.50" width="2.90" height="2.90" fill="#000"/>
<line x1="437.72" y1="80.79" x2="437.72" y2="79.76" stroke="#000" stroke-width="1.00"/>
<line x1="436.12" y1="80.79" x2="439.32" y2="80.79" stroke="#000" stroke-width="1.00"/>
<line x1="436.12" y1="79.76" x2="439.32" y2="79.76" stroke="#000" stroke-width="1.00"/>
<rect x="436.27" y="78.83" width="2.90" height="2.90" fill="#000"/>
<line x1="440.73" y1="76.88" x2="440.73" y2="75.67" stroke="#000" stroke-width="1.00"/>
<line x1="439.13" y1="76.88" x2="442.33" y2="76.88" stroke="#000" stroke-width="1.00"/>
<line x1="439.13" y1="75.67" x2="442.33" y2="75.67" stroke="#000" stroke-width="1.00"/>
<rect x="439.28" y="74.83" width="2.90" height="2.90" fill="#000"/>
<line x1="443.75" y1="74.07" x2="443.75" y2="72.75" stroke="#000" stroke-width="1.00"/>
<line x1="442.15" y1="74.07" x2="445.35" y2="74.07" stroke="#000" stroke-width="1.00"/>
<line x1="442.15" y1="72.75" x2="445.35" y2="72.75" stroke="#000" stroke-width="1.00"/>
<rect x="442.30" y="71.96" width="2.90" height="2.90" fill="#000"/>
<line x1="446.76" y1="69.82" x2="446.76" y2="68.35" stroke="#000" stroke-width="1.00"/>
<line x1="445.16" y1="69.82" x2="448.36" y2="69.82" stroke="#000" stroke-width="1.00"/>
<line x1="445.16" y1="68.35" x2="448.36" y2="68.35" stroke="#000" stroke-width="1.00"/>
<rect x="445.31" y="67.64" width="2.90" height="2.90" fill="#000"/>
<line x1="449.77" y1="61.44" x2="449.77" y2="59.71" stroke="#000" stroke-width="1.00"/>
<line x1="448.17" y1="61.44" x2="451.37" y2="61.44" stroke="#000" stroke-width="1.00"/>
<line x1="448.17" y1="59.71" x2="451.37" y2="59.71" stroke="#000" stroke-width="1.00"/>
<rect x="448.32" y="59.13" width="2.90" height="2.90" fill="#000"/>
<line x1="452.78" y1="55.19" x2="452.78" y2="53.28" stroke="#000" stroke-width="1.00"/>
<line x1="451.18" y1="55.19" x2="454.38" y2="55.19" stroke="#000" stroke-width="1.00"/>
<line x1="451.18" y1="53.28" x2="454.38" y2="53.28" stroke="#000" stroke-width="1.00"/>
<rect x="451.33" y="52.79" width="2.90" height="2.90" fill="#000"/>
<line x1="455.79" y1="48.68" x2="455.79" y2="46.61" stroke="#000" stroke-width="1.00"/>
<line x1="454.19" y1="48.68" x2="457.39" y2="48.68" stroke="#000" stroke-width="1.00"/>
<line x1="454.19" y1="46.61" x2="457.39" y2="46.61" stroke="#000" stroke-width="1.00"/>
<rect x="454.34" y="46.19" width="2.90" height="2.90" fill="#000"/>
<line x1="458.81" y1="38.06" x2="458.81" y2="35.75" stroke="#000" stroke-width="1.00"/>
<line x1="457.21" y1="38.06" x2="460.41" y2="38.06" stroke="#000" stroke-width="1.00"/>
<line x1="457.21" y1="35.75" x2="460.41" y2="35.75" stroke="#000" stroke-width="1.00"/>
<rect x="457.36" y="35.45" width="2.90" height="2.90" fill="#000"/>
<line x1="461.82" y1="27.59" x2="461.82" y2="25.07" stroke="#000" stroke-width="1.00"/>
<line x1="460.22" y1="27.59" x2="463.42" y2="27.59" stroke="#000" stroke-width="1.00"/>
<line x1="460.22" y1="25.07" x2="463.42" y2="25.07" stroke="#000" stroke-width="1.00"/>
<rect x="460.37" y="24.88" width="2.90" height="2.90" fill="#000"/>
<line x1="464.83" y1="26.62" x2="464.83" y2="24.07" stroke="#000" stroke-width="1.00"/>
<line x1="463.23" y1="26.62" x2="466.43" y2="26.62" stroke="#000" stroke-width="1.00"/>
<line x1="463.23" y1="24.07" x2="466.43" y2="24.07" stroke="#000" stroke-width="1.00"/>
<rect x="463.38" y="23.89" width="2.90" height="2.90" fill="#000"/>
<line x1="467.84" y1="22.98" x2="467.84" y2="20.37" stroke="#000" stroke-width="1.00"/>
<line x1="466.24" y1="22.98" x2="469.44" y2="22.98" stroke="#000" stroke-width="1.00"/>
<line x1="466.24" y1="20.37" x2="469.44" y2="20.37" stroke="#000" stroke-width="1.00"/>
<rect x="466.39" y="20.23" width="2.90" height="2.90" fill="#000"/>
<line x1="470.85" y1="28.77" x2="470.85" y2="26.27" stroke="#000" stroke-width="1.00"/>
<line x1="469.25" y1="28.77" x2="472.45" y2="28.77" stroke="#000" stroke-width="1.00"/>
<line x1="469.25" y1="26.27" x2="472.45" y2="26.27" stroke="#000" stroke-width="1.00"/>
<rect x="469.40" y="26.07" width="2.90" height="2.90" fill="#000"/>
<line x1="473.87" y1="31.66" x2="473.87" y2="29.22" stroke="#000" stroke-width="1.00"/>
<line x1="472.27" y1="31.66" x2="475.47" y2="31.66" stroke="#000" stroke-width="1.00"/>
<line x1="472.27" y1="29.22" x2="475.47" y2="29.22" stroke="#000" stroke-width="1.00"/>
<rect x="472.42" y="28.99" width="2.90" height="2.90" fill="#000"/>
<line x1="476.88" y1="39.92" x2="476.88" y2="37.65" stroke="#000" stroke-width="1.00"/>
<line x1="475.28" y1="39.92" x2="478.48" y2="39.92" stroke="#000" stroke-width="1.00"/>
<line x1="475.28" y1="37.65" x2="478.48" y2="37.65" stroke="#000" stroke-width="1.00"/>
<rect x="475.43" y="37.33" width="2.90" height="2.90" fill="#000"/>
<line x1="479.89" y1="48.21" x2="479.89" y2="46.13" stroke="#000" stroke-width="1.00"/>
<line x1="478.29" y1="48.21" x2="481.49" y2="48.21" stroke="#000" stroke-width="1.00"/>
<line x1="478.29" y1="46.13" x2="481.49" y2="46.13" stroke="#000" stroke-width="1.00"/>
<rect x="478.44" y="45.72" width="2.90" height="2.90" fill="#000"/>
<line x1="482.90" y1="54.00" x2="482.90" y2="52.07" stroke="#000" stroke-width="1.00"/>
<line x1="481.30" y1="54.00" x2="484.50" y2="54.00" stroke="#000" stroke-width="1.00"/>
<line x1="481.30" y1="52.07" x2="484.50" y2="52.07" stroke="#000" stroke-width="1.00"/>
<rect x="481.45" y="51.59" width="2.90" height="2.90" fill="#000"/>
<line x1="485.91" y1="59.89" x2="485.91" y2="58.11" stroke="#000" stroke-width="1.00"/>
<line x1="484.31" y1="59.89" x2="487.51" y2="59.89" stroke="#000" stroke-width="1.00"/>
<line x1="484.31" y1="58.11" x2="487.51" y2="58.11" stroke="#000" stroke-width="1.00"/>
<rect x="484.46" y="57.55" width="2.90" height="2.90" fill="#000"/>
<line x1="488.93" y1="65.81" x2="488.93" y2="64.21" stroke="#000" stroke-width="1.00"/>
<line x1="487.33" y1="65.81" x2="490.53" y2="65.81" stroke="#000" stroke-width="1.00"/>
<line x1="487.33" y1="64.21" x2="490.53" y2="64.21" stroke="#000" stroke-width="1.00"/>
<rect x="487.48" y="63.56" width="2.90" height="2.90" fill="#000"/>
<line x1="491.94" y1="69.59" x2="491.94" y2="68.11" stroke="#000" stroke-width="1.00"/>
<line x1="490.34" y1="69.59" x2="493.54" y2="69.59" stroke="#000" stroke-width="1.00"/>
<line x1="490.34" y1="68.11" x2="493.54" y2="68.11" stroke="#000" stroke-width="1.00"/>
<rect x="490.49" y="67.40" width="2.90" height="2.90" fill="#000"/>
<line x1="494.95" y1="72.24" x2="494.95" y2="70.86" stroke="#000" stroke-width="1.00"/>
<line x1="493.35" y1="72.24" x2="496.55" y2="72.24" stroke="#000" stroke-width="1.00"/>
<line x1="493.35" y1="70.86" x2="496.55" y2="70.86" stroke="#000" stroke-width="1.00"/>
<rect x="493.50" y="70.10" width="2.90" height="2.90" fill="#000"/>
<line x1="497.96" y1="75.19" x2="497.96" y2="73.92" stroke="#000" stroke-width="1.00"/>
<line x1="496.36" y1="75.19" x2="499.56" y2="75.19" stroke="#000" stroke-width="1.00"/>
<line x1="496.36" y1="73.92" x2="499.56" y2="73.92" stroke="#000" stroke-width="1.00"/>
<rect x="496.51" y="73.10" width="2.90" height="2.90" fill="#000"/>
<line x1="500.97" y1="76.77" x2="500.97" y2="75.56" stroke="#000" stroke-width="1.00"/>
<line x1="499.37" y1="76.77" x2="502.57" y2="76.77" stroke="#000" stroke-width="1.00"/>
<line x1="499.37" y1="75.56" x2="502.57" y2="75.56" stroke="#000" stroke-width="1.00"/>
<rect x="499.52" y="74.72" width="2.90" height="2.90" fill="#000"/>
<line x1="503.99" y1="76.71" x2="503.99" y2="75.50" stroke="#000" stroke-width="1.00"/>
<line x1="502.39" y1="76.71" x2="505.59" y2="76.71" stroke="#000" stroke-width="1.00"/>
<line x1="502.39" y1="75.50" x2="505.59" y2="75.50" stroke="#000" stroke-width="1.00"/>
<rect x="502.54" y="74.65" width="2.90" height="2.90" fill="#000"/>
<line x1="507.00" y1="77.27" x2="507.00" y2="76.07" stroke="#000" stroke-width="1.00"/>
<line x1="505.40" y1="77.27" x2="508.60" y2="77.27" stroke="#000" stroke-width="1.00"/>
<line x1="505.40" y1="76.07" x2="508.60" y2="76.07" stroke="#000" stroke-width="1.00"/>
<rect x="505.55" y="75.22" width="2.90" height="2.90" fill="#000"/>
<line x1="510.01" y1="77.00" x2="510.01" y2="75.80" stroke="#000" stroke-width="1.00"/>
<line x1="508.41" y1="77.00" x2="511.61" y2="77.00" stroke="#000" stroke-width="1.00"/>
<line x1="508.41" y1="75.80" x2="511.61" y2="75.80" stroke="#000" stroke-width="1.00"/>
<rect x="508.56" y="74.95" width="2.90" height="2.90" fill="#000"/>
<line x1="513.02" y1="78.76" x2="513.02" y2="77.64" stroke="#000" stroke-width="1.00"/>
<line x1="511.42" y1="78.76" x2="514.62" y2="78.76" stroke="#000" stroke-width="1.00"/>
<line x1="511.42" y1="77.64" x2="514.62" y2="77.64" stroke="#000" stroke-width="1.00"/>
<rect x="511.57" y="76.75" width="2.90" height="2.90" fill="#000"/>
<line x1="516.03" y1="78.63" x2="516.03" y2="77.50" stroke="#000" stroke-width="1.00"/>
<line x1="514.43" y1="78.63" x2="517.63" y2="78.63" stroke="#000" stroke-width="1.00"/>
<line x1="514.43" y1="77.50" x2="517.63" y2="77.50" stroke="#000" stroke-width="1.00"/>
<rect x="514.58" y="76.62" width="2.90" height="2.90" fill="#000"/>
<line x1="519.05" y1="79.19" x2="519.05" y2="78.08" stroke="#000" stroke-width="1.00"/>
<line x1="517.45" y1="79.19" x2="520.65" y2="79.19" stroke="#000" stroke-width="1.00"/>
<line x1="517.45" y1="78.08" x2="520.65" y2="78.08" stroke="#000" stroke-width="1.00"/>
<rect x="517.60" y="77.18" width="2.90" height="2.90" fill="#000"/>
<line x1="522.06" y1="80.65" x2="522.06" y2="79.61" stroke="#000" stroke-width="1.00"/>
<line x1="520.46" y1="80.65" x2="523.66" y2="80.65" stroke="#000" stroke-width="1.00"/>
<line x1="520.46" y1="79.61" x2="523.66" y2="79.61" stroke="#000" stroke-width="1.00"/>
<rect x="520.61" y="78.68" width="2.90" height="2.90" fill="#000"/>
<line x1="525.07" y1="80.56" x2="525.07" y2="79.51" stroke="#000" stroke-width="1.00"/>
<line x1="523.47" y1="80.56" x2="526.67" y2="80.56" stroke="#000" stroke-width="1.00"/>
<line x1="523.47" y1="79.51" x2="526.67" y2="79.51" stroke="#000" stroke-width="1.00"/>
<rect x="523.62" y="78.58" width="2.90" height="2.90" fill="#000"/>
<rect x="526.63" y="79.49" width="2.90" height="2.90" fill="#000"/>
<rect x="529.64" y="81.49" width="2.90" height="2.90" fill="#000"/>
<rect x="532.66" y="81.26" width="2.90" height="2.90" fill="#000"/>
<rect x="535.67" y="82.32" width="2.90" height="2.90" fill="#000"/>
<rect x="538.68" y="83.30" width="2.90" height="2.90" fill="#000"/>
<rect x="541.69" y="84.57" width="2.90" height="2.90" fill="#000"/>
<rect x="544.70" y="85.47" width="2.90" height="2.90" fill="#000"/>
<rect x="547.72" y="87.33" width="2.90" height="2.90" fill="#000"/>
<rect x="550.73" y="87.38" width="2.90" height="2.90" fill="#000"/>
<rect x="553.74" y="87.85" width="2.90" height="2.90" fill="#000"/>
<rect x="556.75" y="88.66" width="2.90" height="2.90" fill="#000"/>
<rect x="559.76" y="88.44" width="2.90" height="2.90" fill="#000"/>
<rect x="562.78" y="88.66" width="2.90" height="2.90" fill="#000"/>
<rect x="565.79" y="88.59" width="2.90" height="2.90" fill="#000"/>
<rect x="568.80" y="88.63" width="2.90" height="2.90" fill="#000"/>
<rect x="571.81" y="88.57" width="2.90" height="2.90" fill="#000"/>
<rect x="574.82" y="88.53" width="2.90" height="2.90" fill="#000"/>
<rect x="577.84" y="88.60" width="2.90" height="2.90" fill="#000"/>
<rect x="580.85" y="88.51" width="2.90" height="2.90" fill="#000"/>
<rect x="583.86" y="88.55" width="2.90" height="2.90" fill="#000"/>
<rect x="586.87" y="88.52" width="2.90" height="2.90" fill="#000"/>
<rect x="589.88" y="88.58" width="2.90" height="2.90" fill="#000"/>
<rect x="592.90" y="88.48" width="2.90" height="2.90" fill="#000"/>
<rect x="595.91" y="88.51" width="2.90" height="2.90" fill="#000"/>
<rect x="598.92" y="88.56" width="2.90" height="2.90" fill="#000"/>
<rect x="601.93" y="88.51" width="2.90" height="2.90" fill="#000"/>
<rect x="604.94" y="88.47" width="2.90" height="2.90" fill="#000"/>
<rect x="607.96" y="88.44" width="2.90" height="2.90" fill="#000"/>
<rect x="610.97" y="88.64" width="2.90" height="2.90" fill="#000"/>
<rect x="613.98" y="88.49" width="2.90" height="2.90" fill="#000"/>
<rect x="616.99" y="88.52" width="2.90" height="2.90" fill="#000"/>
<rect x="620.00" y="88.55" width="2.90" height="2.90" fill="#000"/>
<rect x="623.02" y="88.60" width="2.90" height="2.90" fill="#000"/>
<rect x="626.03" y="88.47" width="2.90" height="2.90" fill="#000"/>
<rect x="629.04" y="88.62" width="2.90" height="2.90" fill="#000"/>
<rect x="632.05" y="88.51" width="2.90" height="2.90" fill="#000"/>
<rect x="635.06" y="88.47" width="2.90" height="2.90" fill="#000"/>
<rect x="638.08" y="88.64" width="2.90" height="2.90" fill="#000"/>
<rect x="641.09" y="88.56" width="2.90" height="2.90" fill="#000"/>
<rect x="644.10" y="88.62" width="2.90" height="2.90" fill="#000"/>
<rect x="647.11" y="88.53" width="2.90" height="2.90" fill="#000"/>
<rect x="650.12" y="88.46" width="2.90" height="2.90" fill="#000"/>
<rect x="653.14" y="88.43" width="2.90" height="2.90" fill="#000"/>
<rect x="656.15" y="88.65" width="2.90" height="2.90" fill="#000"/>
<rect x="659.16" y="88.58" width="2.90" height="2.90" fill="#000"/>
<rect x="662.17" y="88.50" width="2.90" height="2.90" fill="#000"/>
<rect x="665.18" y="88.45" width="2.90" height="2.90" fill="#000"/>
<rect x="668.20" y="88.52" width="2.90" height="2.90" fill="#000"/>
<rect x="671.21" y="88.59" width="2.90" height="2.90" fill="#000"/>
<rect x="674.22" y="88.53" width="2.90" height="2.90" fill="#000"/>
<rect x="677.23" y="88.55" width="2.90" height="2.90" fill="#000"/>
<rect x="680.24" y="88.56" width="2.90" height="2.90" fill="#000"/>
</g>
<rect x="382.00" y="14.70" width="301.20" height="76.40" fill="none" stroke="#333333" stroke-width="1.00"/>
<line x1="382.00" y1="91.10" x2="382.00" y2="94.50" stroke="#333333" stroke-width="0.90"/>
<line x1="394.05" y1="91.10" x2="394.05" y2="93.10" stroke="#333333" stroke-width="0.75"/>
<line x1="406.10" y1="91.10" x2="406.10" y2="93.10" stroke="#333333" stroke-width="0.75"/>
<line x1="418.14" y1="91.10" x2="418.14" y2="93.10" stroke="#333333" stroke-width="0.75"/>
<line x1="430.19" y1="91.10" x2="430.19" y2="93.10" stroke="#333333" stroke-width="0.75"/>
<line x1="442.24" y1="91.10" x2="442.24" y2="94.50" stroke="#333333" stroke-width="0.90"/>
<line x1="454.29" y1="91.10" x2="454.29" y2="93.10" stroke="#333333" stroke-width="0.75"/>
<line x1="466.34" y1="91.10" x2="466.34" y2="93.10" stroke="#333333" stroke-width="0.75"/>
<line x1="478.38" y1="91.10" x2="478.38" y2="93.10" stroke="#333333" stroke-width="0.75"/>
<line x1="490.43" y1="91.10" x2="490.43" y2="93.10" stroke="#333333" stroke-width="0.75"/>
<line x1="502.48" y1="91.10" x2="502.48" y2="94.50" stroke="#333333" stroke-width="0.90"/>
<line x1="514.53" y1="91.10" x2="514.53" y2="93.10" stroke="#333333" stroke-width="0.75"/>
<line x1="526.58" y1="91.10" x2="526.58" y2="93.10" stroke="#333333" stroke-width="0.75"/>
<line x1="538.62" y1="91.10" x2="538.62" y2="93.10" stroke="#333333" stroke-width="0.75"/>
<line x1="550.67" y1="91.10" x2="550.67" y2="93.10" stroke="#333333" stroke-width="0.75"/>
<line x1="562.72" y1="91.10" x2="562.72" y2="94.50" stroke="#333333" stroke-width="0.90"/>
<line x1="574.77" y1="91.10" x2="574.77" y2="93.10" stroke="#333333" stroke-width="0.75"/>
<line x1="586.82" y1="91.10" x2="586.82" y2="93.10" stroke="#333333" stroke-width="0.75"/>
<line x1="598.86" y1="91.10" x2="598.86" y2="93.10" stroke="#333333" stroke-width="0.75"/>
<line x1="610.91" y1="91.10" x2="610.91" y2="93.10" stroke="#333333" stroke-width="0.75"/>
<line x1="622.96" y1="91.10" x2="622.96" y2="94.50" stroke="#333333" stroke-width="0.90"/>
<line x1="635.01" y1="91.10" x2="635.01" y2="93.10" stroke="#333333" stroke-width="0.75"/>
<line x1="647.06" y1="91.10" x2="647.06" y2="93.10" stroke="#333333" stroke-width="0.75"/>
<line x1="659.10" y1="91.10" x2="659.10" y2="93.10" stroke="#333333" stroke-width="0.75"/>
<line x1="671.15" y1="91.10" x2="671.15" y2="93.10" stroke="#333333" stroke-width="0.75"/>
<line x1="683.20" y1="91.10" x2="683.20" y2="94.50" stroke="#333333" stroke-width="0.90"/>
<line x1="378.60" y1="91.10" x2="382.00" y2="91.10" stroke="#333333" stroke-width="1.00"/>
<text x="375.70" y="94.25" font-size="8.80" text-anchor="end" fill="#000" stroke="#000" stroke-width="0.12">0</text>
<line x1="378.60" y1="66.53" x2="382.00" y2="66.53" stroke="#333333" stroke-width="1.00"/>
<text x="375.70" y="69.68" font-size="8.80" text-anchor="end" fill="#000" stroke="#000" stroke-width="0.12">1000</text>
<line x1="378.60" y1="41.97" x2="382.00" y2="41.97" stroke="#333333" stroke-width="1.00"/>
<text x="375.70" y="45.12" font-size="8.80" text-anchor="end" fill="#000" stroke="#000" stroke-width="0.12">2000</text>
<line x1="378.60" y1="17.40" x2="382.00" y2="17.40" stroke="#333333" stroke-width="1.00"/>
<text x="375.70" y="20.55" font-size="8.80" text-anchor="end" fill="#000" stroke="#000" stroke-width="0.12">3000</text>
<rect x="457.30" y="107.00" width="24.10" height="76.40" fill="#d3d3d3"/>
<rect x="517.54" y="107.00" width="24.10" height="76.40" fill="#d3d3d3"/>
<defs><clipPath id="bclip1"><rect x="382.00" y="107.00" width="301.20" height="76.40"/></clipPath></defs>
<g clip-path="url(#bclip1)">
<polyline points="383.81,183.25 384.41,183.19 385.01,183.13 385.61,183.07 386.22,183.00 386.82,182.93 387.42,182.86 388.02,182.79 388.63,182.71 389.23,182.63 389.83,182.55 390.43,182.47 391.04,182.39 391.64,182.30 392.24,182.21 392.84,182.12 393.45,182.03 394.05,181.94 394.65,181.84 395.25,181.74 395.86,181.63 396.46,181.52 397.06,181.40 397.66,181.28 398.26,181.16 398.87,181.03 399.47,180.90 400.07,180.77 400.67,180.63 401.28,180.49 401.88,180.34 402.48,180.20 403.08,180.05 403.69,179.90 404.29,179.74 404.89,179.59 405.49,179.43 406.10,179.28 406.70,179.12 407.30,178.96 407.90,178.80 408.51,178.64 409.11,178.48 409.71,178.31 410.31,178.15 410.92,177.99 411.52,177.83 412.12,177.67 412.72,177.51 413.32,177.35 413.93,177.20 414.53,177.04 415.13,176.89 415.73,176.73 416.34,176.58 416.94,176.42 417.54,176.27 418.14,176.12 418.75,175.96 419.35,175.81 419.95,175.65 420.55,175.49 421.16,175.33 421.76,175.18 422.36,175.01 422.96,174.85 423.57,174.69 424.17,174.52 424.77,174.35 425.37,174.17 425.98,174.00 426.58,173.82 427.18,173.64 427.78,173.45 428.38,173.26 428.99,173.07 429.59,172.87 430.19,172.67 430.79,172.46 431.40,172.25 432.00,172.03 432.60,171.81 433.20,171.59 433.81,171.36 434.41,171.12 435.01,170.88 435.61,170.64 436.22,170.38 436.82,170.12 437.42,169.85 438.02,169.57 438.63,169.28 439.23,168.98 439.83,168.67 440.43,168.34 441.04,168.01 441.64,167.66 442.24,167.30 442.84,166.91 443.44,166.48 444.05,166.02 444.65,165.52 445.25,165.00 445.85,164.45 446.46,163.88 447.06,163.29 447.66,162.69 448.26,162.07 448.87,161.45 449.47,160.83 450.07,160.20 450.67,159.58 451.28,158.97 451.88,158.36 452.48,157.77 453.08,157.19 453.69,156.62 454.29,156.06 454.89,155.49 455.49,154.92 456.10,154.35 456.70,153.78 457.30,153.21 457.90,152.64 458.50,152.07 459.11,151.50 459.71,150.93 460.31,150.35 460.91,149.77 461.52,149.20 462.12,148.62 462.72,148.01 463.32,147.37 463.93,146.71 464.53,146.05 465.13,145.41 465.73,144.79 466.34,144.23 466.94,143.73 467.54,143.32 468.14,142.95 468.75,142.58 469.35,142.22 469.95,141.87 470.55,141.52 471.16,141.18 471.76,140.86 472.36,140.56 472.96,140.27 473.56,140.01 474.17,139.78 474.77,139.57 475.37,139.40 475.97,139.26 476.58,139.15 477.18,139.09 477.78,139.07 478.38,139.09 478.99,139.14 479.59,139.24 480.19,139.36 480.79,139.52 481.40,139.72 482.00,139.93 482.60,140.18 483.20,140.45 483.81,140.74 484.41,141.05 485.01,141.38 485.61,141.73 486.22,142.09 486.82,142.46 487.42,142.85 488.02,143.24 488.62,143.64 489.23,144.05 489.83,144.45 490.43,144.86 491.03,145.27 491.64,145.72 492.24,146.24 492.84,146.82 493.44,147.47 494.05,148.16 494.65,148.89 495.25,149.64 495.85,150.42 496.46,151.21 497.06,152.00 497.66,152.79 498.26,153.56 498.87,154.30 499.47,155.01 500.07,155.68 500.67,156.29 501.28,156.84 501.88,157.36 502.48,157.88 503.08,158.39 503.68,158.91 504.29,159.42 504.89,159.92 505.49,160.41 506.09,160.90 506.70,161.37 507.30,161.83 507.90,162.28 508.50,162.71 509.11,163.13 509.71,163.53 510.31,163.91 510.91,164.27 511.52,164.60 512.12,164.92 512.72,165.21 513.32,165.47 513.93,165.70 514.53,165.90 515.13,166.09 515.73,166.27 516.34,166.44 516.94,166.60 517.54,166.76 518.14,166.91 518.74,167.06 519.35,167.20 519.95,167.33 520.55,167.45 521.15,167.58 521.76,167.69 522.36,167.80 522.96,167.90 523.56,168.00 524.17,168.09 524.77,168.18 525.37,168.26 525.97,168.34 526.58,168.41 527.18,168.48 527.78,168.55 528.38,168.61 528.99,168.67 529.59,168.73 530.19,168.78 530.79,168.84 531.40,168.89 532.00,168.94 532.60,168.99 533.20,169.03 533.80,169.08 534.41,169.12 535.01,169.16 535.61,169.20 536.21,169.24 536.82,169.28 537.42,169.31 538.02,169.34 538.62,169.37 539.23,169.40 539.83,169.43 540.43,169.46 541.03,169.48 541.64,169.51 542.24,169.53 542.84,169.56 543.44,169.58 544.05,169.60 544.65,169.62 545.25,169.64 545.85,169.66 546.46,169.68 547.06,169.69 547.66,169.71 548.26,169.73 548.86,169.75 549.47,169.76 550.07,169.78 550.67,169.79 551.27,169.81 551.88,169.83 552.48,169.84 553.08,169.86 553.68,169.87 554.29,169.89 554.89,169.90 555.49,169.92 556.09,169.93 556.70,169.95 557.30,169.96 557.90,169.98 558.50,169.99 559.11,170.00 559.71,170.01 560.31,170.02 560.91,170.04 561.52,170.05 562.12,170.06 562.72,170.07 563.32,170.09 563.92,170.10 564.53,170.12 565.13,170.14 565.73,170.16 566.33,170.18 566.94,170.20 567.54,170.23 568.14,170.26 568.74,170.29 569.35,170.32 569.95,170.36 570.55,170.40 571.15,170.44 571.76,170.48 572.36,170.52 572.96,170.57 573.56,170.62 574.17,170.66 574.77,170.71 575.37,170.77 575.97,170.82 576.58,170.88 577.18,170.95 577.78,171.02 578.38,171.09 578.98,171.16 579.59,171.24 580.19,171.33 580.79,171.41 581.39,171.50 582.00,171.59 582.60,171.68 583.20,171.77 583.80,171.87 584.41,171.97 585.01,172.06 585.61,172.16 586.21,172.27 586.82,172.37 587.42,172.47 588.02,172.57 588.62,172.68 589.23,172.78 589.83,172.88 590.43,172.99 591.03,173.09 591.64,173.19 592.24,173.29 592.84,173.39 593.44,173.50 594.04,173.60 594.65,173.70 595.25,173.81 595.85,173.91 596.45,174.02 597.06,174.12 597.66,174.23 598.26,174.34 598.86,174.45 599.47,174.56 600.07,174.67 600.67,174.79 601.27,174.90 601.88,175.02 602.48,175.13 603.08,175.25 603.68,175.37 604.29,175.49 604.89,175.61 605.49,175.74 606.09,175.86 606.70,175.99 607.30,176.12 607.90,176.25 608.50,176.38 609.10,176.51 609.71,176.64 610.31,176.78 610.91,176.92 611.51,177.06 612.12,177.22 612.72,177.37 613.32,177.53 613.92,177.70 614.53,177.87 615.13,178.04 615.73,178.21 616.33,178.38 616.94,178.55 617.54,178.73 618.14,178.90 618.74,179.06 619.35,179.23 619.95,179.39 620.55,179.55 621.15,179.70 621.76,179.84 622.36,179.98 622.96,180.12 623.56,180.26 624.16,180.39 624.77,180.53 625.37,180.66 625.97,180.79 626.57,180.92 627.18,181.05 627.78,181.18 628.38,181.30 628.98,181.41 629.59,181.53 630.19,181.63 630.79,181.74 631.39,181.83 632.00,181.92 632.60,182.01 633.20,182.08 633.80,182.16 634.41,182.24 635.01,182.31 635.61,182.39 636.21,182.46 636.82,182.52 637.42,182.59 638.02,182.65 638.62,182.70 639.22,182.76 639.83,182.80 640.43,182.84 641.03,182.88 641.63,182.91 642.24,182.94 642.84,182.97 643.44,182.99 644.04,183.02 644.65,183.05 645.25,183.07 645.85,183.10 646.45,183.12 647.06,183.14" fill="none" stroke="#008000" stroke-width="2.00" stroke-dasharray="6.0 2.6" stroke-linejoin="round"/>
<polyline points="382.00,178.73 382.60,178.34 383.20,177.95 383.81,177.57 384.41,177.20 385.01,176.83 385.61,176.47 386.22,176.11 386.82,175.76 387.42,175.42 388.02,175.09 388.63,174.76 389.23,174.44 389.83,174.13 390.43,173.83 391.04,173.54 391.64,173.26 392.24,172.99 392.84,172.73 393.45,172.47 394.05,172.23 394.65,172.00 395.25,171.78 395.86,171.57 396.46,171.38 397.06,171.19 397.66,171.02 398.26,170.86 398.87,170.71 399.47,170.57 400.07,170.45 400.67,170.33 401.28,170.21 401.88,170.10 402.48,169.99 403.08,169.88 403.69,169.78 404.29,169.69 404.89,169.60 405.49,169.51 406.10,169.42 406.70,169.34 407.30,169.26 407.90,169.19 408.51,169.12 409.11,169.05 409.71,168.99 410.31,168.93 410.92,168.87 411.52,168.81 412.12,168.76 412.72,168.71 413.32,168.66 413.93,168.61 414.53,168.56 415.13,168.52 415.73,168.47 416.34,168.43 416.94,168.38 417.54,168.34 418.14,168.30 418.75,168.27 419.35,168.23 419.95,168.19 420.55,168.16 421.16,168.13 421.76,168.10 422.36,168.08 422.96,168.05 423.57,168.03 424.17,168.01 424.77,167.99 425.37,167.98 425.98,167.96 426.58,167.95 427.18,167.93 427.78,167.92 428.38,167.90 428.99,167.89 429.59,167.88 430.19,167.86 430.79,167.85 431.40,167.84 432.00,167.83 432.60,167.81 433.20,167.80 433.81,167.79 434.41,167.78 435.01,167.77 435.61,167.76 436.22,167.76 436.82,167.75 437.42,167.74 438.02,167.74 438.63,167.73 439.23,167.73 439.83,167.72 440.43,167.72 441.04,167.72 441.64,167.72 442.24,167.72 442.84,167.72 443.44,167.72 444.05,167.72 444.65,167.72 445.25,167.72 445.85,167.72 446.46,167.73 447.06,167.73 447.66,167.73 448.26,167.73 448.87,167.74 449.47,167.74 450.07,167.74 450.67,167.75 451.28,167.75 451.88,167.75 452.48,167.76 453.08,167.76 453.69,167.76 454.29,167.77 454.89,167.77 455.49,167.77 456.10,167.78 456.70,167.78 457.30,167.78 457.90,167.78 458.50,167.78 459.11,167.78 459.71,167.79 460.31,167.79 460.91,167.79 461.52,167.79 462.12,167.79 462.72,167.79 463.32,167.79 463.93,167.79 464.53,167.79 465.13,167.79 465.73,167.79 466.34,167.79 466.94,167.79 467.54,167.79 468.14,167.79 468.75,167.79 469.35,167.79 469.95,167.79 470.55,167.79 471.16,167.79 471.76,167.79 472.36,167.79 472.96,167.78 473.56,167.78 474.17,167.76 474.77,167.75 475.37,167.73 475.97,167.71 476.58,167.68 477.18,167.65 477.78,167.62 478.38,167.58 478.99,167.54 479.59,167.50 480.19,167.46 480.79,167.41 481.40,167.37 482.00,167.31 482.60,167.23 483.20,167.12 483.81,167.00 484.41,166.86 485.01,166.70 485.61,166.54 486.22,166.36 486.82,166.17 487.42,165.97 488.02,165.77 488.62,165.56 489.23,165.35 489.83,165.14 490.43,164.93 491.03,164.72 491.64,164.50 492.24,164.27 492.84,164.04 493.44,163.80 494.05,163.56 494.65,163.30 495.25,163.03 495.85,162.76 496.46,162.47 497.06,162.17 497.66,161.87 498.26,161.55 498.87,161.21 499.47,160.87 500.07,160.51 500.67,160.14 501.28,159.75 501.88,159.35 502.48,158.93 503.08,158.48 503.68,157.98 504.29,157.43 504.89,156.83 505.49,156.19 506.09,155.52 506.70,154.82 507.30,154.08 507.90,153.32 508.50,152.54 509.11,151.74 509.71,150.93 510.31,150.10 510.91,149.27 511.52,148.44 512.12,147.61 512.72,146.78 513.32,145.96 513.93,145.15 514.53,144.36 515.13,143.56 515.73,142.71 516.34,141.83 516.94,140.92 517.54,140.00 518.14,139.07 518.74,138.14 519.35,137.22 519.95,136.32 520.55,135.44 521.15,134.61 521.76,133.82 522.36,133.09 522.96,132.41 523.56,131.82 524.17,131.24 524.77,130.65 525.37,130.06 525.97,129.49 526.58,128.94 527.18,128.43 527.78,127.98 528.38,127.61 528.99,127.32 529.59,127.14 530.19,127.08 530.79,127.12 531.40,127.23 532.00,127.42 532.60,127.68 533.20,127.99 533.80,128.36 534.41,128.78 535.01,129.24 535.61,129.73 536.21,130.25 536.82,130.80 537.42,131.36 538.02,131.93 538.62,132.51 539.23,133.19 539.83,134.04 540.43,135.01 541.03,136.05 541.64,137.12 542.24,138.18 542.84,139.18 543.44,140.20 544.05,141.23 544.65,142.29 545.25,143.36 545.85,144.43 546.46,145.51 547.06,146.59 547.66,147.66 548.26,148.72 548.86,149.76 549.47,150.78 550.07,151.77 550.67,152.73 551.27,153.67 551.88,154.59 552.48,155.50 553.08,156.38 553.68,157.24 554.29,158.07 554.89,158.86 555.49,159.64 556.09,160.39 556.70,161.13 557.30,161.82 557.90,162.47 558.50,163.05 559.11,163.57 559.71,164.06 560.31,164.53 560.91,164.96 561.52,165.37 562.12,165.75 562.72,166.11 563.32,166.46 563.92,166.79 564.53,167.11 565.13,167.41 565.73,167.71 566.33,167.99 566.94,168.26 567.54,168.51 568.14,168.75 568.74,168.97 569.35,169.18 569.95,169.38 570.55,169.56 571.15,169.74 571.76,169.90 572.36,170.07 572.96,170.23 573.56,170.39 574.17,170.55 574.77,170.71 575.37,170.88 575.97,171.05 576.58,171.21 577.18,171.38 577.78,171.54 578.38,171.70 578.98,171.86 579.59,172.02 580.19,172.18 580.79,172.34 581.39,172.49 582.00,172.64 582.60,172.79 583.20,172.94 583.80,173.08 584.41,173.22 585.01,173.36 585.61,173.50 586.21,173.63 586.82,173.77 587.42,173.90 588.02,174.03 588.62,174.15 589.23,174.28 589.83,174.41 590.43,174.53 591.03,174.65 591.64,174.77 592.24,174.90 592.84,175.02 593.44,175.13 594.04,175.25 594.65,175.37 595.25,175.49 595.85,175.60 596.45,175.72 597.06,175.83 597.66,175.94 598.26,176.06 598.86,176.17 599.47,176.28 600.07,176.39 600.67,176.50 601.27,176.61 601.88,176.72 602.48,176.83 603.08,176.94 603.68,177.05 604.29,177.15 604.89,177.26 605.49,177.37 606.09,177.48 606.70,177.58 607.30,177.69 607.90,177.80 608.50,177.90 609.10,178.01 609.71,178.12 610.31,178.23 610.91,178.33 611.51,178.44 612.12,178.56 612.72,178.67 613.32,178.78 613.92,178.89 614.53,179.01 615.13,179.12 615.73,179.23 616.33,179.34 616.94,179.45 617.54,179.56 618.14,179.67 618.74,179.78 619.35,179.88 619.95,179.98 620.55,180.08 621.15,180.18 621.76,180.27 622.36,180.36 622.96,180.45 623.56,180.53 624.16,180.61 624.77,180.69 625.37,180.76 625.97,180.83 626.57,180.91 627.18,180.98 627.78,181.04 628.38,181.11 628.98,181.18 629.59,181.24 630.19,181.30 630.79,181.36 631.39,181.42 632.00,181.48 632.60,181.54 633.20,181.60 633.80,181.65 634.41,181.71 635.01,181.76 635.61,181.81 636.21,181.86 636.82,181.91 637.42,181.96 638.02,182.01 638.62,182.05 639.22,182.10 639.83,182.14 640.43,182.19 641.03,182.23 641.63,182.27 642.24,182.32 642.84,182.36 643.44,182.40 644.04,182.44 644.65,182.47 645.25,182.51 645.85,182.55 646.45,182.58 647.06,182.61 647.66,182.64 648.26,182.67 648.86,182.70 649.47,182.73 650.07,182.76 650.67,182.78 651.27,182.81 651.88,182.84 652.48,182.87 653.08,182.89 653.68,182.92 654.28,182.94 654.89,182.97 655.49,182.99 656.09,183.01 656.69,183.04 657.30,183.06 657.90,183.08 658.50,183.10 659.10,183.12 659.71,183.14" fill="none" stroke="#008000" stroke-width="2.00" stroke-dasharray="6.0 2.6" stroke-linejoin="round"/>
<polyline points="382.00,178.73 382.60,178.29 383.20,177.85 383.81,177.42 384.41,176.98 385.01,176.56 385.61,176.13 386.22,175.71 386.82,175.29 387.42,174.88 388.02,174.47 388.63,174.07 389.23,173.68 389.83,173.29 390.43,172.91 391.04,172.53 391.64,172.16 392.24,171.80 392.84,171.45 393.45,171.10 394.05,170.77 394.65,170.44 395.25,170.12 395.86,169.80 396.46,169.49 397.06,169.19 397.66,168.90 398.26,168.62 398.87,168.34 399.47,168.07 400.07,167.81 400.67,167.55 401.28,167.30 401.88,167.04 402.48,166.78 403.08,166.53 403.69,166.28 404.29,166.03 404.89,165.79 405.49,165.54 406.10,165.30 406.70,165.06 407.30,164.82 407.90,164.59 408.51,164.36 409.11,164.13 409.71,163.90 410.31,163.68 410.92,163.46 411.52,163.24 412.12,163.03 412.72,162.82 413.32,162.61 413.93,162.41 414.53,162.20 415.13,162.00 415.73,161.80 416.34,161.60 416.94,161.41 417.54,161.21 418.14,161.02 418.75,160.83 419.35,160.64 419.95,160.45 420.55,160.26 421.16,160.07 421.76,159.88 422.36,159.69 422.96,159.50 423.57,159.32 424.17,159.13 424.77,158.94 425.37,158.75 425.98,158.56 426.58,158.37 427.18,158.17 427.78,157.97 428.38,157.76 428.99,157.56 429.59,157.35 430.19,157.13 430.79,156.91 431.40,156.68 432.00,156.46 432.60,156.23 433.20,155.99 433.81,155.75 434.41,155.51 435.01,155.26 435.61,155.00 436.22,154.74 436.82,154.47 437.42,154.19 438.02,153.91 438.63,153.61 439.23,153.31 439.83,152.99 440.43,152.66 441.04,152.33 441.64,151.98 442.24,151.61 442.84,151.22 443.44,150.80 444.05,150.33 444.65,149.84 445.25,149.32 445.85,148.77 446.46,148.20 447.06,147.62 447.66,147.02 448.26,146.41 448.87,145.79 449.47,145.17 450.07,144.55 450.67,143.93 451.28,143.32 451.88,142.71 452.48,142.12 453.08,141.55 453.69,140.99 454.29,140.42 454.89,139.86 455.49,139.29 456.10,138.73 456.70,138.16 457.30,137.59 457.90,137.03 458.50,136.46 459.11,135.88 459.71,135.31 460.31,134.74 460.91,134.16 461.52,133.58 462.12,133.00 462.72,132.40 463.32,131.76 463.93,131.10 464.53,130.44 465.13,129.79 465.73,129.18 466.34,128.61 466.94,128.12 467.54,127.70 468.14,127.34 468.75,126.97 469.35,126.61 469.95,126.25 470.55,125.90 471.16,125.57 471.76,125.25 472.36,124.94 472.96,124.66 473.56,124.39 474.17,124.14 474.77,123.92 475.37,123.73 475.97,123.56 476.58,123.43 477.18,123.34 477.78,123.28 478.38,123.27 478.99,123.29 479.59,123.34 480.19,123.42 480.79,123.54 481.40,123.68 482.00,123.84 482.60,124.00 483.20,124.17 483.81,124.34 484.41,124.51 485.01,124.69 485.61,124.87 486.22,125.05 486.82,125.23 487.42,125.42 488.02,125.61 488.62,125.80 489.23,125.99 489.83,126.19 490.43,126.39 491.03,126.59 491.64,126.82 492.24,127.11 492.84,127.47 493.44,127.87 494.05,128.31 494.65,128.79 495.25,129.28 495.85,129.78 496.46,130.28 497.06,130.78 497.66,131.25 498.26,131.70 498.87,132.11 499.47,132.48 500.07,132.79 500.67,133.03 501.28,133.19 501.88,133.31 502.48,133.41 503.08,133.48 503.68,133.48 504.29,133.44 504.89,133.35 505.49,133.21 506.09,133.02 506.70,132.79 507.30,132.51 507.90,132.20 508.50,131.85 509.11,131.47 509.71,131.06 510.31,130.61 510.91,130.14 511.52,129.64 512.12,129.12 512.72,128.58 513.32,128.03 513.93,127.45 514.53,126.87 515.13,126.25 515.73,125.58 516.34,124.86 516.94,124.12 517.54,123.36 518.14,122.58 518.74,121.79 519.35,121.01 519.95,120.24 520.55,119.50 521.15,118.79 521.76,118.11 522.36,117.49 522.96,116.92 523.56,116.42 524.17,115.94 524.77,115.44 525.37,114.93 525.97,114.43 526.58,113.95 527.18,113.51 527.78,113.13 528.38,112.82 528.99,112.59 529.59,112.47 530.19,112.46 530.79,112.55 531.40,112.72 532.00,112.96 532.60,113.27 533.20,113.63 533.80,114.04 534.41,114.50 535.01,115.00 535.61,115.53 536.21,116.09 536.82,116.67 537.42,117.27 538.02,117.88 538.62,118.49 539.23,119.20 539.83,120.07 540.43,121.06 541.03,122.13 541.64,123.23 542.24,124.31 542.84,125.34 543.44,126.37 544.05,127.43 544.65,128.51 545.25,129.59 545.85,130.69 546.46,131.79 547.06,132.88 547.66,133.97 548.26,135.04 548.86,136.10 549.47,137.14 550.07,138.15 550.67,139.12 551.27,140.08 551.88,141.02 552.48,141.94 553.08,142.84 553.68,143.71 554.29,144.56 554.89,145.36 555.49,146.15 556.09,146.93 556.70,147.68 557.30,148.39 557.90,149.04 558.50,149.63 559.11,150.17 559.71,150.68 560.31,151.15 560.91,151.60 561.52,152.02 562.12,152.41 562.72,152.79 563.32,153.14 563.92,153.49 564.53,153.83 565.13,154.15 565.73,154.46 566.33,154.77 566.94,155.06 567.54,155.34 568.14,155.60 568.74,155.86 569.35,156.10 569.95,156.33 570.55,156.56 571.15,156.77 571.76,156.98 572.36,157.19 572.96,157.40 573.56,157.60 574.17,157.81 574.77,158.03 575.37,158.24 575.97,158.47 576.58,158.69 577.18,158.92 577.78,159.16 578.38,159.39 578.98,159.63 579.59,159.87 580.19,160.11 580.79,160.35 581.39,160.59 582.00,160.83 582.60,161.07 583.20,161.31 583.80,161.55 584.41,161.79 585.01,162.03 585.61,162.26 586.21,162.50 586.82,162.73 587.42,162.97 588.02,163.20 588.62,163.43 589.23,163.66 589.83,163.89 590.43,164.12 591.03,164.34 591.64,164.57 592.24,164.79 592.84,165.01 593.44,165.23 594.04,165.45 594.65,165.67 595.25,165.89 595.85,166.11 596.45,166.33 597.06,166.55 597.66,166.78 598.26,167.00 598.86,167.22 599.47,167.44 600.07,167.66 600.67,167.89 601.27,168.11 601.88,168.34 602.48,168.56 603.08,168.79 603.68,169.02 604.29,169.25 604.89,169.48 605.49,169.71 606.09,169.94 606.70,170.17 607.30,170.41 607.90,170.64 608.50,170.88 609.10,171.12 609.71,171.36 610.31,171.60 610.91,171.85 611.51,172.11 612.12,172.37 612.72,172.64 613.32,172.91 613.92,173.19 614.53,173.47 615.13,173.76 615.73,174.04 616.33,174.33 616.94,174.61 617.54,174.89 618.14,175.17 618.74,175.44 619.35,175.71 619.95,175.97 620.55,176.23 621.15,176.48 621.76,176.72 622.36,176.95 622.96,177.17 623.56,177.39 624.16,177.60 624.77,177.82 625.37,178.02 625.97,178.23 626.57,178.43 627.18,178.63 627.78,178.82 628.38,179.01 628.98,179.19 629.59,179.37 630.19,179.54 630.79,179.70 631.39,179.86 632.00,180.01 632.60,180.15 633.20,180.28 633.80,180.41 634.41,180.55 635.01,180.67 635.61,180.80 636.21,180.92 636.82,181.03 637.42,181.15 638.02,181.25 638.62,181.36 639.22,181.45 639.83,181.55 640.43,181.63 641.03,181.71 641.63,181.79 642.24,181.86 642.84,181.93 643.44,181.99 644.04,182.06 644.65,182.12 645.25,182.18 645.85,182.24 646.45,182.30 647.06,182.36 647.66,182.41 648.26,182.46 648.86,182.51 649.47,182.56 650.07,182.61 650.67,182.65 651.27,182.70 651.88,182.74 652.48,182.78 653.08,182.82 653.68,182.86 654.28,182.90 654.89,182.93 655.49,182.96 656.09,183.00 656.69,183.03 657.30,183.05 657.90,183.08 658.50,183.10 659.10,183.12 659.71,183.14 660.31,183.16 660.91,183.18 661.51,183.19 662.12,183.21 662.72,183.22 663.32,183.23 663.92,183.24 664.53,183.25 665.13,183.26 665.73,183.27 666.33,183.28 666.94,183.28 667.54,183.29 668.14,183.30 668.74,183.30 669.34,183.31 669.95,183.32 670.55,183.32 671.15,183.33 671.75,183.34 672.36,183.34 672.96,183.35 673.56,183.35 674.16,183.36 674.77,183.36 675.37,183.37 675.97,183.37 676.57,183.38 677.18,183.38 677.78,183.38 678.38,183.39 678.98,183.39 679.59,183.39 680.19,183.40 680.79,183.40 681.39,183.40 682.00,183.40 682.60,183.40 683.20,183.40" fill="none" stroke="#808080" stroke-width="1.90" stroke-linejoin="round"/>
<line x1="383.51" y1="170.94" x2="383.51" y2="169.80" stroke="#000" stroke-width="0.80"/>
<line x1="382.21" y1="170.94" x2="384.81" y2="170.94" stroke="#000" stroke-width="0.80"/>
<line x1="382.21" y1="169.80" x2="384.81" y2="169.80" stroke="#000" stroke-width="0.80"/>
<rect x="382.06" y="168.92" width="2.90" height="2.90" fill="#000"/>
<line x1="386.52" y1="168.86" x2="386.52" y2="167.63" stroke="#000" stroke-width="0.80"/>
<line x1="385.22" y1="168.86" x2="387.82" y2="168.86" stroke="#000" stroke-width="0.80"/>
<line x1="385.22" y1="167.63" x2="387.82" y2="167.63" stroke="#000" stroke-width="0.80"/>
<rect x="385.07" y="166.80" width="2.90" height="2.90" fill="#000"/>
<line x1="389.53" y1="167.44" x2="389.53" y2="166.15" stroke="#000" stroke-width="0.80"/>
<line x1="388.23" y1="167.44" x2="390.83" y2="167.44" stroke="#000" stroke-width="0.80"/>
<line x1="388.23" y1="166.15" x2="390.83" y2="166.15" stroke="#000" stroke-width="0.80"/>
<rect x="388.08" y="165.35" width="2.90" height="2.90" fill="#000"/>
<line x1="392.54" y1="166.18" x2="392.54" y2="164.84" stroke="#000" stroke-width="0.80"/>
<line x1="391.24" y1="166.18" x2="393.84" y2="166.18" stroke="#000" stroke-width="0.80"/>
<line x1="391.24" y1="164.84" x2="393.84" y2="164.84" stroke="#000" stroke-width="0.80"/>
<rect x="391.09" y="164.06" width="2.90" height="2.90" fill="#000"/>
<line x1="395.55" y1="164.48" x2="395.55" y2="163.07" stroke="#000" stroke-width="0.80"/>
<line x1="394.25" y1="164.48" x2="396.85" y2="164.48" stroke="#000" stroke-width="0.80"/>
<line x1="394.25" y1="163.07" x2="396.85" y2="163.07" stroke="#000" stroke-width="0.80"/>
<rect x="394.10" y="162.32" width="2.90" height="2.90" fill="#000"/>
<line x1="398.57" y1="163.29" x2="398.57" y2="161.84" stroke="#000" stroke-width="0.80"/>
<line x1="397.27" y1="163.29" x2="399.87" y2="163.29" stroke="#000" stroke-width="0.80"/>
<line x1="397.27" y1="161.84" x2="399.87" y2="161.84" stroke="#000" stroke-width="0.80"/>
<rect x="397.12" y="161.11" width="2.90" height="2.90" fill="#000"/>
<line x1="401.58" y1="160.86" x2="401.58" y2="159.33" stroke="#000" stroke-width="0.80"/>
<line x1="400.28" y1="160.86" x2="402.88" y2="160.86" stroke="#000" stroke-width="0.80"/>
<line x1="400.28" y1="159.33" x2="402.88" y2="159.33" stroke="#000" stroke-width="0.80"/>
<rect x="400.13" y="158.65" width="2.90" height="2.90" fill="#000"/>
<line x1="404.59" y1="158.30" x2="404.59" y2="156.68" stroke="#000" stroke-width="0.80"/>
<line x1="403.29" y1="158.30" x2="405.89" y2="158.30" stroke="#000" stroke-width="0.80"/>
<line x1="403.29" y1="156.68" x2="405.89" y2="156.68" stroke="#000" stroke-width="0.80"/>
<rect x="403.14" y="156.04" width="2.90" height="2.90" fill="#000"/>
<line x1="407.60" y1="158.78" x2="407.60" y2="157.19" stroke="#000" stroke-width="0.80"/>
<line x1="406.30" y1="158.78" x2="408.90" y2="158.78" stroke="#000" stroke-width="0.80"/>
<line x1="406.30" y1="157.19" x2="408.90" y2="157.19" stroke="#000" stroke-width="0.80"/>
<rect x="406.15" y="156.53" width="2.90" height="2.90" fill="#000"/>
<line x1="410.61" y1="159.31" x2="410.61" y2="157.73" stroke="#000" stroke-width="0.80"/>
<line x1="409.31" y1="159.31" x2="411.91" y2="159.31" stroke="#000" stroke-width="0.80"/>
<line x1="409.31" y1="157.73" x2="411.91" y2="157.73" stroke="#000" stroke-width="0.80"/>
<rect x="409.16" y="157.07" width="2.90" height="2.90" fill="#000"/>
<line x1="413.63" y1="156.29" x2="413.63" y2="154.61" stroke="#000" stroke-width="0.80"/>
<line x1="412.33" y1="156.29" x2="414.93" y2="156.29" stroke="#000" stroke-width="0.80"/>
<line x1="412.33" y1="154.61" x2="414.93" y2="154.61" stroke="#000" stroke-width="0.80"/>
<rect x="412.18" y="154.00" width="2.90" height="2.90" fill="#000"/>
<line x1="416.64" y1="156.23" x2="416.64" y2="154.55" stroke="#000" stroke-width="0.80"/>
<line x1="415.34" y1="156.23" x2="417.94" y2="156.23" stroke="#000" stroke-width="0.80"/>
<line x1="415.34" y1="154.55" x2="417.94" y2="154.55" stroke="#000" stroke-width="0.80"/>
<rect x="415.19" y="153.94" width="2.90" height="2.90" fill="#000"/>
<line x1="419.65" y1="153.97" x2="419.65" y2="152.23" stroke="#000" stroke-width="0.80"/>
<line x1="418.35" y1="153.97" x2="420.95" y2="153.97" stroke="#000" stroke-width="0.80"/>
<line x1="418.35" y1="152.23" x2="420.95" y2="152.23" stroke="#000" stroke-width="0.80"/>
<rect x="418.20" y="151.65" width="2.90" height="2.90" fill="#000"/>
<line x1="422.66" y1="154.91" x2="422.66" y2="153.20" stroke="#000" stroke-width="0.80"/>
<line x1="421.36" y1="154.91" x2="423.96" y2="154.91" stroke="#000" stroke-width="0.80"/>
<line x1="421.36" y1="153.20" x2="423.96" y2="153.20" stroke="#000" stroke-width="0.80"/>
<rect x="421.21" y="152.60" width="2.90" height="2.90" fill="#000"/>
<line x1="425.67" y1="154.40" x2="425.67" y2="152.67" stroke="#000" stroke-width="0.80"/>
<line x1="424.37" y1="154.40" x2="426.97" y2="154.40" stroke="#000" stroke-width="0.80"/>
<line x1="424.37" y1="152.67" x2="426.97" y2="152.67" stroke="#000" stroke-width="0.80"/>
<rect x="424.22" y="152.08" width="2.90" height="2.90" fill="#000"/>
<line x1="428.69" y1="154.04" x2="428.69" y2="152.30" stroke="#000" stroke-width="0.80"/>
<line x1="427.39" y1="154.04" x2="429.99" y2="154.04" stroke="#000" stroke-width="0.80"/>
<line x1="427.39" y1="152.30" x2="429.99" y2="152.30" stroke="#000" stroke-width="0.80"/>
<rect x="427.24" y="151.72" width="2.90" height="2.90" fill="#000"/>
<line x1="431.70" y1="150.00" x2="431.70" y2="148.15" stroke="#000" stroke-width="0.80"/>
<line x1="430.40" y1="150.00" x2="433.00" y2="150.00" stroke="#000" stroke-width="0.80"/>
<line x1="430.40" y1="148.15" x2="433.00" y2="148.15" stroke="#000" stroke-width="0.80"/>
<rect x="430.25" y="147.63" width="2.90" height="2.90" fill="#000"/>
<line x1="434.71" y1="147.69" x2="434.71" y2="145.77" stroke="#000" stroke-width="0.80"/>
<line x1="433.41" y1="147.69" x2="436.01" y2="147.69" stroke="#000" stroke-width="0.80"/>
<line x1="433.41" y1="145.77" x2="436.01" y2="145.77" stroke="#000" stroke-width="0.80"/>
<rect x="433.26" y="145.28" width="2.90" height="2.90" fill="#000"/>
<line x1="437.72" y1="150.55" x2="437.72" y2="148.71" stroke="#000" stroke-width="0.80"/>
<line x1="436.42" y1="150.55" x2="439.02" y2="150.55" stroke="#000" stroke-width="0.80"/>
<line x1="436.42" y1="148.71" x2="439.02" y2="148.71" stroke="#000" stroke-width="0.80"/>
<rect x="436.27" y="148.18" width="2.90" height="2.90" fill="#000"/>
<line x1="440.73" y1="150.10" x2="440.73" y2="148.25" stroke="#000" stroke-width="0.80"/>
<line x1="439.43" y1="150.10" x2="442.03" y2="150.10" stroke="#000" stroke-width="0.80"/>
<line x1="439.43" y1="148.25" x2="442.03" y2="148.25" stroke="#000" stroke-width="0.80"/>
<rect x="439.28" y="147.72" width="2.90" height="2.90" fill="#000"/>
<line x1="443.75" y1="148.50" x2="443.75" y2="146.60" stroke="#000" stroke-width="0.80"/>
<line x1="442.45" y1="148.50" x2="445.05" y2="148.50" stroke="#000" stroke-width="0.80"/>
<line x1="442.45" y1="146.60" x2="445.05" y2="146.60" stroke="#000" stroke-width="0.80"/>
<rect x="442.30" y="146.10" width="2.90" height="2.90" fill="#000"/>
<line x1="446.76" y1="149.03" x2="446.76" y2="147.15" stroke="#000" stroke-width="0.80"/>
<line x1="445.46" y1="149.03" x2="448.06" y2="149.03" stroke="#000" stroke-width="0.80"/>
<line x1="445.46" y1="147.15" x2="448.06" y2="147.15" stroke="#000" stroke-width="0.80"/>
<rect x="445.31" y="146.64" width="2.90" height="2.90" fill="#000"/>
<line x1="449.77" y1="146.57" x2="449.77" y2="144.62" stroke="#000" stroke-width="0.80"/>
<line x1="448.47" y1="146.57" x2="451.07" y2="146.57" stroke="#000" stroke-width="0.80"/>
<line x1="448.47" y1="144.62" x2="451.07" y2="144.62" stroke="#000" stroke-width="0.80"/>
<rect x="448.32" y="144.15" width="2.90" height="2.90" fill="#000"/>
<line x1="452.78" y1="144.26" x2="452.78" y2="142.25" stroke="#000" stroke-width="0.80"/>
<line x1="451.48" y1="144.26" x2="454.08" y2="144.26" stroke="#000" stroke-width="0.80"/>
<line x1="451.48" y1="142.25" x2="454.08" y2="142.25" stroke="#000" stroke-width="0.80"/>
<rect x="451.33" y="141.80" width="2.90" height="2.90" fill="#000"/>
<line x1="455.79" y1="140.61" x2="455.79" y2="138.52" stroke="#000" stroke-width="0.80"/>
<line x1="454.49" y1="140.61" x2="457.09" y2="140.61" stroke="#000" stroke-width="0.80"/>
<line x1="454.49" y1="138.52" x2="457.09" y2="138.52" stroke="#000" stroke-width="0.80"/>
<rect x="454.34" y="138.11" width="2.90" height="2.90" fill="#000"/>
<line x1="458.81" y1="136.47" x2="458.81" y2="134.28" stroke="#000" stroke-width="0.80"/>
<line x1="457.51" y1="136.47" x2="460.11" y2="136.47" stroke="#000" stroke-width="0.80"/>
<line x1="457.51" y1="134.28" x2="460.11" y2="134.28" stroke="#000" stroke-width="0.80"/>
<rect x="457.36" y="133.92" width="2.90" height="2.90" fill="#000"/>
<line x1="461.82" y1="135.22" x2="461.82" y2="133.00" stroke="#000" stroke-width="0.80"/>
<line x1="460.52" y1="135.22" x2="463.12" y2="135.22" stroke="#000" stroke-width="0.80"/>
<line x1="460.52" y1="133.00" x2="463.12" y2="133.00" stroke="#000" stroke-width="0.80"/>
<rect x="460.37" y="132.66" width="2.90" height="2.90" fill="#000"/>
<line x1="464.83" y1="131.94" x2="464.83" y2="129.65" stroke="#000" stroke-width="0.80"/>
<line x1="463.53" y1="131.94" x2="466.13" y2="131.94" stroke="#000" stroke-width="0.80"/>
<line x1="463.53" y1="129.65" x2="466.13" y2="129.65" stroke="#000" stroke-width="0.80"/>
<rect x="463.38" y="129.35" width="2.90" height="2.90" fill="#000"/>
<line x1="467.84" y1="129.29" x2="467.84" y2="126.93" stroke="#000" stroke-width="0.80"/>
<line x1="466.54" y1="129.29" x2="469.14" y2="129.29" stroke="#000" stroke-width="0.80"/>
<line x1="466.54" y1="126.93" x2="469.14" y2="126.93" stroke="#000" stroke-width="0.80"/>
<rect x="466.39" y="126.66" width="2.90" height="2.90" fill="#000"/>
<line x1="470.85" y1="124.33" x2="470.85" y2="121.87" stroke="#000" stroke-width="0.80"/>
<line x1="469.55" y1="124.33" x2="472.15" y2="124.33" stroke="#000" stroke-width="0.80"/>
<line x1="469.55" y1="121.87" x2="472.15" y2="121.87" stroke="#000" stroke-width="0.80"/>
<rect x="469.40" y="121.65" width="2.90" height="2.90" fill="#000"/>
<line x1="473.87" y1="125.99" x2="473.87" y2="123.56" stroke="#000" stroke-width="0.80"/>
<line x1="472.57" y1="125.99" x2="475.17" y2="125.99" stroke="#000" stroke-width="0.80"/>
<line x1="472.57" y1="123.56" x2="475.17" y2="123.56" stroke="#000" stroke-width="0.80"/>
<rect x="472.42" y="123.33" width="2.90" height="2.90" fill="#000"/>
<line x1="476.88" y1="124.03" x2="476.88" y2="121.56" stroke="#000" stroke-width="0.80"/>
<line x1="475.58" y1="124.03" x2="478.18" y2="124.03" stroke="#000" stroke-width="0.80"/>
<line x1="475.58" y1="121.56" x2="478.18" y2="121.56" stroke="#000" stroke-width="0.80"/>
<rect x="475.43" y="121.34" width="2.90" height="2.90" fill="#000"/>
<line x1="479.89" y1="120.23" x2="479.89" y2="117.69" stroke="#000" stroke-width="0.80"/>
<line x1="478.59" y1="120.23" x2="481.19" y2="120.23" stroke="#000" stroke-width="0.80"/>
<line x1="478.59" y1="117.69" x2="481.19" y2="117.69" stroke="#000" stroke-width="0.80"/>
<rect x="478.44" y="117.51" width="2.90" height="2.90" fill="#000"/>
<line x1="482.90" y1="121.68" x2="482.90" y2="119.17" stroke="#000" stroke-width="0.80"/>
<line x1="481.60" y1="121.68" x2="484.20" y2="121.68" stroke="#000" stroke-width="0.80"/>
<line x1="481.60" y1="119.17" x2="484.20" y2="119.17" stroke="#000" stroke-width="0.80"/>
<rect x="481.45" y="118.98" width="2.90" height="2.90" fill="#000"/>
<line x1="485.91" y1="119.89" x2="485.91" y2="117.34" stroke="#000" stroke-width="0.80"/>
<line x1="484.61" y1="119.89" x2="487.21" y2="119.89" stroke="#000" stroke-width="0.80"/>
<line x1="484.61" y1="117.34" x2="487.21" y2="117.34" stroke="#000" stroke-width="0.80"/>
<rect x="484.46" y="117.16" width="2.90" height="2.90" fill="#000"/>
<line x1="488.93" y1="123.15" x2="488.93" y2="120.66" stroke="#000" stroke-width="0.80"/>
<line x1="487.63" y1="123.15" x2="490.23" y2="123.15" stroke="#000" stroke-width="0.80"/>
<line x1="487.63" y1="120.66" x2="490.23" y2="120.66" stroke="#000" stroke-width="0.80"/>
<rect x="487.48" y="120.45" width="2.90" height="2.90" fill="#000"/>
<line x1="491.94" y1="124.90" x2="491.94" y2="122.45" stroke="#000" stroke-width="0.80"/>
<line x1="490.64" y1="124.90" x2="493.24" y2="124.90" stroke="#000" stroke-width="0.80"/>
<line x1="490.64" y1="122.45" x2="493.24" y2="122.45" stroke="#000" stroke-width="0.80"/>
<rect x="490.49" y="122.22" width="2.90" height="2.90" fill="#000"/>
<line x1="494.95" y1="126.12" x2="494.95" y2="123.70" stroke="#000" stroke-width="0.80"/>
<line x1="493.65" y1="126.12" x2="496.25" y2="126.12" stroke="#000" stroke-width="0.80"/>
<line x1="493.65" y1="123.70" x2="496.25" y2="123.70" stroke="#000" stroke-width="0.80"/>
<rect x="493.50" y="123.46" width="2.90" height="2.90" fill="#000"/>
<line x1="497.96" y1="128.52" x2="497.96" y2="126.15" stroke="#000" stroke-width="0.80"/>
<line x1="496.66" y1="128.52" x2="499.26" y2="128.52" stroke="#000" stroke-width="0.80"/>
<line x1="496.66" y1="126.15" x2="499.26" y2="126.15" stroke="#000" stroke-width="0.80"/>
<rect x="496.51" y="125.89" width="2.90" height="2.90" fill="#000"/>
<line x1="500.97" y1="132.70" x2="500.97" y2="130.42" stroke="#000" stroke-width="0.80"/>
<line x1="499.67" y1="132.70" x2="502.27" y2="132.70" stroke="#000" stroke-width="0.80"/>
<line x1="499.67" y1="130.42" x2="502.27" y2="130.42" stroke="#000" stroke-width="0.80"/>
<rect x="499.52" y="130.11" width="2.90" height="2.90" fill="#000"/>
<line x1="503.99" y1="132.70" x2="503.99" y2="130.42" stroke="#000" stroke-width="0.80"/>
<line x1="502.69" y1="132.70" x2="505.29" y2="132.70" stroke="#000" stroke-width="0.80"/>
<line x1="502.69" y1="130.42" x2="505.29" y2="130.42" stroke="#000" stroke-width="0.80"/>
<rect x="502.54" y="130.11" width="2.90" height="2.90" fill="#000"/>
<line x1="507.00" y1="131.42" x2="507.00" y2="129.11" stroke="#000" stroke-width="0.80"/>
<line x1="505.70" y1="131.42" x2="508.30" y2="131.42" stroke="#000" stroke-width="0.80"/>
<line x1="505.70" y1="129.11" x2="508.30" y2="129.11" stroke="#000" stroke-width="0.80"/>
<rect x="505.55" y="128.82" width="2.90" height="2.90" fill="#000"/>
<line x1="510.01" y1="128.67" x2="510.01" y2="126.30" stroke="#000" stroke-width="0.80"/>
<line x1="508.71" y1="128.67" x2="511.31" y2="128.67" stroke="#000" stroke-width="0.80"/>
<line x1="508.71" y1="126.30" x2="511.31" y2="126.30" stroke="#000" stroke-width="0.80"/>
<rect x="508.56" y="126.03" width="2.90" height="2.90" fill="#000"/>
<line x1="513.02" y1="125.24" x2="513.02" y2="122.80" stroke="#000" stroke-width="0.80"/>
<line x1="511.72" y1="125.24" x2="514.32" y2="125.24" stroke="#000" stroke-width="0.80"/>
<line x1="511.72" y1="122.80" x2="514.32" y2="122.80" stroke="#000" stroke-width="0.80"/>
<rect x="511.57" y="122.57" width="2.90" height="2.90" fill="#000"/>
<line x1="516.03" y1="120.29" x2="516.03" y2="117.75" stroke="#000" stroke-width="0.80"/>
<line x1="514.73" y1="120.29" x2="517.33" y2="120.29" stroke="#000" stroke-width="0.80"/>
<line x1="514.73" y1="117.75" x2="517.33" y2="117.75" stroke="#000" stroke-width="0.80"/>
<rect x="514.58" y="117.57" width="2.90" height="2.90" fill="#000"/>
<line x1="519.05" y1="117.59" x2="519.05" y2="114.99" stroke="#000" stroke-width="0.80"/>
<line x1="517.75" y1="117.59" x2="520.35" y2="117.59" stroke="#000" stroke-width="0.80"/>
<line x1="517.75" y1="114.99" x2="520.35" y2="114.99" stroke="#000" stroke-width="0.80"/>
<rect x="517.60" y="114.84" width="2.90" height="2.90" fill="#000"/>
<line x1="522.06" y1="115.65" x2="522.06" y2="113.02" stroke="#000" stroke-width="0.80"/>
<line x1="520.76" y1="115.65" x2="523.36" y2="115.65" stroke="#000" stroke-width="0.80"/>
<line x1="520.76" y1="113.02" x2="523.36" y2="113.02" stroke="#000" stroke-width="0.80"/>
<rect x="520.61" y="112.89" width="2.90" height="2.90" fill="#000"/>
<line x1="525.07" y1="115.21" x2="525.07" y2="112.57" stroke="#000" stroke-width="0.80"/>
<line x1="523.77" y1="115.21" x2="526.37" y2="115.21" stroke="#000" stroke-width="0.80"/>
<line x1="523.77" y1="112.57" x2="526.37" y2="112.57" stroke="#000" stroke-width="0.80"/>
<rect x="523.62" y="112.44" width="2.90" height="2.90" fill="#000"/>
<line x1="528.08" y1="116.52" x2="528.08" y2="113.90" stroke="#000" stroke-width="0.80"/>
<line x1="526.78" y1="116.52" x2="529.38" y2="116.52" stroke="#000" stroke-width="0.80"/>
<line x1="526.78" y1="113.90" x2="529.38" y2="113.90" stroke="#000" stroke-width="0.80"/>
<rect x="526.63" y="113.76" width="2.90" height="2.90" fill="#000"/>
<line x1="531.09" y1="114.06" x2="531.09" y2="111.40" stroke="#000" stroke-width="0.80"/>
<line x1="529.79" y1="114.06" x2="532.39" y2="114.06" stroke="#000" stroke-width="0.80"/>
<line x1="529.79" y1="111.40" x2="532.39" y2="111.40" stroke="#000" stroke-width="0.80"/>
<rect x="529.64" y="111.28" width="2.90" height="2.90" fill="#000"/>
<line x1="534.11" y1="116.31" x2="534.11" y2="113.69" stroke="#000" stroke-width="0.80"/>
<line x1="532.81" y1="116.31" x2="535.41" y2="116.31" stroke="#000" stroke-width="0.80"/>
<line x1="532.81" y1="113.69" x2="535.41" y2="113.69" stroke="#000" stroke-width="0.80"/>
<rect x="532.66" y="113.55" width="2.90" height="2.90" fill="#000"/>
<line x1="537.12" y1="116.84" x2="537.12" y2="114.23" stroke="#000" stroke-width="0.80"/>
<line x1="535.82" y1="116.84" x2="538.42" y2="116.84" stroke="#000" stroke-width="0.80"/>
<line x1="535.82" y1="114.23" x2="538.42" y2="114.23" stroke="#000" stroke-width="0.80"/>
<rect x="535.67" y="114.09" width="2.90" height="2.90" fill="#000"/>
<line x1="540.13" y1="119.02" x2="540.13" y2="116.45" stroke="#000" stroke-width="0.80"/>
<line x1="538.83" y1="119.02" x2="541.43" y2="119.02" stroke="#000" stroke-width="0.80"/>
<line x1="538.83" y1="116.45" x2="541.43" y2="116.45" stroke="#000" stroke-width="0.80"/>
<rect x="538.68" y="116.29" width="2.90" height="2.90" fill="#000"/>
<line x1="543.14" y1="122.75" x2="543.14" y2="120.26" stroke="#000" stroke-width="0.80"/>
<line x1="541.84" y1="122.75" x2="544.44" y2="122.75" stroke="#000" stroke-width="0.80"/>
<line x1="541.84" y1="120.26" x2="544.44" y2="120.26" stroke="#000" stroke-width="0.80"/>
<rect x="541.69" y="120.05" width="2.90" height="2.90" fill="#000"/>
<line x1="546.15" y1="126.43" x2="546.15" y2="124.01" stroke="#000" stroke-width="0.80"/>
<line x1="544.85" y1="126.43" x2="547.45" y2="126.43" stroke="#000" stroke-width="0.80"/>
<line x1="544.85" y1="124.01" x2="547.45" y2="124.01" stroke="#000" stroke-width="0.80"/>
<rect x="544.70" y="123.77" width="2.90" height="2.90" fill="#000"/>
<line x1="549.17" y1="129.90" x2="549.17" y2="127.56" stroke="#000" stroke-width="0.80"/>
<line x1="547.87" y1="129.90" x2="550.47" y2="129.90" stroke="#000" stroke-width="0.80"/>
<line x1="547.87" y1="127.56" x2="550.47" y2="127.56" stroke="#000" stroke-width="0.80"/>
<rect x="547.72" y="127.28" width="2.90" height="2.90" fill="#000"/>
<line x1="552.18" y1="137.66" x2="552.18" y2="135.49" stroke="#000" stroke-width="0.80"/>
<line x1="550.88" y1="137.66" x2="553.48" y2="137.66" stroke="#000" stroke-width="0.80"/>
<line x1="550.88" y1="135.49" x2="553.48" y2="135.49" stroke="#000" stroke-width="0.80"/>
<rect x="550.73" y="135.13" width="2.90" height="2.90" fill="#000"/>
<line x1="555.19" y1="142.20" x2="555.19" y2="140.14" stroke="#000" stroke-width="0.80"/>
<line x1="553.89" y1="142.20" x2="556.49" y2="142.20" stroke="#000" stroke-width="0.80"/>
<line x1="553.89" y1="140.14" x2="556.49" y2="140.14" stroke="#000" stroke-width="0.80"/>
<rect x="553.74" y="139.72" width="2.90" height="2.90" fill="#000"/>
<line x1="558.20" y1="146.85" x2="558.20" y2="144.91" stroke="#000" stroke-width="0.80"/>
<line x1="556.90" y1="146.85" x2="559.50" y2="146.85" stroke="#000" stroke-width="0.80"/>
<line x1="556.90" y1="144.91" x2="559.50" y2="144.91" stroke="#000" stroke-width="0.80"/>
<rect x="556.75" y="144.43" width="2.90" height="2.90" fill="#000"/>
<line x1="561.21" y1="153.75" x2="561.21" y2="152.00" stroke="#000" stroke-width="0.80"/>
<line x1="559.91" y1="153.75" x2="562.51" y2="153.75" stroke="#000" stroke-width="0.80"/>
<line x1="559.91" y1="152.00" x2="562.51" y2="152.00" stroke="#000" stroke-width="0.80"/>
<rect x="559.76" y="151.42" width="2.90" height="2.90" fill="#000"/>
<line x1="564.23" y1="153.81" x2="564.23" y2="152.06" stroke="#000" stroke-width="0.80"/>
<line x1="562.93" y1="153.81" x2="565.53" y2="153.81" stroke="#000" stroke-width="0.80"/>
<line x1="562.93" y1="152.06" x2="565.53" y2="152.06" stroke="#000" stroke-width="0.80"/>
<rect x="562.78" y="151.49" width="2.90" height="2.90" fill="#000"/>
<line x1="567.24" y1="154.02" x2="567.24" y2="152.27" stroke="#000" stroke-width="0.80"/>
<line x1="565.94" y1="154.02" x2="568.54" y2="154.02" stroke="#000" stroke-width="0.80"/>
<line x1="565.94" y1="152.27" x2="568.54" y2="152.27" stroke="#000" stroke-width="0.80"/>
<rect x="565.79" y="151.69" width="2.90" height="2.90" fill="#000"/>
<line x1="570.25" y1="155.30" x2="570.25" y2="153.59" stroke="#000" stroke-width="0.80"/>
<line x1="568.95" y1="155.30" x2="571.55" y2="155.30" stroke="#000" stroke-width="0.80"/>
<line x1="568.95" y1="153.59" x2="571.55" y2="153.59" stroke="#000" stroke-width="0.80"/>
<rect x="568.80" y="153.00" width="2.90" height="2.90" fill="#000"/>
<line x1="573.26" y1="158.22" x2="573.26" y2="156.60" stroke="#000" stroke-width="0.80"/>
<line x1="571.96" y1="158.22" x2="574.56" y2="158.22" stroke="#000" stroke-width="0.80"/>
<line x1="571.96" y1="156.60" x2="574.56" y2="156.60" stroke="#000" stroke-width="0.80"/>
<rect x="571.81" y="155.96" width="2.90" height="2.90" fill="#000"/>
<line x1="576.27" y1="160.56" x2="576.27" y2="159.03" stroke="#000" stroke-width="0.80"/>
<line x1="574.97" y1="160.56" x2="577.57" y2="160.56" stroke="#000" stroke-width="0.80"/>
<line x1="574.97" y1="159.03" x2="577.57" y2="159.03" stroke="#000" stroke-width="0.80"/>
<rect x="574.82" y="158.35" width="2.90" height="2.90" fill="#000"/>
<line x1="579.29" y1="161.95" x2="579.29" y2="160.46" stroke="#000" stroke-width="0.80"/>
<line x1="577.99" y1="161.95" x2="580.59" y2="161.95" stroke="#000" stroke-width="0.80"/>
<line x1="577.99" y1="160.46" x2="580.59" y2="160.46" stroke="#000" stroke-width="0.80"/>
<rect x="577.84" y="159.76" width="2.90" height="2.90" fill="#000"/>
<line x1="582.30" y1="165.56" x2="582.30" y2="164.19" stroke="#000" stroke-width="0.80"/>
<line x1="581.00" y1="165.56" x2="583.60" y2="165.56" stroke="#000" stroke-width="0.80"/>
<line x1="581.00" y1="164.19" x2="583.60" y2="164.19" stroke="#000" stroke-width="0.80"/>
<rect x="580.85" y="163.43" width="2.90" height="2.90" fill="#000"/>
<line x1="585.31" y1="167.04" x2="585.31" y2="165.73" stroke="#000" stroke-width="0.80"/>
<line x1="584.01" y1="167.04" x2="586.61" y2="167.04" stroke="#000" stroke-width="0.80"/>
<line x1="584.01" y1="165.73" x2="586.61" y2="165.73" stroke="#000" stroke-width="0.80"/>
<rect x="583.86" y="164.94" width="2.90" height="2.90" fill="#000"/>
<line x1="588.32" y1="167.88" x2="588.32" y2="166.61" stroke="#000" stroke-width="0.80"/>
<line x1="587.02" y1="167.88" x2="589.62" y2="167.88" stroke="#000" stroke-width="0.80"/>
<line x1="587.02" y1="166.61" x2="589.62" y2="166.61" stroke="#000" stroke-width="0.80"/>
<rect x="586.87" y="165.80" width="2.90" height="2.90" fill="#000"/>
<line x1="591.33" y1="167.86" x2="591.33" y2="166.58" stroke="#000" stroke-width="0.80"/>
<line x1="590.03" y1="167.86" x2="592.63" y2="167.86" stroke="#000" stroke-width="0.80"/>
<line x1="590.03" y1="166.58" x2="592.63" y2="166.58" stroke="#000" stroke-width="0.80"/>
<rect x="589.88" y="165.77" width="2.90" height="2.90" fill="#000"/>
<line x1="594.35" y1="170.97" x2="594.35" y2="169.83" stroke="#000" stroke-width="0.80"/>
<line x1="593.05" y1="170.97" x2="595.65" y2="170.97" stroke="#000" stroke-width="0.80"/>
<line x1="593.05" y1="169.83" x2="595.65" y2="169.83" stroke="#000" stroke-width="0.80"/>
<rect x="592.90" y="168.95" width="2.90" height="2.90" fill="#000"/>
<line x1="597.36" y1="171.73" x2="597.36" y2="170.63" stroke="#000" stroke-width="0.80"/>
<line x1="596.06" y1="171.73" x2="598.66" y2="171.73" stroke="#000" stroke-width="0.80"/>
<line x1="596.06" y1="170.63" x2="598.66" y2="170.63" stroke="#000" stroke-width="0.80"/>
<rect x="595.91" y="169.73" width="2.90" height="2.90" fill="#000"/>
<line x1="600.37" y1="172.11" x2="600.37" y2="171.02" stroke="#000" stroke-width="0.80"/>
<line x1="599.07" y1="172.11" x2="601.67" y2="172.11" stroke="#000" stroke-width="0.80"/>
<line x1="599.07" y1="171.02" x2="601.67" y2="171.02" stroke="#000" stroke-width="0.80"/>
<rect x="598.92" y="170.11" width="2.90" height="2.90" fill="#000"/>
<line x1="603.38" y1="172.79" x2="603.38" y2="171.73" stroke="#000" stroke-width="0.80"/>
<line x1="602.08" y1="172.79" x2="604.68" y2="172.79" stroke="#000" stroke-width="0.80"/>
<line x1="602.08" y1="171.73" x2="604.68" y2="171.73" stroke="#000" stroke-width="0.80"/>
<rect x="601.93" y="170.81" width="2.90" height="2.90" fill="#000"/>
<line x1="606.39" y1="173.12" x2="606.39" y2="172.08" stroke="#000" stroke-width="0.80"/>
<line x1="605.09" y1="173.12" x2="607.69" y2="173.12" stroke="#000" stroke-width="0.80"/>
<line x1="605.09" y1="172.08" x2="607.69" y2="172.08" stroke="#000" stroke-width="0.80"/>
<rect x="604.94" y="171.15" width="2.90" height="2.90" fill="#000"/>
<line x1="609.41" y1="173.64" x2="609.41" y2="172.62" stroke="#000" stroke-width="0.80"/>
<line x1="608.11" y1="173.64" x2="610.71" y2="173.64" stroke="#000" stroke-width="0.80"/>
<line x1="608.11" y1="172.62" x2="610.71" y2="172.62" stroke="#000" stroke-width="0.80"/>
<rect x="607.96" y="171.68" width="2.90" height="2.90" fill="#000"/>
<rect x="610.97" y="172.91" width="2.90" height="2.90" fill="#000"/>
<rect x="613.98" y="174.30" width="2.90" height="2.90" fill="#000"/>
<rect x="616.99" y="175.87" width="2.90" height="2.90" fill="#000"/>
<rect x="620.00" y="176.94" width="2.90" height="2.90" fill="#000"/>
<rect x="623.02" y="178.08" width="2.90" height="2.90" fill="#000"/>
<rect x="626.03" y="178.46" width="2.90" height="2.90" fill="#000"/>
<rect x="629.04" y="179.47" width="2.90" height="2.90" fill="#000"/>
<rect x="632.05" y="179.34" width="2.90" height="2.90" fill="#000"/>
<rect x="635.06" y="180.23" width="2.90" height="2.90" fill="#000"/>
<rect x="638.08" y="180.66" width="2.90" height="2.90" fill="#000"/>
<rect x="641.09" y="180.98" width="2.90" height="2.90" fill="#000"/>
<rect x="644.10" y="181.29" width="2.90" height="2.90" fill="#000"/>
<rect x="647.11" y="181.31" width="2.90" height="2.90" fill="#000"/>
</g>
<rect x="382.00" y="107.00" width="301.20" height="76.40" fill="none" stroke="#333333" stroke-width="1.00"/>
<line x1="382.00" y1="183.40" x2="382.00" y2="186.80" stroke="#333333" stroke-width="0.90"/>
<line x1="394.05" y1="183.40" x2="394.05" y2="185.40" stroke="#333333" stroke-width="0.75"/>
<line x1="406.10" y1="183.40" x2="406.10" y2="185.40" stroke="#333333" stroke-width="0.75"/>
<line x1="418.14" y1="183.40" x2="418.14" y2="185.40" stroke="#333333" stroke-width="0.75"/>
<line x1="430.19" y1="183.40" x2="430.19" y2="185.40" stroke="#333333" stroke-width="0.75"/>
<line x1="442.24" y1="183.40" x2="442.24" y2="186.80" stroke="#333333" stroke-width="0.90"/>
<line x1="454.29" y1="183.40" x2="454.29" y2="185.40" stroke="#333333" stroke-width="0.75"/>
<line x1="466.34" y1="183.40" x2="466.34" y2="185.40" stroke="#333333" stroke-width="0.75"/>
<line x1="478.38" y1="183.40" x2="478.38" y2="185.40" stroke="#333333" stroke-width="0.75"/>
<line x1="490.43" y1="183.40" x2="490.43" y2="185.40" stroke="#333333" stroke-width="0.75"/>
<line x1="502.48" y1="183.40" x2="502.48" y2="186.80" stroke="#333333" stroke-width="0.90"/>
<line x1="514.53" y1="183.40" x2="514.53" y2="185.40" stroke="#333333" stroke-width="0.75"/>
<line x1="526.58" y1="183.40" x2="526.58" y2="185.40" stroke="#333333" stroke-width="0.75"/>
<line x1="538.62" y1="183.40" x2="538.62" y2="185.40" stroke="#333333" stroke-width="0.75"/>
<line x1="550.67" y1="183.40" x2="550.67" y2="185.40" stroke="#333333" stroke-width="0.75"/>
<line x1="562.72" y1="183.40" x2="562.72" y2="186.80" stroke="#333333" stroke-width="0.90"/>
<line x1="574.77" y1="183.40" x2="574.77" y2="185.40" stroke="#333333" stroke-width="0.75"/>
<line x1="586.82" y1="183.40" x2="586.82" y2="185.40" stroke="#333333" stroke-width="0.75"/>
<line x1="598.86" y1="183.40" x2="598.86" y2="185.40" stroke="#333333" stroke-width="0.75"/>
<line x1="610.91" y1="183.40" x2="610.91" y2="185.40" stroke="#333333" stroke-width="0.75"/>
<line x1="622.96" y1="183.40" x2="622.96" y2="186.80" stroke="#333333" stroke-width="0.90"/>
<line x1="635.01" y1="183.40" x2="635.01" y2="185.40" stroke="#333333" stroke-width="0.75"/>
<line x1="647.06" y1="183.40" x2="647.06" y2="185.40" stroke="#333333" stroke-width="0.75"/>
<line x1="659.10" y1="183.40" x2="659.10" y2="185.40" stroke="#333333" stroke-width="0.75"/>
<line x1="671.15" y1="183.40" x2="671.15" y2="185.40" stroke="#333333" stroke-width="0.75"/>
<line x1="683.20" y1="183.40" x2="683.20" y2="186.80" stroke="#333333" stroke-width="0.90"/>
<line x1="378.60" y1="183.40" x2="382.00" y2="183.40" stroke="#333333" stroke-width="1.00"/>
<text x="375.70" y="186.55" font-size="8.80" text-anchor="end" fill="#000" stroke="#000" stroke-width="0.12">0</text>
<line x1="378.60" y1="148.55" x2="382.00" y2="148.55" stroke="#333333" stroke-width="1.00"/>
<text x="375.70" y="151.70" font-size="8.80" text-anchor="end" fill="#000" stroke="#000" stroke-width="0.12">500</text>
<line x1="378.60" y1="113.69" x2="382.00" y2="113.69" stroke="#333333" stroke-width="1.00"/>
<text x="375.70" y="116.84" font-size="8.80" text-anchor="end" fill="#000" stroke="#000" stroke-width="0.12">1000</text>
<rect x="457.30" y="199.30" width="24.10" height="76.40" fill="#d3d3d3"/>
<rect x="517.54" y="199.30" width="24.10" height="76.40" fill="#d3d3d3"/>
<defs><clipPath id="bclip2"><rect x="382.00" y="199.30" width="301.20" height="76.40"/></clipPath></defs>
<g clip-path="url(#bclip2)">
<polyline points="440.43,275.63 441.04,275.55 441.64,275.45 442.24,275.33 442.84,275.20 443.44,275.05 444.05,274.83 444.65,274.56 445.25,274.24 445.85,273.85 446.46,273.41 447.06,272.91 447.66,272.37 448.26,271.76 448.87,271.11 449.47,270.40 450.07,269.64 450.67,268.82 451.28,267.70 451.88,266.09 452.48,264.08 453.08,261.79 453.69,259.32 454.29,256.77 454.89,254.25 455.49,251.86 456.10,249.66 456.70,247.47 457.30,245.26 457.90,243.05 458.50,240.83 459.11,238.61 459.71,236.42 460.31,234.24 460.91,232.11 461.52,229.93 462.12,227.64 462.72,225.30 463.32,222.98 463.93,220.75 464.53,218.69 465.13,216.85 465.73,215.32 466.34,214.13 466.94,213.01 467.54,211.93 468.14,210.90 468.75,209.98 469.35,209.19 469.95,208.57 470.55,208.15 471.16,207.96 471.76,207.99 472.36,208.13 472.96,208.36 473.56,208.68 474.17,209.06 474.77,209.50 475.37,209.99 475.97,210.52 476.58,211.07 477.18,211.81 477.78,212.82 478.38,214.05 478.99,215.44 479.59,216.96 480.19,218.55 480.79,220.17 481.40,221.76 482.00,223.34 482.60,225.10 483.20,226.98 483.81,228.93 484.41,230.91 485.01,232.86 485.61,234.73 486.22,236.46 486.82,238.01 487.42,239.42 488.02,240.77 488.62,242.06 489.23,243.31 489.83,244.51 490.43,245.66 491.03,246.78 491.64,247.86 492.24,248.91 492.84,249.94 493.44,250.94 494.05,251.94 494.65,252.93 495.25,253.91 495.85,254.86 496.46,255.78 497.06,256.67 497.66,257.51 498.26,258.29 498.87,259.02 499.47,259.67 500.07,260.26 500.67,260.82 501.28,261.36 501.88,261.88 502.48,262.38 503.08,262.85 503.68,263.30 504.29,263.73 504.89,264.13 505.49,264.50 506.09,264.84 506.70,265.15 507.30,265.43 507.90,265.69 508.50,265.93 509.11,266.15 509.71,266.36 510.31,266.56 510.91,266.74 511.52,266.92 512.12,267.09 512.72,267.25 513.32,267.41 513.93,267.56 514.53,267.72 515.13,267.87 515.73,268.02 516.34,268.18 516.94,268.34 517.54,268.50 518.14,268.67 518.74,268.85 519.35,269.02 519.95,269.20 520.55,269.38 521.15,269.56 521.76,269.74 522.36,269.92 522.96,270.10 523.56,270.28 524.17,270.45 524.77,270.63 525.37,270.80 525.97,270.96 526.58,271.13 527.18,271.28 527.78,271.44 528.38,271.58 528.99,271.72 529.59,271.86 530.19,271.98 530.79,272.10 531.40,272.21 532.00,272.32 532.60,272.43 533.20,272.54 533.80,272.64 534.41,272.74 535.01,272.84 535.61,272.94 536.21,273.04 536.82,273.14 537.42,273.23 538.02,273.32 538.62,273.41 539.23,273.50 539.83,273.59 540.43,273.68 541.03,273.76 541.64,273.84 542.24,273.92 542.84,274.00 543.44,274.08 544.05,274.15 544.65,274.23 545.25,274.30 545.85,274.37 546.46,274.44 547.06,274.50 547.66,274.57 548.26,274.63 548.86,274.69 549.47,274.75 550.07,274.81 550.67,274.87 551.27,274.92 551.88,274.98 552.48,275.03 553.08,275.08 553.68,275.14 554.29,275.19 554.89,275.25 555.49,275.30 556.09,275.35 556.70,275.41 557.30,275.45 557.90,275.50" fill="none" stroke="#c8901a" stroke-width="2.00" stroke-dasharray="6.0 2.6" stroke-linejoin="round"/>
<polyline points="478.99,275.67 479.59,275.60 480.19,275.49 480.79,275.37 481.40,275.23 482.00,275.09 482.60,274.94 483.20,274.77 483.81,274.58 484.41,274.37 485.01,274.14 485.61,273.90 486.22,273.64 486.82,273.37 487.42,273.08 488.02,272.78 488.62,272.46 489.23,272.12 489.83,271.77 490.43,271.40 491.03,271.03 491.64,270.63 492.24,270.23 492.84,269.81 493.44,269.38 494.05,268.93 494.65,268.48 495.25,267.96 495.85,267.36 496.46,266.69 497.06,265.97 497.66,265.19 498.26,264.37 498.87,263.51 499.47,262.63 500.07,261.73 500.67,260.82 501.28,259.91 501.88,259.00 502.48,258.12 503.08,257.21 503.68,256.27 504.29,255.31 504.89,254.32 505.49,253.31 506.09,252.29 506.70,251.27 507.30,250.24 507.90,249.20 508.50,248.17 509.11,247.15 509.71,246.15 510.31,245.15 510.91,244.15 511.52,243.15 512.12,242.14 512.72,241.14 513.32,240.13 513.93,239.13 514.53,238.13 515.13,237.14 515.73,236.16 516.34,235.19 516.94,234.23 517.54,233.29 518.14,232.31 518.74,231.15 519.35,230.03 519.95,229.18 520.55,228.84 521.15,228.94 521.76,229.23 522.36,229.67 522.96,230.24 523.56,230.89 524.17,231.60 524.77,232.34 525.37,233.07 525.97,233.79 526.58,234.59 527.18,235.48 527.78,236.45 528.38,237.49 528.99,238.59 529.59,239.74 530.19,240.94 530.79,242.16 531.40,243.40 532.00,244.65 532.60,245.90 533.20,247.13 533.80,248.35 534.41,249.53 535.01,250.67 535.61,251.76 536.21,252.78 536.82,253.77 537.42,254.76 538.02,255.74 538.62,256.71 539.23,257.67 539.83,258.62 540.43,259.55 541.03,260.45 541.64,261.33 542.24,262.17 542.84,262.99 543.44,263.76 544.05,264.49 544.65,265.20 545.25,265.90 545.85,266.59 546.46,267.26 547.06,267.92 547.66,268.55 548.26,269.16 548.86,269.74 549.47,270.29 550.07,270.81 550.67,271.29 551.27,271.73 551.88,272.13 552.48,272.51 553.08,272.88 553.68,273.24 554.29,273.58 554.89,273.90 555.49,274.20 556.09,274.48 556.70,274.72 557.30,274.92 557.90,275.09 558.50,275.21 559.11,275.32 559.71,275.42 560.31,275.51 560.91,275.59" fill="none" stroke="#c8901a" stroke-width="2.00" stroke-dasharray="6.0 2.6" stroke-linejoin="round"/>
<polyline points="382.00,273.66 382.60,273.67 383.20,273.68 383.81,273.69 384.41,273.70 385.01,273.71 385.61,273.72 386.22,273.72 386.82,273.73 387.42,273.74 388.02,273.75 388.63,273.76 389.23,273.77 389.83,273.77 390.43,273.78 391.04,273.79 391.64,273.80 392.24,273.81 392.84,273.81 393.45,273.82 394.05,273.83 394.65,273.84 395.25,273.85 395.86,273.85 396.46,273.86 397.06,273.87 397.66,273.87 398.26,273.88 398.87,273.89 399.47,273.90 400.07,273.90 400.67,273.91 401.28,273.92 401.88,273.92 402.48,273.93 403.08,273.94 403.69,273.94 404.29,273.95 404.89,273.96 405.49,273.96 406.10,273.97 406.70,273.98 407.30,273.98 407.90,273.99 408.51,273.99 409.11,274.00 409.71,274.01 410.31,274.01 410.92,274.02 411.52,274.02 412.12,274.03 412.72,274.03 413.32,274.04 413.93,274.04 414.53,274.05 415.13,274.05 415.73,274.06 416.34,274.06 416.94,274.07 417.54,274.07 418.14,274.08 418.75,274.08 419.35,274.09 419.95,274.09 420.55,274.10 421.16,274.10 421.76,274.10 422.36,274.11 422.96,274.11 423.57,274.11 424.17,274.12 424.77,274.12 425.37,274.12 425.98,274.13 426.58,274.13 427.18,274.13 427.78,274.14 428.38,274.14 428.99,274.14 429.59,274.15 430.19,274.15 430.79,274.15 431.40,274.15 432.00,274.15 432.60,274.16 433.20,274.16 433.81,274.16 434.41,274.16 435.01,274.16 435.61,274.16 436.22,274.17 436.82,274.17 437.42,274.17 438.02,274.17 438.63,274.17 439.23,274.17 439.83,274.15 440.43,274.10 441.04,274.02 441.64,273.92 442.24,273.80 442.84,273.68 443.44,273.52 444.05,273.31 444.65,273.03 445.25,272.71 445.85,272.32 446.46,271.88 447.06,271.38 447.66,270.83 448.26,270.23 448.87,269.57 449.47,268.86 450.07,268.10 450.67,267.29 451.28,266.17 451.88,264.55 452.48,262.54 453.08,260.25 453.69,257.78 454.29,255.22 454.89,252.70 455.49,250.31 456.10,248.11 456.70,245.92 457.30,243.71 457.90,241.49 458.50,239.27 459.11,237.05 459.71,234.85 460.31,232.68 460.91,230.54 461.52,228.36 462.12,226.07 462.72,223.72 463.32,221.40 463.93,219.17 464.53,217.10 465.13,215.27 465.73,213.73 466.34,212.54 466.94,211.42 467.54,210.33 468.14,209.30 468.75,208.38 469.35,207.58 469.95,206.96 470.55,206.54 471.16,206.35 471.76,206.38 472.36,206.51 472.96,206.74 473.56,207.05 474.17,207.43 474.77,207.87 475.37,208.36 475.97,208.88 476.58,209.43 477.18,210.16 477.78,211.17 478.38,212.39 478.99,213.76 479.59,215.20 480.19,216.68 480.79,218.16 481.40,219.61 482.00,221.06 482.60,222.66 483.20,224.36 483.81,226.12 484.41,227.89 485.01,229.61 485.61,231.23 486.22,232.71 486.82,233.98 487.42,235.09 488.02,236.14 488.62,237.11 489.23,238.01 489.83,238.86 490.43,239.65 491.03,240.38 491.64,241.07 492.24,241.71 492.84,242.31 493.44,242.88 494.05,243.43 494.65,243.96 495.25,244.41 495.85,244.77 496.46,245.02 497.06,245.18 497.66,245.24 498.26,245.20 498.87,245.06 499.47,244.83 500.07,244.51 500.67,244.16 501.28,243.79 501.88,243.41 502.48,243.01 503.08,242.58 503.68,242.09 504.29,241.54 504.89,240.95 505.49,240.31 506.09,239.63 506.70,238.92 507.30,238.16 507.90,237.38 508.50,236.59 509.11,235.79 509.71,234.99 510.31,234.19 510.91,233.37 511.52,232.54 512.12,231.70 512.72,230.85 513.32,230.00 513.93,229.15 514.53,228.30 515.13,227.46 515.73,226.62 516.34,225.81 516.94,225.00 517.54,224.22 518.14,223.41 518.74,222.42 519.35,221.47 519.95,220.80 520.55,220.64 521.15,220.92 521.76,221.38 522.36,222.00 522.96,222.74 523.56,223.56 524.17,224.45 524.77,225.35 525.37,226.25 525.97,227.13 526.58,228.09 527.18,229.13 527.78,230.25 528.38,231.44 528.99,232.68 529.59,233.96 530.19,235.27 530.79,236.61 531.40,237.96 532.00,239.32 532.60,240.67 533.20,242.01 533.80,243.32 534.41,244.61 535.01,245.84 535.61,247.03 536.21,248.14 536.82,249.23 537.42,250.30 538.02,251.38 538.62,252.44 539.23,253.49 539.83,254.52 540.43,255.53 541.03,256.51 541.64,257.47 542.24,258.39 542.84,259.28 543.44,260.13 544.05,260.94 544.65,261.72 545.25,262.48 545.85,263.24 546.46,263.98 547.06,264.70 547.66,265.39 548.26,266.06 548.86,266.71 549.47,267.32 550.07,267.89 550.67,268.43 551.27,268.93 551.88,269.38 552.48,269.81 553.08,270.23 553.68,270.64 554.29,271.04 554.89,271.41 555.49,271.77 556.09,272.09 556.70,272.38 557.30,272.64 557.90,272.85 558.50,273.02 559.11,273.17 559.71,273.30 560.31,273.43 560.91,273.53 561.52,273.61 562.12,273.67 562.72,273.69 563.32,273.69 563.92,273.70 564.53,273.71 565.13,273.71 565.73,273.72 566.33,273.73 566.94,273.73 567.54,273.74 568.14,273.75 568.74,273.76 569.35,273.77 569.95,273.77 570.55,273.78 571.15,273.79 571.76,273.80 572.36,273.81 572.96,273.82 573.56,273.83 574.17,273.84 574.77,273.85 575.37,273.86 575.97,273.87 576.58,273.89 577.18,273.90 577.78,273.91 578.38,273.92 578.98,273.93 579.59,273.94 580.19,273.95 580.79,273.96 581.39,273.97 582.00,273.99 582.60,274.00 583.20,274.01 583.80,274.02 584.41,274.03 585.01,274.04 585.61,274.05 586.21,274.06 586.82,274.07 587.42,274.09 588.02,274.10 588.62,274.11 589.23,274.12 589.83,274.13 590.43,274.14 591.03,274.15 591.64,274.15 592.24,274.16 592.84,274.17 593.44,274.18 594.04,274.19 594.65,274.20 595.25,274.21 595.85,274.22 596.45,274.22 597.06,274.23 597.66,274.24 598.26,274.25 598.86,274.26 599.47,274.27 600.07,274.28 600.67,274.29 601.27,274.30 601.88,274.31 602.48,274.32 603.08,274.33 603.68,274.34 604.29,274.35 604.89,274.35 605.49,274.36 606.09,274.37 606.70,274.38 607.30,274.39 607.90,274.40 608.50,274.41 609.10,274.42 609.71,274.43 610.31,274.44 610.91,274.45 611.51,274.46 612.12,274.47 612.72,274.48 613.32,274.49 613.92,274.50 614.53,274.51 615.13,274.51 615.73,274.52 616.33,274.53 616.94,274.54 617.54,274.55 618.14,274.56 618.74,274.57 619.35,274.58 619.95,274.59 620.55,274.60 621.15,274.61 621.76,274.61 622.36,274.62 622.96,274.63 623.56,274.64 624.16,274.65 624.77,274.66 625.37,274.66 625.97,274.67 626.57,274.68 627.18,274.69 627.78,274.70 628.38,274.70 628.98,274.71 629.59,274.72 630.19,274.73 630.79,274.73 631.39,274.74 632.00,274.75 632.60,274.76 633.20,274.76 633.80,274.77 634.41,274.78 635.01,274.78 635.61,274.79 636.21,274.80 636.82,274.80 637.42,274.81 638.02,274.82 638.62,274.82 639.22,274.83 639.83,274.83 640.43,274.84 641.03,274.85 641.63,274.85 642.24,274.86 642.84,274.87 643.44,274.87 644.04,274.88 644.65,274.88 645.25,274.89 645.85,274.90 646.45,274.90 647.06,274.91 647.66,274.91 648.26,274.92 648.86,274.93 649.47,274.93 650.07,274.94 650.67,274.94 651.27,274.95 651.88,274.95 652.48,274.96 653.08,274.97 653.68,274.97 654.28,274.98 654.89,274.98 655.49,274.99 656.09,274.99 656.69,275.00 657.30,275.00 657.90,275.01 658.50,275.01 659.10,275.02 659.71,275.03 660.31,275.03 660.91,275.04 661.51,275.04 662.12,275.05 662.72,275.05 663.32,275.06 663.92,275.06 664.53,275.07 665.13,275.07 665.73,275.08 666.33,275.08 666.94,275.08 667.54,275.09 668.14,275.09 668.74,275.10 669.34,275.10 669.95,275.11 670.55,275.11 671.15,275.12 671.75,275.12 672.36,275.12 672.96,275.13 673.56,275.13 674.16,275.14 674.77,275.14 675.37,275.14 675.97,275.15 676.57,275.15 677.18,275.16 677.78,275.16 678.38,275.16 678.98,275.17 679.59,275.17 680.19,275.17 680.79,275.18 681.39,275.18 682.00,275.18 682.60,275.19 683.20,275.19" fill="none" stroke="#808080" stroke-width="1.90" stroke-linejoin="round"/>
<line x1="383.51" y1="274.31" x2="383.51" y2="272.46" stroke="#000" stroke-width="0.80"/>
<line x1="382.01" y1="274.31" x2="385.01" y2="274.31" stroke="#000" stroke-width="0.80"/>
<line x1="382.01" y1="272.46" x2="385.01" y2="272.46" stroke="#000" stroke-width="0.80"/>
<rect x="382.41" y="272.29" width="2.20" height="2.20" fill="#000"/>
<line x1="386.52" y1="275.09" x2="386.52" y2="273.71" stroke="#000" stroke-width="0.80"/>
<line x1="385.02" y1="275.09" x2="388.02" y2="275.09" stroke="#000" stroke-width="0.80"/>
<line x1="385.02" y1="273.71" x2="388.02" y2="273.71" stroke="#000" stroke-width="0.80"/>
<rect x="385.42" y="273.30" width="2.20" height="2.20" fill="#000"/>
<line x1="389.53" y1="274.41" x2="389.53" y2="272.61" stroke="#000" stroke-width="0.80"/>
<line x1="388.03" y1="274.41" x2="391.03" y2="274.41" stroke="#000" stroke-width="0.80"/>
<line x1="388.03" y1="272.61" x2="391.03" y2="272.61" stroke="#000" stroke-width="0.80"/>
<rect x="388.43" y="272.41" width="2.20" height="2.20" fill="#000"/>
<line x1="392.54" y1="274.12" x2="392.54" y2="272.19" stroke="#000" stroke-width="0.80"/>
<line x1="391.04" y1="274.12" x2="394.04" y2="274.12" stroke="#000" stroke-width="0.80"/>
<line x1="391.04" y1="272.19" x2="394.04" y2="272.19" stroke="#000" stroke-width="0.80"/>
<rect x="391.44" y="272.05" width="2.20" height="2.20" fill="#000"/>
<line x1="395.55" y1="274.34" x2="395.55" y2="272.51" stroke="#000" stroke-width="0.80"/>
<line x1="394.05" y1="274.34" x2="397.05" y2="274.34" stroke="#000" stroke-width="0.80"/>
<line x1="394.05" y1="272.51" x2="397.05" y2="272.51" stroke="#000" stroke-width="0.80"/>
<rect x="394.45" y="272.32" width="2.20" height="2.20" fill="#000"/>
<line x1="398.57" y1="274.42" x2="398.57" y2="272.64" stroke="#000" stroke-width="0.80"/>
<line x1="397.07" y1="274.42" x2="400.07" y2="274.42" stroke="#000" stroke-width="0.80"/>
<line x1="397.07" y1="272.64" x2="400.07" y2="272.64" stroke="#000" stroke-width="0.80"/>
<rect x="397.47" y="272.43" width="2.20" height="2.20" fill="#000"/>
<line x1="401.58" y1="274.14" x2="401.58" y2="272.22" stroke="#000" stroke-width="0.80"/>
<line x1="400.08" y1="274.14" x2="403.08" y2="274.14" stroke="#000" stroke-width="0.80"/>
<line x1="400.08" y1="272.22" x2="403.08" y2="272.22" stroke="#000" stroke-width="0.80"/>
<rect x="400.48" y="272.08" width="2.20" height="2.20" fill="#000"/>
<line x1="404.59" y1="274.46" x2="404.59" y2="272.70" stroke="#000" stroke-width="0.80"/>
<line x1="403.09" y1="274.46" x2="406.09" y2="274.46" stroke="#000" stroke-width="0.80"/>
<line x1="403.09" y1="272.70" x2="406.09" y2="272.70" stroke="#000" stroke-width="0.80"/>
<rect x="403.49" y="272.48" width="2.20" height="2.20" fill="#000"/>
<line x1="407.60" y1="274.39" x2="407.60" y2="272.59" stroke="#000" stroke-width="0.80"/>
<line x1="406.10" y1="274.39" x2="409.10" y2="274.39" stroke="#000" stroke-width="0.80"/>
<line x1="406.10" y1="272.59" x2="409.10" y2="272.59" stroke="#000" stroke-width="0.80"/>
<rect x="406.50" y="272.39" width="2.20" height="2.20" fill="#000"/>
<line x1="410.61" y1="274.58" x2="410.61" y2="272.88" stroke="#000" stroke-width="0.80"/>
<line x1="409.11" y1="274.58" x2="412.11" y2="274.58" stroke="#000" stroke-width="0.80"/>
<line x1="409.11" y1="272.88" x2="412.11" y2="272.88" stroke="#000" stroke-width="0.80"/>
<rect x="409.51" y="272.63" width="2.20" height="2.20" fill="#000"/>
<line x1="413.63" y1="274.27" x2="413.63" y2="272.41" stroke="#000" stroke-width="0.80"/>
<line x1="412.13" y1="274.27" x2="415.13" y2="274.27" stroke="#000" stroke-width="0.80"/>
<line x1="412.13" y1="272.41" x2="415.13" y2="272.41" stroke="#000" stroke-width="0.80"/>
<rect x="412.53" y="272.24" width="2.20" height="2.20" fill="#000"/>
<line x1="416.64" y1="274.90" x2="416.64" y2="273.38" stroke="#000" stroke-width="0.80"/>
<line x1="415.14" y1="274.90" x2="418.14" y2="274.90" stroke="#000" stroke-width="0.80"/>
<line x1="415.14" y1="273.38" x2="418.14" y2="273.38" stroke="#000" stroke-width="0.80"/>
<rect x="415.54" y="273.04" width="2.20" height="2.20" fill="#000"/>
<line x1="419.65" y1="274.21" x2="419.65" y2="272.31" stroke="#000" stroke-width="0.80"/>
<line x1="418.15" y1="274.21" x2="421.15" y2="274.21" stroke="#000" stroke-width="0.80"/>
<line x1="418.15" y1="272.31" x2="421.15" y2="272.31" stroke="#000" stroke-width="0.80"/>
<rect x="418.55" y="272.16" width="2.20" height="2.20" fill="#000"/>
<line x1="422.66" y1="274.73" x2="422.66" y2="273.11" stroke="#000" stroke-width="0.80"/>
<line x1="421.16" y1="274.73" x2="424.16" y2="274.73" stroke="#000" stroke-width="0.80"/>
<line x1="421.16" y1="273.11" x2="424.16" y2="273.11" stroke="#000" stroke-width="0.80"/>
<rect x="421.56" y="272.82" width="2.20" height="2.20" fill="#000"/>
<line x1="425.67" y1="274.96" x2="425.67" y2="273.48" stroke="#000" stroke-width="0.80"/>
<line x1="424.17" y1="274.96" x2="427.17" y2="274.96" stroke="#000" stroke-width="0.80"/>
<line x1="424.17" y1="273.48" x2="427.17" y2="273.48" stroke="#000" stroke-width="0.80"/>
<rect x="424.57" y="273.12" width="2.20" height="2.20" fill="#000"/>
<line x1="428.69" y1="274.38" x2="428.69" y2="272.57" stroke="#000" stroke-width="0.80"/>
<line x1="427.19" y1="274.38" x2="430.19" y2="274.38" stroke="#000" stroke-width="0.80"/>
<line x1="427.19" y1="272.57" x2="430.19" y2="272.57" stroke="#000" stroke-width="0.80"/>
<rect x="427.59" y="272.38" width="2.20" height="2.20" fill="#000"/>
<line x1="431.70" y1="273.83" x2="431.70" y2="271.77" stroke="#000" stroke-width="0.80"/>
<line x1="430.20" y1="273.83" x2="433.20" y2="273.83" stroke="#000" stroke-width="0.80"/>
<line x1="430.20" y1="271.77" x2="433.20" y2="271.77" stroke="#000" stroke-width="0.80"/>
<rect x="430.60" y="271.70" width="2.20" height="2.20" fill="#000"/>
<line x1="434.71" y1="274.14" x2="434.71" y2="272.21" stroke="#000" stroke-width="0.80"/>
<line x1="433.21" y1="274.14" x2="436.21" y2="274.14" stroke="#000" stroke-width="0.80"/>
<line x1="433.21" y1="272.21" x2="436.21" y2="272.21" stroke="#000" stroke-width="0.80"/>
<rect x="433.61" y="272.07" width="2.20" height="2.20" fill="#000"/>
<line x1="437.72" y1="274.45" x2="437.72" y2="272.68" stroke="#000" stroke-width="0.80"/>
<line x1="436.22" y1="274.45" x2="439.22" y2="274.45" stroke="#000" stroke-width="0.80"/>
<line x1="436.22" y1="272.68" x2="439.22" y2="272.68" stroke="#000" stroke-width="0.80"/>
<rect x="436.62" y="272.47" width="2.20" height="2.20" fill="#000"/>
<line x1="440.73" y1="272.94" x2="440.73" y2="270.52" stroke="#000" stroke-width="0.80"/>
<line x1="439.23" y1="272.94" x2="442.23" y2="272.94" stroke="#000" stroke-width="0.80"/>
<line x1="439.23" y1="270.52" x2="442.23" y2="270.52" stroke="#000" stroke-width="0.80"/>
<rect x="439.63" y="270.63" width="2.20" height="2.20" fill="#000"/>
<line x1="443.75" y1="272.86" x2="443.75" y2="270.41" stroke="#000" stroke-width="0.80"/>
<line x1="442.25" y1="272.86" x2="445.25" y2="272.86" stroke="#000" stroke-width="0.80"/>
<line x1="442.25" y1="270.41" x2="445.25" y2="270.41" stroke="#000" stroke-width="0.80"/>
<rect x="442.65" y="270.53" width="2.20" height="2.20" fill="#000"/>
<line x1="446.76" y1="270.97" x2="446.76" y2="267.93" stroke="#000" stroke-width="0.80"/>
<line x1="445.26" y1="270.97" x2="448.26" y2="270.97" stroke="#000" stroke-width="0.80"/>
<line x1="445.26" y1="267.93" x2="448.26" y2="267.93" stroke="#000" stroke-width="0.80"/>
<rect x="445.66" y="268.35" width="2.20" height="2.20" fill="#000"/>
<line x1="449.77" y1="266.89" x2="449.77" y2="262.90" stroke="#000" stroke-width="0.80"/>
<line x1="448.27" y1="266.89" x2="451.27" y2="266.89" stroke="#000" stroke-width="0.80"/>
<line x1="448.27" y1="262.90" x2="451.27" y2="262.90" stroke="#000" stroke-width="0.80"/>
<rect x="448.67" y="263.80" width="2.20" height="2.20" fill="#000"/>
<line x1="452.78" y1="263.60" x2="452.78" y2="259.00" stroke="#000" stroke-width="0.80"/>
<line x1="451.28" y1="263.60" x2="454.28" y2="263.60" stroke="#000" stroke-width="0.80"/>
<line x1="451.28" y1="259.00" x2="454.28" y2="259.00" stroke="#000" stroke-width="0.80"/>
<rect x="451.68" y="260.20" width="2.20" height="2.20" fill="#000"/>
<line x1="455.79" y1="251.91" x2="455.79" y2="245.61" stroke="#000" stroke-width="0.80"/>
<line x1="454.29" y1="251.91" x2="457.29" y2="251.91" stroke="#000" stroke-width="0.80"/>
<line x1="454.29" y1="245.61" x2="457.29" y2="245.61" stroke="#000" stroke-width="0.80"/>
<rect x="454.69" y="247.66" width="2.20" height="2.20" fill="#000"/>
<line x1="458.81" y1="243.97" x2="458.81" y2="236.76" stroke="#000" stroke-width="0.80"/>
<line x1="457.31" y1="243.97" x2="460.31" y2="243.97" stroke="#000" stroke-width="0.80"/>
<line x1="457.31" y1="236.76" x2="460.31" y2="236.76" stroke="#000" stroke-width="0.80"/>
<rect x="457.71" y="239.27" width="2.20" height="2.20" fill="#000"/>
<line x1="461.82" y1="234.28" x2="461.82" y2="226.09" stroke="#000" stroke-width="0.80"/>
<line x1="460.32" y1="234.28" x2="463.32" y2="234.28" stroke="#000" stroke-width="0.80"/>
<line x1="460.32" y1="226.09" x2="463.32" y2="226.09" stroke="#000" stroke-width="0.80"/>
<rect x="460.72" y="229.08" width="2.20" height="2.20" fill="#000"/>
<line x1="464.83" y1="228.20" x2="464.83" y2="219.47" stroke="#000" stroke-width="0.80"/>
<line x1="463.33" y1="228.20" x2="466.33" y2="228.20" stroke="#000" stroke-width="0.80"/>
<line x1="463.33" y1="219.47" x2="466.33" y2="219.47" stroke="#000" stroke-width="0.80"/>
<rect x="463.73" y="222.73" width="2.20" height="2.20" fill="#000"/>
<line x1="467.84" y1="222.03" x2="467.84" y2="212.76" stroke="#000" stroke-width="0.80"/>
<line x1="466.34" y1="222.03" x2="469.34" y2="222.03" stroke="#000" stroke-width="0.80"/>
<line x1="466.34" y1="212.76" x2="469.34" y2="212.76" stroke="#000" stroke-width="0.80"/>
<rect x="466.74" y="216.30" width="2.20" height="2.20" fill="#000"/>
<line x1="470.85" y1="215.80" x2="470.85" y2="206.03" stroke="#000" stroke-width="0.80"/>
<line x1="469.35" y1="215.80" x2="472.35" y2="215.80" stroke="#000" stroke-width="0.80"/>
<line x1="469.35" y1="206.03" x2="472.35" y2="206.03" stroke="#000" stroke-width="0.80"/>
<rect x="469.75" y="209.82" width="2.20" height="2.20" fill="#000"/>
<line x1="473.87" y1="211.15" x2="473.87" y2="201.02" stroke="#000" stroke-width="0.80"/>
<line x1="472.37" y1="211.15" x2="475.37" y2="211.15" stroke="#000" stroke-width="0.80"/>
<line x1="472.37" y1="201.02" x2="475.37" y2="201.02" stroke="#000" stroke-width="0.80"/>
<rect x="472.77" y="204.98" width="2.20" height="2.20" fill="#000"/>
<line x1="476.88" y1="213.32" x2="476.88" y2="203.37" stroke="#000" stroke-width="0.80"/>
<line x1="475.38" y1="213.32" x2="478.38" y2="213.32" stroke="#000" stroke-width="0.80"/>
<line x1="475.38" y1="203.37" x2="478.38" y2="203.37" stroke="#000" stroke-width="0.80"/>
<rect x="475.78" y="207.25" width="2.20" height="2.20" fill="#000"/>
<line x1="479.89" y1="221.58" x2="479.89" y2="212.28" stroke="#000" stroke-width="0.80"/>
<line x1="478.39" y1="221.58" x2="481.39" y2="221.58" stroke="#000" stroke-width="0.80"/>
<line x1="478.39" y1="212.28" x2="481.39" y2="212.28" stroke="#000" stroke-width="0.80"/>
<rect x="478.79" y="215.83" width="2.20" height="2.20" fill="#000"/>
<line x1="482.90" y1="225.02" x2="482.90" y2="216.01" stroke="#000" stroke-width="0.80"/>
<line x1="481.40" y1="225.02" x2="484.40" y2="225.02" stroke="#000" stroke-width="0.80"/>
<line x1="481.40" y1="216.01" x2="484.40" y2="216.01" stroke="#000" stroke-width="0.80"/>
<rect x="481.80" y="219.41" width="2.20" height="2.20" fill="#000"/>
<line x1="485.91" y1="234.22" x2="485.91" y2="226.03" stroke="#000" stroke-width="0.80"/>
<line x1="484.41" y1="234.22" x2="487.41" y2="234.22" stroke="#000" stroke-width="0.80"/>
<line x1="484.41" y1="226.03" x2="487.41" y2="226.03" stroke="#000" stroke-width="0.80"/>
<rect x="484.81" y="229.03" width="2.20" height="2.20" fill="#000"/>
<line x1="488.93" y1="238.83" x2="488.93" y2="231.09" stroke="#000" stroke-width="0.80"/>
<line x1="487.43" y1="238.83" x2="490.43" y2="238.83" stroke="#000" stroke-width="0.80"/>
<line x1="487.43" y1="231.09" x2="490.43" y2="231.09" stroke="#000" stroke-width="0.80"/>
<rect x="487.83" y="233.86" width="2.20" height="2.20" fill="#000"/>
<line x1="491.94" y1="234.95" x2="491.94" y2="226.83" stroke="#000" stroke-width="0.80"/>
<line x1="490.44" y1="234.95" x2="493.44" y2="234.95" stroke="#000" stroke-width="0.80"/>
<line x1="490.44" y1="226.83" x2="493.44" y2="226.83" stroke="#000" stroke-width="0.80"/>
<rect x="490.84" y="229.79" width="2.20" height="2.20" fill="#000"/>
<line x1="494.95" y1="240.42" x2="494.95" y2="232.84" stroke="#000" stroke-width="0.80"/>
<line x1="493.45" y1="240.42" x2="496.45" y2="240.42" stroke="#000" stroke-width="0.80"/>
<line x1="493.45" y1="232.84" x2="496.45" y2="232.84" stroke="#000" stroke-width="0.80"/>
<rect x="493.85" y="235.53" width="2.20" height="2.20" fill="#000"/>
<line x1="497.96" y1="247.42" x2="497.96" y2="240.59" stroke="#000" stroke-width="0.80"/>
<line x1="496.46" y1="247.42" x2="499.46" y2="247.42" stroke="#000" stroke-width="0.80"/>
<line x1="496.46" y1="240.59" x2="499.46" y2="240.59" stroke="#000" stroke-width="0.80"/>
<rect x="496.86" y="242.90" width="2.20" height="2.20" fill="#000"/>
<line x1="500.97" y1="246.47" x2="500.97" y2="239.53" stroke="#000" stroke-width="0.80"/>
<line x1="499.47" y1="246.47" x2="502.47" y2="246.47" stroke="#000" stroke-width="0.80"/>
<line x1="499.47" y1="239.53" x2="502.47" y2="239.53" stroke="#000" stroke-width="0.80"/>
<rect x="499.87" y="241.90" width="2.20" height="2.20" fill="#000"/>
<line x1="503.99" y1="246.20" x2="503.99" y2="239.23" stroke="#000" stroke-width="0.80"/>
<line x1="502.49" y1="246.20" x2="505.49" y2="246.20" stroke="#000" stroke-width="0.80"/>
<line x1="502.49" y1="239.23" x2="505.49" y2="239.23" stroke="#000" stroke-width="0.80"/>
<rect x="502.89" y="241.61" width="2.20" height="2.20" fill="#000"/>
<line x1="507.00" y1="247.67" x2="507.00" y2="240.87" stroke="#000" stroke-width="0.80"/>
<line x1="505.50" y1="247.67" x2="508.50" y2="247.67" stroke="#000" stroke-width="0.80"/>
<line x1="505.50" y1="240.87" x2="508.50" y2="240.87" stroke="#000" stroke-width="0.80"/>
<rect x="505.90" y="243.17" width="2.20" height="2.20" fill="#000"/>
<line x1="510.01" y1="243.14" x2="510.01" y2="235.84" stroke="#000" stroke-width="0.80"/>
<line x1="508.51" y1="243.14" x2="511.51" y2="243.14" stroke="#000" stroke-width="0.80"/>
<line x1="508.51" y1="235.84" x2="511.51" y2="235.84" stroke="#000" stroke-width="0.80"/>
<rect x="508.91" y="238.39" width="2.20" height="2.20" fill="#000"/>
<line x1="513.02" y1="237.32" x2="513.02" y2="229.43" stroke="#000" stroke-width="0.80"/>
<line x1="511.52" y1="237.32" x2="514.52" y2="237.32" stroke="#000" stroke-width="0.80"/>
<line x1="511.52" y1="229.43" x2="514.52" y2="229.43" stroke="#000" stroke-width="0.80"/>
<rect x="511.92" y="232.27" width="2.20" height="2.20" fill="#000"/>
<line x1="516.03" y1="234.98" x2="516.03" y2="226.86" stroke="#000" stroke-width="0.80"/>
<line x1="514.53" y1="234.98" x2="517.53" y2="234.98" stroke="#000" stroke-width="0.80"/>
<line x1="514.53" y1="226.86" x2="517.53" y2="226.86" stroke="#000" stroke-width="0.80"/>
<rect x="514.93" y="229.82" width="2.20" height="2.20" fill="#000"/>
<line x1="519.05" y1="232.28" x2="519.05" y2="223.91" stroke="#000" stroke-width="0.80"/>
<line x1="517.55" y1="232.28" x2="520.55" y2="232.28" stroke="#000" stroke-width="0.80"/>
<line x1="517.55" y1="223.91" x2="520.55" y2="223.91" stroke="#000" stroke-width="0.80"/>
<rect x="517.95" y="227.00" width="2.20" height="2.20" fill="#000"/>
<line x1="522.06" y1="228.72" x2="522.06" y2="220.03" stroke="#000" stroke-width="0.80"/>
<line x1="520.56" y1="228.72" x2="523.56" y2="228.72" stroke="#000" stroke-width="0.80"/>
<line x1="520.56" y1="220.03" x2="523.56" y2="220.03" stroke="#000" stroke-width="0.80"/>
<rect x="520.96" y="223.28" width="2.20" height="2.20" fill="#000"/>
<line x1="525.07" y1="228.82" x2="525.07" y2="220.13" stroke="#000" stroke-width="0.80"/>
<line x1="523.57" y1="228.82" x2="526.57" y2="228.82" stroke="#000" stroke-width="0.80"/>
<line x1="523.57" y1="220.13" x2="526.57" y2="220.13" stroke="#000" stroke-width="0.80"/>
<rect x="523.97" y="223.37" width="2.20" height="2.20" fill="#000"/>
<line x1="528.08" y1="237.07" x2="528.08" y2="229.16" stroke="#000" stroke-width="0.80"/>
<line x1="526.58" y1="237.07" x2="529.58" y2="237.07" stroke="#000" stroke-width="0.80"/>
<line x1="526.58" y1="229.16" x2="529.58" y2="229.16" stroke="#000" stroke-width="0.80"/>
<rect x="526.98" y="232.02" width="2.20" height="2.20" fill="#000"/>
<line x1="531.09" y1="239.78" x2="531.09" y2="232.13" stroke="#000" stroke-width="0.80"/>
<line x1="529.59" y1="239.78" x2="532.59" y2="239.78" stroke="#000" stroke-width="0.80"/>
<line x1="529.59" y1="232.13" x2="532.59" y2="232.13" stroke="#000" stroke-width="0.80"/>
<rect x="529.99" y="234.86" width="2.20" height="2.20" fill="#000"/>
<line x1="534.11" y1="244.25" x2="534.11" y2="237.07" stroke="#000" stroke-width="0.80"/>
<line x1="532.61" y1="244.25" x2="535.61" y2="244.25" stroke="#000" stroke-width="0.80"/>
<line x1="532.61" y1="237.07" x2="535.61" y2="237.07" stroke="#000" stroke-width="0.80"/>
<rect x="533.01" y="239.56" width="2.20" height="2.20" fill="#000"/>
<line x1="537.12" y1="249.63" x2="537.12" y2="243.05" stroke="#000" stroke-width="0.80"/>
<line x1="535.62" y1="249.63" x2="538.62" y2="249.63" stroke="#000" stroke-width="0.80"/>
<line x1="535.62" y1="243.05" x2="538.62" y2="243.05" stroke="#000" stroke-width="0.80"/>
<rect x="536.02" y="245.24" width="2.20" height="2.20" fill="#000"/>
<line x1="540.13" y1="254.12" x2="540.13" y2="248.10" stroke="#000" stroke-width="0.80"/>
<line x1="538.63" y1="254.12" x2="541.63" y2="254.12" stroke="#000" stroke-width="0.80"/>
<line x1="538.63" y1="248.10" x2="541.63" y2="248.10" stroke="#000" stroke-width="0.80"/>
<rect x="539.03" y="250.01" width="2.20" height="2.20" fill="#000"/>
<line x1="543.14" y1="260.23" x2="543.14" y2="255.08" stroke="#000" stroke-width="0.80"/>
<line x1="541.64" y1="260.23" x2="544.64" y2="260.23" stroke="#000" stroke-width="0.80"/>
<line x1="541.64" y1="255.08" x2="544.64" y2="255.08" stroke="#000" stroke-width="0.80"/>
<rect x="542.04" y="256.55" width="2.20" height="2.20" fill="#000"/>
<line x1="546.15" y1="263.49" x2="546.15" y2="258.87" stroke="#000" stroke-width="0.80"/>
<line x1="544.65" y1="263.49" x2="547.65" y2="263.49" stroke="#000" stroke-width="0.80"/>
<line x1="544.65" y1="258.87" x2="547.65" y2="258.87" stroke="#000" stroke-width="0.80"/>
<rect x="545.05" y="260.08" width="2.20" height="2.20" fill="#000"/>
<line x1="549.17" y1="267.72" x2="549.17" y2="263.91" stroke="#000" stroke-width="0.80"/>
<line x1="547.67" y1="267.72" x2="550.67" y2="267.72" stroke="#000" stroke-width="0.80"/>
<line x1="547.67" y1="263.91" x2="550.67" y2="263.91" stroke="#000" stroke-width="0.80"/>
<rect x="548.07" y="264.72" width="2.20" height="2.20" fill="#000"/>
<line x1="552.18" y1="271.49" x2="552.18" y2="268.61" stroke="#000" stroke-width="0.80"/>
<line x1="550.68" y1="271.49" x2="553.68" y2="271.49" stroke="#000" stroke-width="0.80"/>
<line x1="550.68" y1="268.61" x2="553.68" y2="268.61" stroke="#000" stroke-width="0.80"/>
<rect x="551.08" y="268.95" width="2.20" height="2.20" fill="#000"/>
<line x1="555.19" y1="274.12" x2="555.19" y2="272.18" stroke="#000" stroke-width="0.80"/>
<line x1="553.69" y1="274.12" x2="556.69" y2="274.12" stroke="#000" stroke-width="0.80"/>
<line x1="553.69" y1="272.18" x2="556.69" y2="272.18" stroke="#000" stroke-width="0.80"/>
<rect x="554.09" y="272.05" width="2.20" height="2.20" fill="#000"/>
</g>
<rect x="382.00" y="199.30" width="301.20" height="76.40" fill="none" stroke="#333333" stroke-width="1.00"/>
<line x1="382.00" y1="275.70" x2="382.00" y2="279.10" stroke="#333333" stroke-width="0.90"/>
<text x="382.00" y="287.70" font-size="8.80" text-anchor="middle" fill="#000" stroke="#000" stroke-width="0.12">0</text>
<line x1="394.05" y1="275.70" x2="394.05" y2="277.70" stroke="#333333" stroke-width="0.75"/>
<line x1="406.10" y1="275.70" x2="406.10" y2="277.70" stroke="#333333" stroke-width="0.75"/>
<line x1="418.14" y1="275.70" x2="418.14" y2="277.70" stroke="#333333" stroke-width="0.75"/>
<line x1="430.19" y1="275.70" x2="430.19" y2="277.70" stroke="#333333" stroke-width="0.75"/>
<line x1="442.24" y1="275.70" x2="442.24" y2="279.10" stroke="#333333" stroke-width="0.90"/>
<text x="442.24" y="287.70" font-size="8.80" text-anchor="middle" fill="#000" stroke="#000" stroke-width="0.12">1</text>
<line x1="454.29" y1="275.70" x2="454.29" y2="277.70" stroke="#333333" stroke-width="0.75"/>
<line x1="466.34" y1="275.70" x2="466.34" y2="277.70" stroke="#333333" stroke-width="0.75"/>
<line x1="478.38" y1="275.70" x2="478.38" y2="277.70" stroke="#333333" stroke-width="0.75"/>
<line x1="490.43" y1="275.70" x2="490.43" y2="277.70" stroke="#333333" stroke-width="0.75"/>
<line x1="502.48" y1="275.70" x2="502.48" y2="279.10" stroke="#333333" stroke-width="0.90"/>
<text x="502.48" y="287.70" font-size="8.80" text-anchor="middle" fill="#000" stroke="#000" stroke-width="0.12">2</text>
<line x1="514.53" y1="275.70" x2="514.53" y2="277.70" stroke="#333333" stroke-width="0.75"/>
<line x1="526.58" y1="275.70" x2="526.58" y2="277.70" stroke="#333333" stroke-width="0.75"/>
<line x1="538.62" y1="275.70" x2="538.62" y2="277.70" stroke="#333333" stroke-width="0.75"/>
<line x1="550.67" y1="275.70" x2="550.67" y2="277.70" stroke="#333333" stroke-width="0.75"/>
<line x1="562.72" y1="275.70" x2="562.72" y2="279.10" stroke="#333333" stroke-width="0.90"/>
<text x="562.72" y="287.70" font-size="8.80" text-anchor="middle" fill="#000" stroke="#000" stroke-width="0.12">3</text>
<line x1="574.77" y1="275.70" x2="574.77" y2="277.70" stroke="#333333" stroke-width="0.75"/>
<line x1="586.82" y1="275.70" x2="586.82" y2="277.70" stroke="#333333" stroke-width="0.75"/>
<line x1="598.86" y1="275.70" x2="598.86" y2="277.70" stroke="#333333" stroke-width="0.75"/>
<line x1="610.91" y1="275.70" x2="610.91" y2="277.70" stroke="#333333" stroke-width="0.75"/>
<line x1="622.96" y1="275.70" x2="622.96" y2="279.10" stroke="#333333" stroke-width="0.90"/>
<text x="622.96" y="287.70" font-size="8.80" text-anchor="middle" fill="#000" stroke="#000" stroke-width="0.12">4</text>
<line x1="635.01" y1="275.70" x2="635.01" y2="277.70" stroke="#333333" stroke-width="0.75"/>
<line x1="647.06" y1="275.70" x2="647.06" y2="277.70" stroke="#333333" stroke-width="0.75"/>
<line x1="659.10" y1="275.70" x2="659.10" y2="277.70" stroke="#333333" stroke-width="0.75"/>
<line x1="671.15" y1="275.70" x2="671.15" y2="277.70" stroke="#333333" stroke-width="0.75"/>
<line x1="683.20" y1="275.70" x2="683.20" y2="279.10" stroke="#333333" stroke-width="0.90"/>
<text x="683.20" y="287.70" font-size="8.80" text-anchor="middle" fill="#000" stroke="#000" stroke-width="0.12">5</text>
<line x1="378.60" y1="275.70" x2="382.00" y2="275.70" stroke="#333333" stroke-width="1.00"/>
<text x="375.70" y="278.85" font-size="8.80" text-anchor="end" fill="#000" stroke="#000" stroke-width="0.12">0</text>
<line x1="378.60" y1="250.23" x2="382.00" y2="250.23" stroke="#333333" stroke-width="1.00"/>
<text x="375.70" y="253.38" font-size="8.80" text-anchor="end" fill="#000" stroke="#000" stroke-width="0.12">50</text>
<line x1="378.60" y1="224.77" x2="382.00" y2="224.77" stroke="#333333" stroke-width="1.00"/>
<text x="375.70" y="227.92" font-size="8.80" text-anchor="end" fill="#000" stroke="#000" stroke-width="0.12">100</text>
<line x1="378.60" y1="199.30" x2="382.00" y2="199.30" stroke="#333333" stroke-width="1.00"/>
<text x="375.70" y="202.45" font-size="8.80" text-anchor="end" fill="#000" stroke="#000" stroke-width="0.12">150</text>
<text transform="translate(350.60,52.90) rotate(-90)" font-size="13.6" text-anchor="middle" fill="#000" textLength="44.6" lengthAdjust="spacingAndGlyphs">Counts</text>
<text transform="translate(350.60,145.20) rotate(-90)" font-size="13.6" text-anchor="middle" fill="#000" textLength="44.6" lengthAdjust="spacingAndGlyphs">Counts</text>
<text transform="translate(355.40,237.00) rotate(-90)" font-size="13.6" text-anchor="middle" fill="#000" textLength="44.6" lengthAdjust="spacingAndGlyphs">Counts</text>
<text x="509.00" y="302.40" font-size="13.4" fill="#000"><tspan font-style="italic">E</tspan><tspan font-size="9" dy="3">K</tspan><tspan font-size="6.5" dy="2">i</tspan><tspan dy="-5"> (eV)</tspan></text>
<text x="454.90" y="11.00" font-size="11.4" fill="#000" textLength="25.3" lengthAdjust="spacingAndGlyphs">3<tspan font-style="italic">pλ</tspan><tspan font-size="8.2" dy="2.6">u</tspan></text>
<text x="515.20" y="11.00" font-size="11.4" fill="#000" textLength="23.6" lengthAdjust="spacingAndGlyphs">3<tspan font-style="italic">sσ</tspan><tspan font-size="8.2" dy="2.6">g</tspan></text>
<text x="622.80" y="29.90" font-size="12.00" text-anchor="middle" fill="#0000ff" textLength="107.80" lengthAdjust="spacingAndGlyphs" stroke="#0000ff" stroke-width="0.12">O(<tspan dy="-4.32" font-size="7.92">3</tspan><tspan dy="4.32">P)</tspan><tspan dy="0">+</tspan>O(<tspan dy="-4.32" font-size="7.92">3</tspan><tspan dy="4.32">P)</tspan><tspan dy="0">+</tspan>O(<tspan dy="-4.32" font-size="7.92">3</tspan><tspan dy="4.32">P)</tspan></text>
<text x="624.50" y="122.40" font-size="12.00" text-anchor="middle" fill="#1a8c1a" textLength="109.00" lengthAdjust="spacingAndGlyphs" stroke="#1a8c1a" stroke-width="0.12">O(<tspan dy="-4.32" font-size="7.92">1</tspan><tspan dy="4.32">D)</tspan><tspan dy="0">+</tspan>O(<tspan dy="-4.32" font-size="7.92">3</tspan><tspan dy="4.32">P)</tspan><tspan dy="0">+</tspan>O(<tspan dy="-4.32" font-size="7.92">3</tspan><tspan dy="4.32">P)</tspan></text>
<text x="624.50" y="214.60" font-size="12.00" text-anchor="middle" fill="#c8901a" textLength="111.00" lengthAdjust="spacingAndGlyphs" stroke="#c8901a" stroke-width="0.12">O(<tspan dy="-4.32" font-size="7.92">1</tspan><tspan dy="4.32">D)</tspan><tspan dy="0">+</tspan>O(<tspan dy="-4.32" font-size="7.92">1</tspan><tspan dy="4.32">D)</tspan><tspan dy="0">+</tspan>O(<tspan dy="-4.32" font-size="7.92">3</tspan><tspan dy="4.32">P)</tspan></text>
<line x1="575.3" y1="43.8" x2="599.2" y2="43.8" stroke="#808080" stroke-width="1.5"/>
<text x="608.00" y="48.20" font-size="12.30" text-anchor="start" fill="#000" stroke="#000" stroke-width="0.12">Fit</text>
<line x1="587.50" y1="55.0" x2="587.50" y2="66.3" stroke="#000" stroke-width="1.0"/>
<line x1="585.70" y1="55.0" x2="589.30" y2="55.0" stroke="#000" stroke-width="1.0"/>
<line x1="585.70" y1="66.3" x2="589.30" y2="66.3" stroke="#000" stroke-width="1.0"/>
<rect x="586.20" y="59.4" width="2.6" height="2.6" fill="#000"/>
<text x="608.00" y="65.00" font-size="12.30" text-anchor="start" fill="#000" textLength="64.70" lengthAdjust="spacingAndGlyphs" stroke="#000" stroke-width="0.12">Experiment</text>
</svg>
</body></html>
